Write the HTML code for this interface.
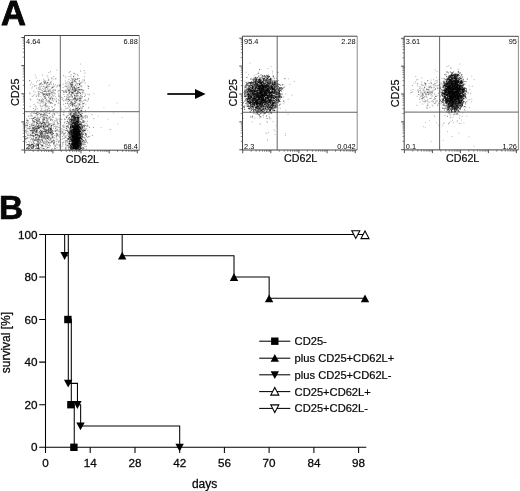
<!DOCTYPE html><html><head><meta charset="utf-8"><title>Figure</title><style>html,body{margin:0;padding:0;background:#fff}svg{display:block}text{font-family:"Liberation Sans",Arial,sans-serif;fill:#080808}</style></head><body>
<svg width="520" height="491" viewBox="0 0 520 491">
<defs><filter id="b" x="-5%" y="-5%" width="110%" height="110%"><feGaussianBlur stdDeviation="0.5"/></filter><filter id="c" x="-5%" y="-5%" width="110%" height="110%"><feGaussianBlur stdDeviation="0.22"/></filter></defs>
<rect width="520" height="491" fill="#fff"/>
<text x="0.9" y="25.0" font-size="34.5" font-weight="bold" fill="#000" stroke="#000" stroke-width="0.8">A</text>
<text x="-0.9" y="219.0" font-size="33.5" font-weight="bold" fill="#000" stroke="#000" stroke-width="0.7">B</text>
<g filter="url(#b)">
<path d="M75.1 142.9h.01M75.2 134.2h.01M73.3 135.3h.01M78.8 142.0h.01M78.6 140.1h.01M76.9 139.4h.01M71.3 146.5h.01M77.2 142.7h.01M71.2 119.2h.01M73.4 132.6h.01M76.6 137.0h.01M77.2 130.8h.01M76.6 141.6h.01M74.1 129.7h.01M74.9 136.4h.01M77.5 140.1h.01M74.6 127.5h.01M73.6 140.1h.01M77.0 121.9h.01M70.4 134.1h.01M75.5 128.9h.01M77.1 136.8h.01M71.8 146.2h.01M77.6 147.4h.01M79.7 141.3h.01M76.1 123.9h.01M77.5 131.1h.01M74.6 124.2h.01M73.2 131.9h.01M79.3 116.2h.01M71.9 140.0h.01M79.7 143.6h.01M70.7 111.1h.01M76.8 129.8h.01M72.8 147.8h.01M78.8 139.2h.01M76.5 142.1h.01M80.1 144.0h.01M77.2 143.3h.01M78.4 143.1h.01M70.5 130.8h.01M78.1 118.5h.01M75.3 148.2h.01M77.3 135.9h.01M76.7 144.3h.01M76.1 149.5h.01M74.0 133.1h.01M78.6 137.8h.01M73.4 147.4h.01M79.8 132.8h.01M72.1 136.1h.01M75.4 134.4h.01M79.6 126.7h.01M79.2 124.2h.01M73.7 144.1h.01M78.8 146.5h.01M76.7 139.0h.01M76.2 143.5h.01M75.3 140.4h.01M77.3 137.5h.01M77.9 143.4h.01M81.2 140.9h.01M74.6 133.6h.01M75.8 147.2h.01M74.9 141.6h.01M80.8 110.6h.01M72.8 140.1h.01M76.9 140.0h.01M74.6 144.4h.01M76.6 132.0h.01M82.4 141.2h.01M74.3 136.5h.01M75.2 136.8h.01M68.4 132.4h.01M78.5 125.2h.01M75.6 147.5h.01M71.2 133.8h.01M74.9 144.0h.01M78.7 109.3h.01M78.7 122.3h.01M77.6 121.8h.01M75.4 139.5h.01M78.0 139.0h.01M78.6 134.4h.01M83.2 125.5h.01M78.3 134.7h.01M76.2 144.9h.01M76.4 144.2h.01M71.7 121.7h.01M77.5 127.4h.01M73.0 122.1h.01M79.2 145.3h.01M79.8 127.7h.01M75.8 125.5h.01M78.5 135.6h.01M75.5 131.2h.01M76.9 141.8h.01M79.8 126.8h.01M79.7 135.6h.01M73.8 148.2h.01M76.1 138.8h.01M79.6 134.7h.01M69.6 133.4h.01M70.8 146.1h.01M76.7 131.1h.01M75.8 146.2h.01M75.6 148.4h.01M74.0 146.7h.01M70.7 126.1h.01M70.5 148.7h.01M72.5 137.4h.01M75.3 137.2h.01M74.2 140.0h.01M80.6 138.0h.01M77.2 148.0h.01M75.3 124.3h.01M74.3 148.8h.01M71.4 131.2h.01M78.5 145.8h.01M75.8 146.0h.01M76.2 125.1h.01M71.6 130.8h.01M78.3 131.6h.01M73.4 129.4h.01M71.7 136.3h.01M72.6 141.3h.01M69.4 140.9h.01M74.1 117.1h.01M77.8 134.6h.01M69.8 128.3h.01M76.6 132.7h.01M77.9 145.3h.01M77.6 140.9h.01M79.4 144.4h.01M77.0 115.6h.01M75.0 132.6h.01M81.0 119.0h.01M73.3 144.7h.01M80.9 136.2h.01M77.3 147.0h.01M73.4 136.6h.01M76.6 146.2h.01M75.7 135.4h.01M73.1 133.7h.01M78.2 138.6h.01M73.5 128.7h.01M83.0 149.5h.01M77.5 110.3h.01M77.5 142.5h.01M80.3 142.0h.01M75.6 143.0h.01M70.6 148.3h.01M76.7 130.1h.01M72.0 130.5h.01M76.6 139.4h.01M74.7 127.3h.01M81.5 148.4h.01M72.6 123.4h.01M80.4 147.9h.01M80.7 146.0h.01M73.4 140.2h.01M70.0 129.6h.01M75.6 143.0h.01M73.8 136.2h.01M77.0 141.5h.01M77.5 139.7h.01M74.9 145.8h.01M75.9 128.8h.01M74.1 137.5h.01M75.5 139.1h.01M75.8 139.3h.01M75.4 124.3h.01M76.9 148.6h.01M77.0 135.5h.01M77.0 127.4h.01M70.7 138.1h.01M73.3 145.3h.01M72.9 109.9h.01M74.8 123.1h.01M73.7 143.0h.01M77.1 139.4h.01M79.8 144.9h.01M75.7 143.8h.01M80.3 147.7h.01M78.6 126.1h.01M75.4 145.2h.01M75.0 148.7h.01M77.4 147.0h.01M79.1 135.2h.01M74.9 146.7h.01M78.4 137.6h.01M72.6 139.5h.01M76.8 149.4h.01M77.9 137.8h.01M78.1 143.2h.01M76.4 138.1h.01M75.1 144.7h.01M73.0 130.9h.01M75.8 122.1h.01M74.6 116.4h.01M74.0 143.5h.01M77.3 136.9h.01M75.2 122.6h.01M80.7 142.9h.01M78.8 128.2h.01M75.3 118.4h.01M77.9 147.3h.01M70.7 137.0h.01M77.5 119.0h.01M70.9 126.3h.01M74.1 122.8h.01M75.9 140.1h.01M77.5 144.9h.01M72.3 132.2h.01M72.9 126.2h.01M75.6 137.6h.01M77.1 120.8h.01M72.5 137.3h.01M75.3 134.2h.01M75.6 129.5h.01M77.7 141.2h.01M75.6 130.4h.01M75.3 108.9h.01M73.2 137.9h.01M71.7 139.6h.01M76.2 123.0h.01M75.1 134.2h.01M77.0 143.9h.01M75.7 128.6h.01M75.4 136.8h.01M77.8 140.6h.01M73.8 123.3h.01M74.8 129.7h.01M72.8 136.3h.01M74.5 138.6h.01M77.2 133.2h.01M82.1 134.1h.01M78.8 138.8h.01M78.8 112.6h.01M73.8 140.1h.01M77.9 147.4h.01M77.2 135.9h.01M77.2 126.2h.01M79.0 126.8h.01M75.2 137.7h.01M78.9 137.8h.01M73.6 140.2h.01M77.4 145.0h.01M80.3 137.7h.01M76.5 133.0h.01M79.6 130.1h.01M77.6 132.5h.01M73.9 145.0h.01M79.4 137.4h.01M74.0 146.0h.01M75.7 140.8h.01M79.9 149.4h.01M75.8 145.8h.01M74.1 137.0h.01M79.5 124.7h.01M71.7 120.5h.01M79.0 132.7h.01M75.6 134.2h.01M75.5 126.1h.01M75.9 122.4h.01M75.6 140.7h.01M77.1 135.1h.01M73.4 139.2h.01M77.9 136.3h.01M74.5 130.1h.01M73.3 133.8h.01M76.6 142.9h.01M73.9 137.6h.01M83.3 117.9h.01M74.4 139.3h.01M76.2 141.8h.01M75.2 141.3h.01M75.9 145.6h.01M70.7 128.2h.01M75.8 126.7h.01M73.0 144.1h.01M74.0 144.2h.01M77.8 140.7h.01M77.2 136.4h.01M72.0 137.2h.01M77.0 131.9h.01M75.5 145.4h.01M73.4 144.2h.01M80.8 131.7h.01M76.2 135.9h.01M80.0 140.8h.01M78.2 130.3h.01M75.8 137.4h.01M78.2 119.1h.01M77.8 136.1h.01M77.0 141.3h.01M71.8 135.3h.01M79.8 131.5h.01M73.0 123.2h.01M72.5 141.0h.01M80.4 142.0h.01M74.4 130.4h.01M77.2 143.3h.01M73.1 125.2h.01M76.6 140.1h.01M72.3 135.4h.01M74.3 142.3h.01M75.5 136.6h.01M74.8 148.6h.01M79.6 133.6h.01M78.1 129.5h.01M76.0 145.4h.01M79.9 133.5h.01M75.6 139.6h.01M71.8 137.7h.01M74.0 141.4h.01M72.7 116.7h.01M75.9 140.2h.01M74.3 146.8h.01M75.1 131.1h.01M77.1 121.0h.01M74.0 137.3h.01M78.1 135.8h.01M76.6 130.6h.01M74.1 137.7h.01M76.3 148.3h.01M72.5 115.4h.01M77.4 145.9h.01M76.4 140.2h.01M78.3 141.4h.01M80.3 124.5h.01M74.8 101.3h.01M78.0 133.6h.01M75.8 134.8h.01M74.5 128.7h.01M74.1 144.2h.01M75.9 138.2h.01M75.3 147.1h.01M77.1 136.0h.01M77.6 135.9h.01M77.1 127.4h.01M78.7 141.1h.01M76.7 146.9h.01M76.3 135.9h.01M71.6 147.7h.01M75.9 134.5h.01M76.7 138.3h.01M77.6 133.6h.01M75.7 115.0h.01M74.7 144.6h.01M79.4 133.7h.01M74.9 145.2h.01M80.3 137.9h.01M79.1 130.0h.01M76.4 136.7h.01M76.1 149.4h.01M82.3 130.5h.01M74.2 142.7h.01M73.0 142.7h.01M77.3 134.6h.01M77.2 121.2h.01M77.9 121.3h.01M73.9 131.7h.01M74.7 146.5h.01M76.0 133.3h.01M75.8 141.3h.01M79.1 140.3h.01M81.8 116.7h.01M75.7 141.9h.01M78.4 144.5h.01M75.1 126.4h.01M76.1 148.4h.01M72.9 126.7h.01M75.7 117.2h.01M75.1 132.9h.01M77.0 130.1h.01M73.4 133.4h.01M75.7 130.5h.01M75.8 145.4h.01M73.7 133.1h.01M73.8 137.1h.01M77.2 123.2h.01M77.1 137.2h.01M70.9 140.6h.01M79.0 117.9h.01M78.0 139.7h.01M77.1 142.1h.01M79.3 135.2h.01M78.2 133.2h.01M77.8 129.0h.01M77.0 135.8h.01M72.7 129.2h.01M76.3 147.4h.01M77.0 143.0h.01M74.7 131.7h.01M78.2 138.2h.01M75.0 131.5h.01M75.1 144.0h.01M76.8 124.8h.01M77.0 139.4h.01M73.1 145.6h.01M75.0 134.0h.01M73.9 142.1h.01M74.1 146.0h.01M81.8 110.8h.01M74.6 142.8h.01M75.5 130.5h.01M81.6 138.3h.01M71.4 146.5h.01M71.2 149.6h.01M74.2 139.0h.01M79.2 138.7h.01M72.0 119.7h.01M79.0 145.3h.01M73.6 146.5h.01M77.1 144.3h.01M69.7 134.3h.01M78.2 145.2h.01M78.2 111.7h.01M76.3 142.7h.01M82.7 127.5h.01M74.9 137.9h.01M78.2 132.8h.01M78.9 129.2h.01M76.5 132.0h.01M76.2 130.2h.01M71.5 149.0h.01M76.6 131.6h.01M76.3 147.9h.01M73.2 136.3h.01M77.3 143.0h.01M74.9 115.4h.01M79.2 140.9h.01M75.8 134.6h.01M76.5 133.0h.01M73.0 129.7h.01M74.2 131.1h.01M72.7 144.2h.01M72.3 144.4h.01M73.1 141.2h.01M79.5 139.6h.01M73.8 138.0h.01M76.2 119.3h.01M74.2 139.2h.01M74.5 138.3h.01M77.8 145.5h.01M78.2 143.7h.01M75.0 137.3h.01M75.1 134.2h.01M75.3 119.4h.01M74.9 137.2h.01M73.2 137.2h.01M77.2 135.8h.01M81.4 110.1h.01M75.2 118.3h.01M69.0 138.8h.01M77.2 134.3h.01M77.3 113.9h.01M78.1 141.4h.01M75.9 131.3h.01M77.5 132.4h.01M76.4 132.1h.01M69.7 137.2h.01M76.3 145.4h.01M73.4 137.2h.01M77.5 139.0h.01M73.3 117.3h.01M78.3 146.0h.01M74.1 130.0h.01M78.2 127.9h.01M70.9 127.0h.01M73.9 129.8h.01M76.4 129.6h.01M79.3 136.7h.01M74.2 139.8h.01M75.8 134.2h.01M76.7 130.2h.01M70.8 114.3h.01M72.4 129.5h.01M75.7 138.1h.01M77.3 138.8h.01M73.7 130.1h.01M70.1 135.7h.01M77.1 143.1h.01M75.5 135.7h.01M78.3 137.7h.01M77.8 143.6h.01M74.3 133.7h.01M73.6 129.1h.01M75.9 143.5h.01M79.0 146.0h.01M79.1 124.2h.01M74.1 142.3h.01M79.7 138.6h.01M73.5 133.8h.01M74.0 128.5h.01M79.9 130.9h.01M79.0 141.0h.01M74.1 141.8h.01M80.2 144.0h.01M79.2 138.5h.01M77.2 135.4h.01M71.9 136.8h.01M76.4 131.5h.01M75.0 145.8h.01M81.2 144.1h.01M76.7 121.2h.01M81.0 138.3h.01M75.7 125.8h.01M75.6 126.0h.01M76.0 142.4h.01M75.9 140.4h.01M74.0 118.4h.01M75.3 129.5h.01M73.1 133.8h.01M76.6 125.1h.01M77.6 135.9h.01M76.1 136.2h.01M75.7 145.2h.01M75.6 112.3h.01M75.7 128.2h.01M77.6 131.1h.01M73.0 125.7h.01M72.0 112.4h.01M70.7 141.3h.01M74.1 117.9h.01M71.8 144.0h.01M73.7 133.6h.01M81.0 148.3h.01M76.2 139.4h.01M75.0 142.3h.01M76.6 138.0h.01M74.4 123.6h.01M74.4 121.3h.01M79.1 143.1h.01M78.2 117.5h.01M80.8 146.0h.01M81.4 124.6h.01M77.2 141.9h.01M76.3 139.3h.01M78.6 121.8h.01M72.4 122.9h.01M74.3 131.1h.01M76.8 140.3h.01M75.9 130.4h.01M74.6 147.5h.01M77.9 138.6h.01M74.2 144.3h.01M78.9 134.7h.01M78.0 125.8h.01M78.5 139.6h.01M71.5 144.5h.01M74.0 135.8h.01M76.6 134.0h.01M76.5 131.7h.01M77.6 137.6h.01M76.4 108.6h.01M78.9 137.8h.01M71.0 138.5h.01M77.1 148.7h.01M75.4 144.6h.01M74.8 125.8h.01M78.8 147.0h.01M80.0 146.5h.01M74.3 120.0h.01M74.0 130.4h.01M73.6 143.6h.01M76.7 134.7h.01M76.3 136.0h.01M76.4 145.4h.01M78.4 130.3h.01M76.1 149.1h.01M71.4 134.0h.01M75.9 122.4h.01M74.4 145.1h.01M73.5 122.8h.01M77.2 147.4h.01M76.3 123.8h.01M77.9 145.8h.01M77.3 132.4h.01M76.6 145.8h.01M74.3 118.1h.01M76.7 142.5h.01M75.8 146.8h.01M74.2 136.6h.01M75.0 143.5h.01M80.1 134.9h.01M77.9 143.7h.01M80.6 135.6h.01M75.5 126.3h.01M77.2 141.9h.01M75.3 139.3h.01M72.0 148.5h.01M74.7 125.9h.01M73.8 128.8h.01M78.1 148.6h.01M72.1 147.2h.01M78.2 131.4h.01M71.8 129.7h.01M74.1 141.1h.01M74.8 116.2h.01M76.4 121.4h.01M78.2 124.8h.01M73.9 128.5h.01M78.1 143.8h.01M76.7 121.2h.01M74.4 131.7h.01M73.2 142.8h.01M73.8 130.0h.01M73.0 115.9h.01M76.3 127.2h.01M68.5 139.3h.01M79.1 140.6h.01M78.8 132.9h.01M78.6 145.6h.01M71.7 133.2h.01M72.0 136.4h.01M77.4 126.3h.01M72.2 148.6h.01M75.2 140.3h.01M75.4 148.0h.01M78.6 138.4h.01M72.1 145.3h.01M74.5 144.1h.01M78.9 132.8h.01M74.3 142.1h.01M77.2 123.6h.01M72.4 140.1h.01M73.5 149.4h.01M77.9 119.9h.01M73.6 139.2h.01M74.5 135.9h.01M77.1 129.0h.01M77.1 130.8h.01M74.3 143.1h.01M74.3 140.5h.01M80.1 137.8h.01M75.4 145.2h.01M74.8 148.9h.01M72.3 144.0h.01M74.4 129.1h.01M80.6 128.6h.01M80.5 144.4h.01M79.7 127.2h.01M75.5 136.1h.01M82.4 139.4h.01M74.7 130.9h.01M77.0 141.0h.01M74.9 142.5h.01M79.7 127.0h.01M72.1 126.0h.01M73.0 118.1h.01M77.0 118.0h.01M71.4 134.2h.01M70.6 145.7h.01M73.8 134.7h.01M75.9 143.2h.01M74.9 137.7h.01M74.3 138.7h.01M72.6 138.2h.01M70.6 132.4h.01M81.0 138.3h.01M72.4 140.2h.01M73.2 120.2h.01M73.8 145.2h.01M76.8 136.5h.01M73.3 126.2h.01M79.4 140.1h.01M73.2 115.3h.01M72.7 136.7h.01M76.4 135.8h.01M75.0 123.1h.01M73.8 146.4h.01M71.2 134.6h.01M76.5 148.4h.01M72.8 143.8h.01M76.8 129.8h.01M77.1 128.1h.01M73.7 137.3h.01M68.5 136.3h.01M73.1 122.1h.01M74.7 145.5h.01M72.7 123.7h.01M80.0 141.7h.01M78.4 128.8h.01M78.0 140.2h.01M77.6 137.8h.01M79.1 130.7h.01M73.2 122.0h.01M78.9 129.7h.01M73.0 127.6h.01M74.6 124.2h.01M75.0 130.9h.01M74.3 127.4h.01M75.9 132.7h.01M76.1 140.1h.01M76.7 114.5h.01M74.4 129.1h.01M77.9 120.9h.01M73.9 134.4h.01M74.9 147.9h.01M74.6 147.6h.01M71.8 118.5h.01M79.1 142.1h.01M77.1 138.8h.01M77.1 124.7h.01M78.4 131.9h.01M78.5 138.4h.01M70.5 124.0h.01M78.8 136.1h.01M74.7 140.0h.01M74.7 131.8h.01M76.1 139.0h.01M79.9 138.0h.01M80.4 148.6h.01M76.2 138.9h.01M75.4 129.8h.01M75.6 130.8h.01M80.2 143.1h.01M74.6 117.4h.01M75.7 133.1h.01M72.9 125.6h.01M69.7 143.5h.01M75.7 135.9h.01M79.7 138.9h.01M76.3 133.6h.01M74.9 137.8h.01M73.4 147.7h.01M72.0 143.4h.01M73.3 148.9h.01M73.9 129.6h.01M80.3 131.3h.01M73.7 133.9h.01M82.6 148.0h.01M74.3 118.7h.01M80.8 134.7h.01M73.9 132.1h.01M70.7 147.0h.01M72.9 148.7h.01M71.2 124.2h.01M76.6 129.5h.01M77.9 137.6h.01M72.6 144.0h.01M78.1 117.4h.01M80.7 142.7h.01M77.9 118.0h.01M73.9 133.8h.01M78.7 122.2h.01M73.4 116.2h.01M75.1 141.1h.01M71.2 131.3h.01M77.6 134.3h.01M72.6 127.7h.01M74.0 139.0h.01M76.6 126.2h.01M80.0 147.5h.01M76.1 129.9h.01M70.7 126.8h.01M78.3 129.1h.01M72.2 139.6h.01M76.5 143.9h.01M73.5 147.8h.01M73.1 144.8h.01M76.3 140.1h.01M78.4 137.3h.01M78.8 146.7h.01M76.2 131.5h.01M73.8 132.0h.01M75.3 137.2h.01M83.8 144.2h.01M77.9 128.5h.01M73.9 134.1h.01M76.3 126.6h.01M80.2 131.6h.01M78.7 113.0h.01M75.8 140.4h.01M76.3 143.8h.01M76.6 139.2h.01M70.7 130.0h.01M69.5 144.1h.01M76.6 135.4h.01M73.6 131.4h.01M71.5 117.2h.01M74.5 128.3h.01M74.3 139.5h.01M84.0 130.6h.01M75.9 140.4h.01M75.7 147.3h.01M80.6 124.4h.01M76.2 134.7h.01M76.8 121.4h.01M71.1 113.2h.01M77.2 139.5h.01M76.0 112.7h.01M74.8 129.6h.01M72.0 127.9h.01M77.7 143.2h.01M75.7 142.9h.01M74.2 138.2h.01M75.9 143.3h.01M75.6 136.0h.01M75.4 130.7h.01M81.8 142.9h.01M79.6 121.2h.01M77.7 146.3h.01M77.9 125.1h.01M73.4 140.3h.01M77.2 126.8h.01M74.8 133.3h.01M76.0 141.0h.01M75.0 124.5h.01M75.5 148.3h.01M77.0 144.4h.01M77.1 129.5h.01M77.3 148.1h.01M81.2 145.3h.01M74.9 131.2h.01M73.6 138.7h.01M75.7 144.5h.01M81.9 137.2h.01M77.6 142.5h.01M76.5 135.3h.01M75.5 128.8h.01M76.3 137.2h.01M76.7 128.5h.01M75.9 138.0h.01M77.4 126.3h.01M76.9 147.8h.01M77.4 133.6h.01M74.5 135.0h.01M75.4 130.8h.01M76.8 139.6h.01M73.3 129.8h.01M75.5 144.6h.01M72.6 126.8h.01M77.1 124.6h.01M76.1 141.2h.01M75.5 126.8h.01M75.6 134.0h.01M76.7 128.7h.01M78.7 119.9h.01M75.3 137.6h.01M78.4 131.1h.01M77.3 131.5h.01M74.7 142.2h.01M73.3 147.7h.01M79.1 137.9h.01M72.7 141.7h.01M78.9 148.9h.01M78.0 118.3h.01M72.5 149.4h.01M80.9 145.5h.01M78.8 134.0h.01M72.5 136.4h.01M75.3 137.0h.01M77.7 136.0h.01M76.3 142.0h.01M77.0 138.4h.01M75.2 130.9h.01M79.4 139.1h.01M72.9 131.6h.01M75.4 132.8h.01M78.7 125.3h.01M77.1 139.0h.01M72.6 138.0h.01M75.5 142.8h.01M74.6 140.7h.01M71.3 126.1h.01M77.9 148.4h.01M75.8 131.2h.01M78.7 115.5h.01M73.6 144.6h.01M77.6 126.7h.01M76.2 128.1h.01M75.9 147.0h.01M68.8 149.2h.01M77.8 115.6h.01M77.9 118.8h.01M78.9 141.7h.01M81.9 131.1h.01M75.8 148.5h.01M74.1 130.1h.01M74.8 136.7h.01M72.9 142.6h.01M77.3 138.3h.01M80.4 134.1h.01M79.3 131.8h.01M77.8 117.2h.01M76.3 135.7h.01M74.5 131.1h.01M74.9 129.9h.01M69.9 131.2h.01M74.3 132.0h.01M72.9 136.1h.01M77.9 134.9h.01M78.4 147.2h.01M78.9 134.1h.01M75.5 149.2h.01M74.3 136.2h.01M76.8 141.4h.01M75.1 147.8h.01M75.3 145.1h.01M78.7 144.4h.01M77.8 125.3h.01M72.3 131.0h.01M72.5 140.7h.01M73.5 129.8h.01M75.1 144.8h.01M73.1 146.8h.01M78.3 138.2h.01M77.1 131.6h.01M72.9 133.2h.01M76.3 140.8h.01M77.8 129.3h.01M78.3 141.5h.01M71.7 143.8h.01M77.3 142.3h.01M80.1 133.1h.01M77.2 145.4h.01M71.9 123.8h.01M77.2 126.1h.01M75.5 120.2h.01M76.0 125.6h.01M76.7 121.4h.01M77.0 134.7h.01M76.0 136.8h.01M76.2 123.6h.01M68.9 137.9h.01M73.3 132.7h.01M77.0 116.7h.01M73.7 131.1h.01M72.9 140.9h.01M75.4 128.9h.01M73.1 146.0h.01M74.0 143.6h.01M77.0 117.6h.01M72.9 137.5h.01M76.7 145.7h.01M78.0 148.4h.01M74.8 135.3h.01M77.9 133.0h.01M78.7 120.8h.01M77.6 135.7h.01M70.5 147.8h.01M76.6 137.7h.01M72.9 132.6h.01M79.9 128.8h.01M66.4 128.5h.01M72.6 136.1h.01M74.7 127.9h.01M73.5 148.5h.01M74.3 126.0h.01M77.9 143.4h.01M73.0 145.4h.01M70.8 127.8h.01M78.8 134.8h.01M72.3 142.9h.01M78.3 137.3h.01M70.9 133.9h.01M76.9 145.6h.01M80.8 134.8h.01M74.5 137.1h.01M79.1 127.6h.01M79.3 108.6h.01M78.0 130.4h.01M77.0 144.7h.01M72.6 136.6h.01M76.4 143.7h.01M73.3 127.1h.01M75.3 135.2h.01M71.8 147.3h.01M78.1 137.7h.01M77.8 125.8h.01M74.9 131.5h.01M72.4 137.7h.01M66.7 130.4h.01M73.3 132.6h.01M76.9 141.7h.01M75.9 132.5h.01M77.1 141.3h.01M70.8 134.7h.01M72.1 125.1h.01M76.2 138.1h.01M76.1 128.3h.01M75.3 127.9h.01M76.8 144.7h.01M73.6 132.7h.01M73.3 140.7h.01M81.1 144.9h.01M69.9 124.3h.01M72.3 142.9h.01M75.8 140.6h.01M80.6 128.8h.01M76.7 129.3h.01M70.3 121.5h.01M69.2 138.2h.01M75.9 147.9h.01M75.4 130.2h.01M71.0 139.3h.01M75.9 144.0h.01M74.7 142.7h.01M78.0 136.0h.01M74.6 135.5h.01M73.2 135.3h.01M75.0 139.7h.01M74.6 143.8h.01M76.6 145.5h.01M75.9 140.3h.01M74.5 129.3h.01M77.6 142.1h.01M76.5 132.8h.01M71.0 144.5h.01M76.3 131.7h.01M73.9 137.3h.01M74.4 139.1h.01M75.2 129.6h.01M78.7 129.3h.01M74.4 143.3h.01M74.3 132.9h.01M76.8 133.6h.01M72.4 136.4h.01M72.8 147.7h.01M73.7 133.8h.01M74.9 140.3h.01M78.5 146.0h.01M73.7 147.0h.01M75.5 141.2h.01M75.1 144.5h.01M78.8 149.4h.01M75.2 148.0h.01M79.7 127.7h.01M79.8 123.5h.01M77.3 143.7h.01M79.8 140.4h.01M74.5 129.1h.01M72.4 145.5h.01M75.2 130.0h.01M77.2 129.5h.01M74.6 132.7h.01M75.4 121.0h.01M76.5 138.3h.01M76.7 143.4h.01M74.9 147.2h.01M78.1 139.7h.01M74.7 132.5h.01M77.7 126.0h.01M75.4 129.6h.01M72.0 143.8h.01M75.7 137.9h.01M78.2 121.8h.01M75.6 140.5h.01M78.0 126.1h.01M77.7 139.8h.01M79.5 149.5h.01M75.8 133.0h.01M74.9 127.6h.01M75.7 117.8h.01M75.6 142.0h.01M78.5 133.9h.01M79.5 130.7h.01M75.4 117.8h.01M73.7 129.2h.01M79.7 142.9h.01M72.9 143.0h.01M77.1 135.1h.01M75.9 134.4h.01M74.4 119.3h.01M79.6 134.6h.01M73.8 135.3h.01M78.2 141.1h.01M74.3 141.2h.01M75.3 142.8h.01M74.7 122.4h.01M76.0 145.3h.01M72.9 136.4h.01M78.1 133.7h.01M78.0 148.0h.01M71.4 132.2h.01M73.4 130.7h.01M76.3 117.8h.01M77.5 143.2h.01M74.6 143.0h.01M77.8 140.7h.01M74.5 139.1h.01M74.4 148.0h.01M74.7 142.3h.01M76.2 138.2h.01M80.3 136.6h.01M79.5 145.9h.01M79.3 135.8h.01M78.2 145.2h.01M74.2 140.2h.01M75.5 137.1h.01M79.2 130.2h.01M71.4 119.8h.01M74.6 131.0h.01M75.8 143.2h.01M80.4 140.6h.01M77.0 130.1h.01M79.3 117.7h.01M78.0 122.4h.01M75.0 143.4h.01M76.9 129.3h.01M73.5 147.3h.01M75.9 140.5h.01M72.3 131.5h.01M77.6 122.6h.01M81.2 123.3h.01M72.6 137.9h.01M77.1 144.9h.01M74.8 135.4h.01M75.2 131.7h.01M69.1 147.2h.01M76.5 139.1h.01M74.2 140.0h.01M75.8 136.7h.01M78.7 120.1h.01M76.5 126.7h.01M73.0 136.5h.01M74.3 147.1h.01M73.3 120.5h.01M77.1 133.9h.01M75.0 148.4h.01M73.5 133.7h.01M76.2 141.7h.01M74.5 147.9h.01M81.6 133.4h.01M80.6 116.2h.01M79.4 134.0h.01M76.2 134.1h.01M74.1 124.6h.01M78.8 134.0h.01M74.4 130.4h.01M77.5 138.7h.01M74.5 127.2h.01M79.2 145.4h.01M73.3 147.5h.01M72.9 144.0h.01M73.3 133.3h.01M77.1 141.9h.01M78.4 129.1h.01M75.8 142.2h.01M73.8 136.0h.01M72.4 138.4h.01M78.3 145.7h.01M74.9 135.2h.01M74.9 139.7h.01M70.8 145.3h.01M71.7 132.3h.01M75.9 132.3h.01M80.1 136.5h.01M79.9 149.3h.01M74.5 141.5h.01M79.2 134.1h.01M76.0 131.9h.01M76.0 133.9h.01M76.0 147.6h.01M79.4 138.8h.01M76.3 146.1h.01M75.0 126.8h.01M78.7 128.1h.01M78.2 127.8h.01M80.5 127.0h.01M73.7 119.7h.01M77.7 144.6h.01M75.3 112.0h.01M75.7 134.4h.01M74.8 134.6h.01M71.2 131.8h.01M74.9 130.3h.01M76.8 148.2h.01M77.7 125.7h.01M76.2 138.9h.01M79.5 149.6h.01M74.7 141.5h.01M78.2 128.3h.01M74.0 119.8h.01M76.2 136.9h.01M75.0 142.5h.01M70.3 137.3h.01M76.0 134.8h.01M74.6 128.0h.01M74.2 138.4h.01M77.3 128.8h.01M78.4 127.2h.01M77.9 141.8h.01M75.1 135.8h.01M77.0 146.2h.01M72.3 140.3h.01M73.9 143.9h.01M79.3 138.0h.01M75.5 139.3h.01M68.1 145.3h.01M77.3 139.2h.01M74.8 130.1h.01M69.1 132.9h.01M76.5 137.4h.01M71.5 130.8h.01M79.0 124.5h.01M73.2 126.4h.01M74.4 144.0h.01M77.3 117.0h.01M79.6 131.5h.01M75.6 125.0h.01M74.1 130.2h.01M73.2 134.1h.01M78.1 141.0h.01M73.2 138.7h.01M75.9 145.2h.01M74.9 142.1h.01M81.3 138.5h.01M73.0 140.8h.01M73.7 133.8h.01M76.3 140.9h.01M75.1 146.1h.01M75.3 124.4h.01M78.1 133.8h.01M78.9 130.9h.01M77.3 140.7h.01M68.8 122.4h.01M70.9 146.7h.01M78.6 142.5h.01M77.5 132.5h.01M75.8 139.8h.01M76.9 144.6h.01M75.3 130.4h.01M74.3 141.6h.01M71.5 124.9h.01M74.7 131.9h.01M75.1 110.7h.01M74.9 135.0h.01M77.8 117.5h.01M75.0 142.3h.01M77.1 149.6h.01M78.5 126.9h.01M77.5 134.1h.01M74.2 128.9h.01M74.7 128.9h.01M78.4 141.3h.01M79.4 141.7h.01M74.2 148.1h.01M74.1 132.8h.01M75.4 137.9h.01M78.9 131.4h.01M76.7 137.2h.01M72.5 126.4h.01M75.2 141.6h.01M76.6 142.3h.01M75.9 133.0h.01M76.9 127.4h.01M72.3 134.1h.01M72.1 132.3h.01M73.9 131.9h.01M75.7 129.4h.01M74.7 120.2h.01M76.2 128.6h.01M76.9 108.9h.01M73.7 140.0h.01M69.4 133.9h.01M76.0 138.5h.01M71.9 139.8h.01M76.2 127.7h.01M77.7 137.0h.01M75.8 132.9h.01M77.2 138.5h.01M78.8 142.1h.01M74.2 135.2h.01M78.2 133.8h.01M76.8 142.8h.01M75.3 113.9h.01M76.1 139.7h.01M76.2 129.8h.01M79.0 136.1h.01M74.2 130.2h.01M76.7 126.4h.01M79.2 148.2h.01M79.4 143.5h.01M79.0 142.5h.01M79.4 132.5h.01M76.1 145.4h.01M75.6 148.7h.01M76.0 144.5h.01M76.0 122.5h.01M77.3 131.4h.01M75.8 118.0h.01M75.3 146.7h.01M70.1 139.5h.01M73.4 130.9h.01M70.9 127.1h.01M76.9 132.5h.01M81.6 111.8h.01M75.6 139.7h.01M81.7 138.9h.01M77.1 141.2h.01M75.3 133.3h.01M74.6 116.3h.01M76.5 137.2h.01M75.5 134.8h.01M73.8 137.3h.01M74.6 139.6h.01M84.0 141.5h.01M78.1 145.8h.01M77.7 145.9h.01M74.5 137.5h.01M73.9 147.3h.01M78.0 132.7h.01M79.1 126.1h.01M75.6 144.0h.01M75.7 141.5h.01M78.9 140.9h.01M72.9 144.8h.01M75.5 138.7h.01M74.3 123.4h.01M72.5 133.9h.01M73.0 109.7h.01M78.8 125.6h.01M73.9 142.9h.01M73.8 144.2h.01M74.5 140.6h.01M76.1 137.5h.01M71.0 122.5h.01M74.4 142.9h.01M76.2 142.4h.01M78.4 122.2h.01M76.5 135.7h.01M75.0 128.8h.01M73.7 127.0h.01M80.3 137.6h.01M77.8 127.5h.01M68.5 118.9h.01M75.7 127.3h.01M75.2 127.3h.01M72.1 135.1h.01M74.7 129.2h.01M73.5 128.0h.01M71.5 140.3h.01M72.8 135.9h.01M76.1 143.2h.01M78.8 131.8h.01M72.5 135.6h.01M76.6 130.4h.01M72.1 141.2h.01M78.5 117.8h.01M76.3 135.2h.01M76.4 132.6h.01M77.0 144.1h.01M77.8 143.4h.01M76.9 125.5h.01M74.7 138.8h.01M74.8 126.7h.01" stroke="#000" stroke-opacity="0.85" stroke-width="0.75" stroke-linecap="square" fill="none"/>
<path d="M66.0 137.0h.01M76.0 126.9h.01M73.6 123.2h.01M71.8 132.8h.01M72.3 142.3h.01M75.0 135.6h.01M78.0 149.5h.01M79.0 136.8h.01M74.9 124.2h.01M74.0 142.3h.01M77.0 129.3h.01M68.7 115.3h.01M77.5 146.5h.01M77.8 117.3h.01M74.7 136.7h.01M70.9 138.2h.01M74.7 123.8h.01M69.1 143.9h.01M77.7 123.2h.01M70.4 144.8h.01M79.0 130.3h.01M84.3 130.5h.01M70.1 147.3h.01M74.8 138.2h.01M76.0 121.8h.01M69.4 131.6h.01M83.3 121.8h.01M83.1 136.7h.01M69.8 137.2h.01M78.8 123.1h.01M64.4 138.3h.01M69.9 139.4h.01M65.6 132.3h.01M71.5 116.0h.01M74.5 136.1h.01M72.8 119.6h.01M76.9 112.7h.01M78.7 140.0h.01M84.8 144.7h.01M77.7 137.2h.01M75.9 117.9h.01M83.6 140.4h.01M74.3 120.1h.01M83.7 140.5h.01M69.5 142.2h.01M85.9 133.7h.01M77.9 128.9h.01M72.4 147.0h.01M92.3 135.4h.01M75.1 143.6h.01M74.2 142.8h.01M80.2 121.7h.01M70.1 133.1h.01M80.2 137.4h.01M82.4 117.3h.01M78.4 126.4h.01M76.3 137.9h.01M70.6 131.2h.01M69.6 137.2h.01M71.3 128.0h.01M77.0 126.1h.01M81.9 126.3h.01M80.3 137.4h.01M70.3 131.4h.01M71.3 129.6h.01M78.2 118.2h.01M63.5 142.2h.01M65.2 142.7h.01M81.3 138.7h.01M74.7 131.0h.01M77.2 130.3h.01M72.9 129.5h.01M82.0 126.5h.01M77.8 120.1h.01M72.0 117.4h.01M74.7 142.3h.01M77.4 128.0h.01M79.1 129.8h.01M77.8 137.3h.01M78.7 104.0h.01M68.9 143.4h.01M74.5 127.3h.01M83.8 140.7h.01M85.9 140.2h.01M74.7 142.8h.01M71.6 128.6h.01M72.8 131.3h.01M79.9 128.2h.01M77.5 128.0h.01M80.5 100.7h.01M74.7 136.0h.01M70.1 146.2h.01M77.0 149.5h.01M80.9 141.7h.01M75.0 120.9h.01M74.6 128.4h.01M77.1 128.4h.01M92.0 114.7h.01M82.0 128.3h.01M74.5 145.2h.01M75.8 119.4h.01M78.0 131.6h.01M64.9 136.4h.01M70.2 125.0h.01M78.4 137.6h.01M78.0 126.6h.01M77.1 132.5h.01M64.1 115.0h.01M74.8 130.7h.01M72.8 145.8h.01M75.2 138.5h.01M73.5 132.0h.01M66.6 127.0h.01M70.8 126.1h.01M82.3 137.2h.01M82.3 144.3h.01M80.7 146.1h.01M72.6 143.7h.01M74.1 127.6h.01M80.2 123.8h.01M77.2 138.5h.01M77.8 129.7h.01M69.0 134.4h.01M80.4 143.5h.01M79.3 147.3h.01M70.5 133.5h.01M77.6 146.0h.01M76.6 140.2h.01M64.2 133.7h.01M88.9 136.8h.01M66.1 135.6h.01M68.2 125.8h.01M78.3 142.1h.01M81.2 136.4h.01M71.3 132.8h.01M77.6 130.7h.01M72.3 129.7h.01M67.8 121.7h.01M75.3 129.7h.01M77.4 133.6h.01M69.6 121.0h.01M77.8 123.5h.01M78.1 121.1h.01M76.5 133.1h.01M81.1 129.3h.01M73.8 137.0h.01M74.4 127.5h.01M74.1 139.7h.01M77.0 142.3h.01M85.5 133.6h.01M69.4 135.9h.01M78.0 107.1h.01M75.9 116.2h.01M81.3 115.9h.01M83.1 144.9h.01M73.9 140.0h.01M83.8 130.0h.01M75.7 127.3h.01M81.9 108.1h.01M83.3 122.4h.01M80.7 114.5h.01M70.8 126.8h.01M80.2 114.5h.01M79.0 126.4h.01M82.4 130.3h.01M78.4 131.9h.01M85.3 129.7h.01M76.2 142.3h.01M71.9 136.4h.01M63.8 135.3h.01M72.4 115.9h.01M68.3 147.7h.01M78.1 115.8h.01M85.4 125.6h.01M73.8 137.0h.01M69.8 114.5h.01M71.9 148.2h.01M80.8 115.0h.01M82.2 134.4h.01M78.4 134.6h.01M78.0 122.0h.01M71.0 125.5h.01M73.9 141.4h.01M72.5 126.9h.01M79.5 139.2h.01M74.0 121.1h.01M70.5 114.8h.01M81.9 147.0h.01M85.7 140.0h.01M77.6 143.1h.01M80.8 130.9h.01M66.8 117.1h.01M70.7 143.1h.01M82.1 129.9h.01M79.4 133.4h.01M77.4 127.5h.01M75.7 133.9h.01M66.2 140.4h.01M75.8 145.7h.01M81.4 143.4h.01M80.1 122.6h.01M82.2 122.5h.01M82.6 142.0h.01M62.8 144.8h.01M70.6 148.0h.01M72.2 125.1h.01M67.6 131.4h.01M81.2 125.9h.01M85.6 142.3h.01M73.0 119.4h.01M67.1 140.7h.01M82.7 121.2h.01M75.8 130.7h.01M74.4 140.0h.01M86.9 126.3h.01M80.3 147.1h.01M74.3 132.2h.01M68.7 147.0h.01M73.0 126.1h.01M76.2 123.7h.01M70.3 130.4h.01M83.7 131.5h.01M78.6 116.3h.01M73.7 115.5h.01M75.2 141.3h.01M66.6 123.4h.01M77.2 122.9h.01M80.0 145.6h.01M78.1 128.8h.01M75.6 126.4h.01M75.1 137.8h.01M74.2 145.7h.01M89.6 127.4h.01M77.6 143.9h.01M79.2 131.1h.01M73.3 146.1h.01M79.1 140.1h.01M71.5 141.6h.01M80.0 131.8h.01M65.8 141.3h.01M69.6 117.5h.01M74.5 140.6h.01M76.1 119.9h.01M68.2 127.3h.01M75.9 124.0h.01M71.3 132.1h.01M72.9 126.9h.01M76.0 130.4h.01M79.1 119.7h.01M75.4 143.3h.01M82.1 140.7h.01M76.0 115.2h.01M67.3 145.8h.01M79.4 140.9h.01M67.0 108.2h.01M70.2 119.7h.01M76.6 121.6h.01M84.2 126.5h.01M72.8 144.5h.01M77.6 123.1h.01M69.3 131.0h.01M70.1 110.5h.01M79.1 142.5h.01M81.0 139.2h.01M65.1 133.7h.01M72.2 119.7h.01M69.9 143.3h.01M78.3 110.8h.01M80.6 149.2h.01M76.0 119.3h.01M85.3 118.0h.01M75.4 110.8h.01M69.1 113.3h.01M81.6 148.3h.01M73.6 117.5h.01M75.5 138.6h.01M67.6 119.9h.01M75.3 142.6h.01M76.2 139.5h.01M69.1 103.7h.01M77.5 122.8h.01M75.1 129.4h.01M78.4 124.6h.01M83.5 134.4h.01M78.6 141.7h.01M81.4 138.9h.01M66.4 126.3h.01M85.8 139.8h.01M78.8 139.7h.01M72.4 125.7h.01M72.3 148.1h.01M78.3 119.5h.01M85.2 138.1h.01M82.2 136.6h.01M74.0 136.1h.01M69.8 119.4h.01M71.0 127.6h.01M68.5 132.7h.01M85.7 133.4h.01M80.6 131.3h.01M77.9 133.6h.01M72.9 134.9h.01M67.8 139.4h.01M74.2 120.7h.01M73.9 140.8h.01M72.1 139.8h.01M69.9 132.6h.01M77.2 143.3h.01M67.9 126.8h.01M84.8 130.5h.01M87.5 125.0h.01M74.3 114.4h.01M79.2 137.3h.01M86.7 136.0h.01M74.4 116.6h.01M75.4 145.7h.01M79.8 149.1h.01M80.5 133.4h.01M79.1 136.1h.01M77.8 121.0h.01M77.9 137.6h.01M59.3 140.9h.01M84.1 122.3h.01M65.7 137.5h.01M77.6 138.3h.01M69.8 128.2h.01M76.9 143.2h.01M87.7 137.6h.01M72.5 104.8h.01M81.6 132.4h.01M75.2 121.8h.01M79.8 111.8h.01M76.4 135.5h.01M75.3 135.2h.01M80.5 114.8h.01M74.2 134.8h.01M81.0 124.1h.01M80.2 138.8h.01M67.7 115.7h.01M68.0 135.7h.01M76.9 143.0h.01M80.3 127.2h.01M81.6 144.2h.01M78.4 139.9h.01M68.8 138.5h.01M70.2 119.2h.01M73.9 135.7h.01M75.5 129.9h.01M70.3 136.3h.01M71.7 116.5h.01M73.6 120.8h.01M74.2 131.4h.01M76.5 146.4h.01M78.2 111.4h.01M69.8 118.7h.01M78.2 135.3h.01M85.6 130.6h.01M77.5 134.9h.01M82.9 126.4h.01M79.6 129.3h.01M76.4 136.0h.01M75.9 128.2h.01M84.3 130.7h.01M79.2 146.8h.01M83.4 147.6h.01M85.2 116.2h.01M86.5 134.3h.01M66.2 126.0h.01M68.2 133.7h.01M67.6 121.5h.01M77.4 136.0h.01M71.4 131.1h.01M75.3 134.9h.01M75.8 131.2h.01M80.6 114.0h.01M73.1 135.7h.01M73.6 127.1h.01M73.4 136.6h.01M82.6 131.7h.01M74.3 138.4h.01M74.5 109.9h.01M77.3 129.3h.01M72.7 141.8h.01M76.0 127.0h.01M63.8 112.5h.01M75.9 132.5h.01M78.2 136.8h.01M73.2 118.2h.01M69.8 132.3h.01M69.5 143.4h.01M68.5 111.6h.01M74.7 111.8h.01M84.7 121.6h.01M75.5 131.0h.01M71.3 111.9h.01M65.6 144.8h.01M67.8 141.0h.01M75.7 144.6h.01M73.0 143.0h.01M80.7 141.6h.01M83.8 131.8h.01M84.3 125.2h.01M85.0 99.7h.01M75.9 124.0h.01M75.8 146.9h.01M79.7 135.2h.01M85.2 115.6h.01M77.6 108.1h.01M77.7 119.2h.01M83.9 148.3h.01M71.2 145.5h.01M79.0 132.4h.01M68.0 130.5h.01M63.2 127.0h.01M65.6 149.2h.01M70.5 103.6h.01M79.0 138.6h.01M80.1 134.8h.01M72.3 97.1h.01M78.4 146.0h.01M72.5 116.3h.01M75.6 113.1h.01M75.8 143.6h.01M84.1 137.3h.01M76.9 143.4h.01M83.5 130.0h.01M69.0 124.1h.01M68.9 122.9h.01M75.1 138.3h.01M76.7 134.9h.01M73.8 139.3h.01M80.7 143.5h.01M84.0 130.4h.01M76.9 139.2h.01M74.0 146.1h.01M73.6 121.4h.01M75.5 128.5h.01M80.4 129.3h.01M76.5 131.3h.01M77.7 126.1h.01M81.9 116.2h.01M73.7 125.1h.01M79.4 134.5h.01M78.5 129.9h.01M71.9 120.0h.01M74.0 127.3h.01M77.3 138.4h.01M81.2 132.7h.01M71.7 120.7h.01M76.1 138.5h.01M86.5 136.3h.01M70.0 149.1h.01M75.7 145.9h.01M73.2 133.1h.01M74.6 145.9h.01M76.2 125.1h.01M77.1 142.2h.01M71.9 141.9h.01M71.9 123.0h.01M77.0 131.1h.01M70.4 113.6h.01M75.9 137.0h.01M73.3 136.3h.01M67.4 138.9h.01M78.1 137.5h.01M72.4 135.0h.01M76.5 147.4h.01M77.3 137.2h.01M71.8 144.8h.01M82.2 127.8h.01M79.3 137.9h.01M75.5 117.9h.01M85.5 110.7h.01M77.5 129.3h.01M82.1 128.7h.01M76.0 141.6h.01M78.3 127.5h.01M79.5 138.9h.01M81.2 127.6h.01M75.5 129.1h.01M71.2 137.2h.01M74.0 138.8h.01M82.1 132.6h.01M76.1 135.7h.01M72.0 121.7h.01M81.9 136.2h.01M75.4 118.5h.01M76.4 148.6h.01M69.5 122.9h.01M84.3 127.1h.01M79.1 124.7h.01M78.7 129.5h.01M77.7 131.0h.01M76.1 137.3h.01M73.0 136.6h.01M64.5 119.2h.01M69.0 144.9h.01M89.1 136.4h.01M76.5 148.2h.01M62.4 131.8h.01M58.8 135.9h.01M73.0 128.0h.01M77.7 126.7h.01M81.9 134.0h.01M73.3 145.5h.01M71.3 149.5h.01M81.1 135.7h.01M83.3 134.0h.01M75.5 147.7h.01M67.8 126.5h.01M78.4 141.1h.01M77.6 139.5h.01M68.6 131.7h.01M77.2 131.2h.01M76.1 141.5h.01M70.6 127.0h.01M66.1 148.2h.01M70.1 112.9h.01M80.0 131.4h.01M81.1 129.4h.01M87.4 142.8h.01M76.6 135.4h.01M74.7 144.0h.01M86.7 128.8h.01M69.9 141.4h.01M81.6 115.6h.01M72.0 121.7h.01M78.9 140.2h.01M71.8 120.1h.01M79.5 108.6h.01M79.3 132.1h.01M86.2 146.3h.01M72.7 130.6h.01M74.3 125.0h.01M76.2 145.9h.01M67.6 131.2h.01M83.9 143.2h.01M71.4 124.1h.01M71.2 114.2h.01M82.0 134.9h.01M72.0 116.3h.01M73.7 127.7h.01M85.1 128.3h.01M76.4 147.2h.01M79.4 131.8h.01M79.0 128.7h.01M75.3 122.2h.01M70.9 115.8h.01M78.5 140.4h.01M76.7 143.6h.01M78.7 135.5h.01M71.0 141.3h.01M82.2 141.8h.01M82.5 128.2h.01M70.5 149.4h.01M72.6 137.0h.01M74.8 134.3h.01M74.3 127.4h.01M76.9 110.4h.01M70.9 120.2h.01M71.8 102.7h.01M74.5 143.1h.01M79.0 118.7h.01M82.4 113.3h.01M72.7 129.6h.01M82.6 135.5h.01M75.1 124.1h.01M76.3 134.5h.01M79.8 134.2h.01M76.9 133.8h.01M78.9 132.7h.01M72.4 147.1h.01M73.4 145.8h.01M71.6 135.3h.01M78.0 135.8h.01M77.1 138.7h.01M69.8 120.4h.01M75.1 122.7h.01M72.3 134.4h.01M82.2 127.1h.01M78.8 136.3h.01M73.9 122.5h.01M75.0 125.2h.01M78.7 112.5h.01M81.9 143.3h.01M79.0 113.1h.01M76.1 139.5h.01M72.1 120.2h.01M78.1 140.2h.01M73.5 131.0h.01M73.1 127.1h.01M75.5 147.1h.01M67.2 129.8h.01M84.5 137.9h.01M76.6 144.2h.01M70.4 119.3h.01M66.9 116.2h.01M77.1 144.4h.01M73.6 125.7h.01M78.0 141.5h.01M77.2 110.8h.01M72.9 103.1h.01M77.1 123.7h.01M82.9 139.9h.01M77.3 136.1h.01M72.7 133.4h.01M86.0 123.3h.01M72.3 136.0h.01M80.6 144.1h.01M70.6 132.4h.01M74.4 119.0h.01M76.2 128.2h.01M80.7 139.3h.01M71.6 135.0h.01M73.9 126.3h.01M73.2 146.9h.01M73.6 113.2h.01M71.7 143.8h.01M87.3 121.2h.01M73.9 130.0h.01M68.3 138.9h.01M75.5 137.4h.01M87.8 130.8h.01M80.0 144.1h.01M72.4 126.8h.01M84.1 142.7h.01M76.6 120.7h.01M80.5 140.4h.01M80.1 137.3h.01M76.1 127.3h.01M77.5 137.0h.01M79.3 147.2h.01M77.5 127.4h.01M71.3 139.1h.01M78.7 140.5h.01M78.5 132.9h.01M85.1 117.0h.01M62.2 139.3h.01M72.2 127.7h.01M67.3 138.3h.01M75.5 127.4h.01M83.7 148.3h.01M73.6 142.0h.01M75.6 148.1h.01M78.9 133.6h.01M78.8 125.3h.01M73.9 140.8h.01M66.9 145.4h.01M80.5 121.6h.01M85.1 135.4h.01M66.6 117.4h.01M80.5 130.7h.01M81.7 115.2h.01M75.3 145.9h.01M72.2 142.3h.01M73.9 138.2h.01M69.2 143.5h.01M82.8 120.4h.01M81.4 98.0h.01M74.5 113.2h.01M77.4 125.2h.01M72.8 123.8h.01M77.4 128.3h.01M71.0 131.2h.01M78.0 123.6h.01M81.7 113.8h.01M78.0 129.3h.01M84.2 126.2h.01M72.3 117.7h.01M86.4 141.5h.01M70.0 129.9h.01M78.0 109.3h.01M76.9 145.1h.01M75.8 139.8h.01M75.2 136.5h.01M76.9 125.4h.01M77.7 136.0h.01M75.6 125.7h.01M70.4 137.0h.01M80.2 104.6h.01M80.7 125.3h.01M83.0 122.0h.01M73.5 131.4h.01M67.0 121.7h.01M69.5 132.3h.01M66.0 146.9h.01M73.9 126.6h.01M72.4 143.0h.01M84.0 129.0h.01M83.0 137.6h.01M67.8 142.2h.01M73.6 136.4h.01M65.7 130.6h.01M77.0 122.6h.01M77.0 125.7h.01M88.6 107.8h.01M70.9 139.0h.01M72.6 106.1h.01M77.2 144.1h.01M78.5 148.5h.01M67.6 134.0h.01M82.9 134.0h.01M76.8 126.4h.01M81.7 125.5h.01M76.5 108.9h.01M76.1 136.6h.01M64.0 133.6h.01M86.9 115.8h.01M63.1 132.0h.01M73.0 131.4h.01M69.1 117.5h.01M69.2 141.8h.01M75.5 144.0h.01M70.0 141.2h.01M73.4 135.1h.01M80.8 134.4h.01M73.9 113.7h.01M76.1 143.6h.01M72.4 133.2h.01M66.3 117.7h.01M74.1 113.6h.01M73.8 114.9h.01M77.4 132.1h.01M81.4 129.4h.01M77.6 136.5h.01M78.2 116.0h.01M79.6 144.8h.01M63.5 100.8h.01M75.9 142.3h.01M78.8 144.9h.01M72.4 126.8h.01M77.8 141.5h.01M78.9 138.2h.01M73.2 147.6h.01M78.3 147.1h.01M62.1 146.4h.01M62.6 136.6h.01M72.2 135.5h.01M73.2 130.2h.01M76.8 138.3h.01M71.5 102.9h.01M71.6 140.7h.01M71.2 139.3h.01M73.8 122.4h.01M75.2 133.4h.01M81.0 117.6h.01M71.1 148.0h.01M80.7 127.9h.01M71.6 138.3h.01M68.2 127.8h.01M74.5 103.6h.01M79.0 143.4h.01M81.6 116.2h.01M68.8 123.9h.01M70.5 130.1h.01M76.9 139.6h.01M83.7 120.5h.01M80.6 135.8h.01M69.4 135.9h.01M71.8 146.5h.01M82.9 126.3h.01M70.9 135.6h.01M70.1 145.2h.01M76.8 124.5h.01M72.1 143.0h.01M71.5 131.6h.01M79.4 135.1h.01M85.1 142.3h.01M78.2 141.2h.01M79.8 137.5h.01M74.9 114.2h.01M87.1 117.8h.01M64.0 125.1h.01M86.4 149.2h.01M72.5 137.3h.01M75.7 109.3h.01M74.0 137.6h.01M82.2 119.0h.01M63.4 114.4h.01M77.6 135.0h.01M76.6 135.8h.01M73.8 117.0h.01M78.3 138.8h.01M79.0 149.5h.01M69.0 104.8h.01M70.8 139.0h.01M75.7 143.1h.01M93.4 127.5h.01M74.9 126.5h.01M77.1 140.5h.01M82.1 139.6h.01M75.2 131.0h.01M66.8 142.2h.01M70.4 127.7h.01M81.3 122.5h.01M72.9 144.7h.01M86.0 125.4h.01M81.9 125.8h.01M77.9 140.1h.01M69.5 146.8h.01M85.7 134.7h.01M77.3 119.3h.01M85.6 134.8h.01M68.8 143.6h.01M67.8 125.4h.01M88.0 126.1h.01M72.2 126.8h.01M72.7 140.9h.01M83.8 121.4h.01M78.2 111.5h.01M84.2 132.9h.01M71.4 134.7h.01M77.8 131.6h.01M84.2 125.1h.01M65.1 121.9h.01M70.8 127.2h.01M77.9 131.8h.01M76.2 128.3h.01M75.3 140.1h.01M79.9 124.2h.01M75.2 124.5h.01M74.8 116.1h.01M81.0 142.4h.01M75.1 125.4h.01M73.3 125.7h.01M93.9 118.6h.01M69.4 141.2h.01M79.1 114.3h.01M65.2 140.8h.01M73.1 135.1h.01M75.8 127.0h.01M75.0 130.3h.01M82.6 132.9h.01M75.6 127.4h.01M72.3 124.8h.01M81.9 137.0h.01M85.0 146.7h.01M76.9 131.9h.01M69.8 137.1h.01M74.1 114.2h.01M77.0 140.2h.01M76.9 128.2h.01M78.3 147.5h.01M74.1 140.4h.01M81.4 128.0h.01M76.7 124.8h.01M79.1 129.4h.01M82.1 124.4h.01M85.1 130.1h.01M71.2 122.7h.01" stroke="#000" stroke-opacity="0.55" stroke-width="0.75" stroke-linecap="square" fill="none"/>
<path d="M48.3 122.1h.01M59.1 145.6h.01M46.9 115.9h.01M41.8 123.5h.01M62.9 125.6h.01M49.7 145.6h.01M32.9 127.8h.01M44.5 136.7h.01M31.1 133.9h.01M41.0 142.0h.01M26.8 125.3h.01M37.2 128.0h.01M48.9 124.6h.01M68.0 123.7h.01M50.0 142.7h.01M51.2 129.3h.01M34.1 128.7h.01M48.3 132.8h.01M47.5 137.8h.01M33.6 121.2h.01M55.7 126.2h.01M34.1 121.2h.01M51.2 119.1h.01M33.7 143.0h.01M43.2 132.1h.01M35.9 129.1h.01M37.2 131.2h.01M49.3 117.5h.01M33.3 108.5h.01M56.3 130.7h.01M41.9 130.9h.01M51.5 135.0h.01M50.1 129.7h.01M40.8 130.9h.01M27.0 120.6h.01M48.4 132.1h.01M59.7 146.7h.01M33.6 130.6h.01M51.5 129.2h.01M40.8 127.6h.01M55.0 104.4h.01M54.1 143.2h.01M41.3 137.7h.01M32.8 143.7h.01M71.1 121.4h.01M55.3 130.9h.01M38.8 126.1h.01M40.2 117.7h.01M41.8 137.6h.01M44.9 136.7h.01M27.5 121.1h.01M48.0 142.5h.01M31.1 125.1h.01M31.8 138.7h.01M45.3 131.9h.01M35.8 135.3h.01M42.3 123.3h.01M45.2 124.2h.01M51.0 138.4h.01M35.5 138.0h.01M42.6 123.7h.01M33.3 113.2h.01M31.3 135.3h.01M53.5 124.6h.01M43.5 135.3h.01M49.4 136.4h.01M53.7 139.9h.01M34.8 135.9h.01M42.2 137.9h.01M39.1 140.7h.01M54.5 122.3h.01M36.8 134.4h.01M46.7 133.1h.01M49.9 118.5h.01M49.4 144.3h.01M52.5 136.2h.01M39.7 135.9h.01M41.3 114.0h.01M36.2 131.1h.01M37.1 121.2h.01M39.8 127.4h.01M42.7 131.0h.01M43.6 142.4h.01M43.3 136.0h.01M30.4 99.1h.01M38.2 139.0h.01M38.8 124.6h.01M30.2 141.3h.01M37.0 134.2h.01M52.7 137.4h.01M63.3 130.0h.01M51.1 139.1h.01M35.8 132.0h.01M36.6 120.2h.01M44.8 123.0h.01M58.0 123.4h.01M36.8 132.5h.01M37.1 132.1h.01M36.2 115.9h.01M56.5 136.4h.01M43.5 126.4h.01M40.6 134.8h.01M28.8 122.7h.01M33.5 145.3h.01M32.0 144.4h.01M41.3 131.9h.01M54.8 141.1h.01M50.9 119.7h.01M41.0 126.2h.01M31.6 142.7h.01M44.8 131.6h.01M30.3 149.3h.01M50.3 131.3h.01M56.0 121.0h.01M50.4 120.5h.01M55.4 128.5h.01M53.6 126.9h.01M45.8 144.1h.01M33.4 132.6h.01M34.0 140.9h.01M36.3 127.4h.01M40.1 144.3h.01M32.1 131.2h.01M38.9 125.5h.01M34.5 129.7h.01M43.9 114.5h.01M44.2 118.5h.01M32.8 130.8h.01M39.6 142.3h.01M37.5 111.9h.01M26.7 133.4h.01M44.4 143.2h.01M36.9 138.8h.01M31.9 145.7h.01M41.3 124.0h.01M34.0 117.9h.01M32.4 118.8h.01M41.5 135.4h.01M40.4 133.7h.01M53.3 128.3h.01M30.1 106.4h.01M44.3 124.0h.01M39.6 136.0h.01M46.4 114.3h.01M32.9 132.3h.01M40.6 144.1h.01M37.2 108.8h.01M53.1 113.5h.01M32.8 135.8h.01M44.3 137.4h.01M47.1 123.6h.01M53.9 112.9h.01M36.4 134.7h.01M43.3 121.0h.01M57.0 147.7h.01M33.1 135.6h.01M36.0 126.7h.01M51.4 132.9h.01M41.0 132.6h.01M30.9 144.9h.01M34.9 145.9h.01M37.6 126.5h.01M56.1 133.6h.01M35.9 125.6h.01M47.8 127.2h.01M31.3 124.1h.01M40.9 134.2h.01M35.8 145.6h.01M32.9 123.6h.01M46.7 136.8h.01M38.3 142.1h.01M28.6 149.5h.01M42.5 146.1h.01M40.1 133.6h.01M47.0 112.3h.01M50.8 135.1h.01M43.8 146.8h.01M45.2 110.7h.01M33.0 128.2h.01M43.4 126.6h.01M50.9 138.1h.01M42.1 132.2h.01M45.5 134.2h.01M35.1 140.1h.01M34.2 131.1h.01M38.6 118.8h.01M47.7 130.7h.01M30.9 130.6h.01M28.9 147.3h.01M36.6 139.3h.01M32.8 122.1h.01M41.2 136.0h.01M50.8 128.6h.01M52.5 142.1h.01M33.7 129.5h.01M36.8 141.2h.01M50.7 128.7h.01M37.4 135.3h.01M34.7 117.6h.01M32.9 135.2h.01M31.1 144.2h.01M48.6 132.9h.01M55.9 127.4h.01M37.0 120.0h.01M35.8 132.8h.01M48.4 145.5h.01M39.5 123.5h.01M38.8 126.8h.01M37.6 127.1h.01M33.8 130.9h.01M37.2 129.7h.01M28.9 133.1h.01M47.4 138.6h.01M36.8 119.0h.01M29.7 118.7h.01M35.9 128.1h.01M25.3 138.8h.01M27.5 124.0h.01M35.2 140.6h.01M59.3 127.6h.01M39.4 127.2h.01M40.1 129.7h.01M65.3 119.6h.01M41.0 122.9h.01M45.4 125.8h.01M47.4 119.7h.01M61.9 133.8h.01M25.4 139.1h.01M37.6 118.9h.01M46.2 125.9h.01M48.9 125.5h.01M50.5 133.1h.01M45.4 133.2h.01M38.6 127.6h.01M46.2 139.2h.01M57.9 119.1h.01M52.2 130.7h.01M44.2 122.9h.01M57.5 122.6h.01M41.2 123.6h.01M60.2 145.1h.01M29.6 126.6h.01M45.4 126.8h.01M38.7 119.8h.01M44.4 119.7h.01M38.9 149.3h.01M45.5 124.3h.01M38.8 121.1h.01M43.1 139.1h.01M50.7 128.5h.01M30.8 130.7h.01M57.7 134.6h.01M41.4 109.0h.01M37.9 137.4h.01M33.1 146.1h.01M36.7 122.1h.01M36.6 130.5h.01M51.4 125.4h.01M25.3 130.7h.01M46.9 148.2h.01M31.5 147.5h.01M48.3 136.4h.01M34.8 122.0h.01M33.1 141.6h.01M44.1 143.1h.01M59.0 131.7h.01M29.8 126.7h.01M38.5 127.4h.01M43.3 122.5h.01M52.9 116.8h.01M34.4 113.3h.01M28.9 137.9h.01M47.9 129.4h.01M49.9 138.2h.01M36.6 131.1h.01M37.9 135.5h.01M47.1 144.7h.01M46.0 143.1h.01M32.1 128.7h.01M63.8 134.2h.01M42.8 134.4h.01M43.4 117.3h.01M35.5 129.7h.01M43.6 122.3h.01M41.0 123.7h.01M29.7 124.5h.01M34.5 140.6h.01M54.5 137.8h.01M40.0 125.6h.01M27.3 125.9h.01M56.6 144.0h.01M44.1 128.9h.01M42.0 136.1h.01M41.9 136.2h.01M34.8 132.1h.01M38.7 143.1h.01M30.4 145.5h.01M41.2 126.2h.01M42.2 132.9h.01M39.8 136.1h.01M36.6 113.4h.01M48.5 131.3h.01M57.6 135.7h.01M35.6 137.5h.01M62.7 143.3h.01M31.8 130.6h.01M27.0 138.7h.01M47.3 120.6h.01M46.2 141.6h.01M49.5 124.4h.01M35.5 119.6h.01M29.9 135.0h.01M42.4 145.5h.01M44.6 128.1h.01M28.7 148.1h.01M43.5 131.3h.01M32.6 120.4h.01M47.9 121.2h.01M47.5 138.3h.01M38.4 114.2h.01M45.8 146.6h.01M34.3 118.1h.01M52.2 133.1h.01M36.2 144.7h.01M39.4 136.4h.01M38.3 123.6h.01M44.1 122.4h.01M25.4 125.8h.01M53.5 143.3h.01M62.3 142.2h.01M57.1 134.3h.01M37.9 136.6h.01M33.1 139.5h.01M37.8 134.4h.01M34.1 130.2h.01M51.1 129.3h.01M35.7 134.6h.01M50.2 129.6h.01M31.1 115.0h.01M29.5 143.0h.01M41.2 136.7h.01M52.0 134.6h.01M46.5 126.2h.01M27.0 138.3h.01M41.1 137.7h.01M32.1 130.1h.01M60.8 122.7h.01M42.9 145.6h.01M39.8 133.0h.01M37.9 145.3h.01M41.2 127.7h.01M46.1 129.1h.01M37.2 148.0h.01M51.1 132.8h.01M49.5 140.4h.01M47.4 132.1h.01M42.7 136.0h.01M47.3 135.4h.01M36.9 130.8h.01M46.3 121.2h.01M41.9 139.7h.01M43.6 128.6h.01M41.8 126.5h.01M51.1 127.7h.01M26.5 118.9h.01M44.8 133.9h.01M37.6 117.8h.01M40.6 122.8h.01M35.9 131.6h.01M34.9 134.9h.01M35.1 126.7h.01M39.9 147.1h.01M56.7 141.6h.01M35.2 131.7h.01M50.5 140.2h.01M26.9 131.1h.01M35.1 139.6h.01M47.9 126.0h.01M61.9 128.7h.01M64.7 129.9h.01M37.1 126.7h.01M55.7 131.3h.01M46.4 118.4h.01M58.6 142.0h.01M45.3 139.1h.01M37.4 126.7h.01M27.4 135.6h.01M53.5 140.7h.01M50.6 139.1h.01M33.4 118.0h.01M48.0 133.4h.01M51.2 128.8h.01M33.8 136.3h.01M36.8 114.5h.01M36.3 122.5h.01M31.6 125.9h.01M58.1 127.3h.01M52.6 130.9h.01M45.7 124.6h.01M41.3 114.1h.01M58.7 123.7h.01M47.4 125.5h.01M44.5 119.4h.01M38.5 141.2h.01M47.5 111.3h.01M49.9 117.9h.01M44.7 137.1h.01M36.0 128.4h.01M39.7 135.9h.01M50.5 145.9h.01M39.6 139.7h.01M40.8 132.6h.01M33.5 135.7h.01M60.8 133.2h.01M41.8 131.7h.01M48.6 129.5h.01M42.0 133.9h.01M54.1 141.6h.01M32.2 125.1h.01M42.2 140.5h.01M51.0 129.5h.01M61.8 130.0h.01M55.1 146.6h.01M56.8 133.8h.01M47.4 115.7h.01M25.5 125.3h.01M48.7 142.8h.01M41.0 142.5h.01M47.4 147.6h.01M27.2 123.0h.01M33.1 120.8h.01M57.3 122.0h.01M34.3 127.5h.01M50.2 126.9h.01M48.9 137.4h.01M36.0 107.0h.01M33.5 118.6h.01M57.2 124.2h.01M32.0 135.6h.01M42.5 121.9h.01M52.2 141.2h.01M44.6 123.8h.01M33.9 110.3h.01M45.6 135.8h.01M33.4 131.9h.01M72.5 119.9h.01M26.1 138.0h.01M38.0 126.5h.01M47.8 130.3h.01M51.3 137.0h.01M52.8 132.9h.01M26.2 142.6h.01M44.3 117.1h.01M42.6 140.9h.01M32.5 132.1h.01M35.1 121.2h.01M36.3 145.0h.01M48.4 131.3h.01M41.2 133.0h.01M44.7 133.6h.01M26.0 141.3h.01M34.0 104.4h.01M48.6 119.0h.01M40.7 130.7h.01M36.5 137.2h.01M39.5 128.7h.01M33.1 128.7h.01M32.3 132.1h.01M54.3 142.2h.01M46.0 117.4h.01M51.6 141.4h.01M61.2 108.1h.01M42.2 128.1h.01M52.2 120.3h.01M51.3 110.8h.01M42.2 145.9h.01M36.2 137.9h.01M42.9 116.3h.01M36.2 143.5h.01M53.1 125.3h.01M52.5 124.2h.01M44.3 131.4h.01M30.3 135.0h.01M38.4 102.8h.01M34.3 122.7h.01M34.2 121.4h.01M35.6 105.9h.01M50.3 132.3h.01M44.4 128.8h.01M42.6 128.8h.01M31.8 115.7h.01M42.7 142.2h.01M44.2 148.5h.01M29.3 128.8h.01M36.2 144.5h.01M57.8 126.1h.01M48.8 129.0h.01M32.7 130.4h.01M32.3 147.8h.01M47.5 144.0h.01M45.3 106.0h.01M49.5 132.5h.01M51.5 149.5h.01M32.4 139.8h.01M45.1 129.7h.01M39.4 137.1h.01M47.4 138.5h.01M38.2 117.7h.01M54.3 145.2h.01M36.7 131.2h.01M49.5 113.1h.01M44.5 124.1h.01M61.1 131.6h.01M44.0 127.1h.01M43.7 112.7h.01M30.0 116.0h.01M50.4 130.6h.01M52.8 110.1h.01M36.4 146.9h.01M34.6 111.9h.01M35.0 127.9h.01M41.9 145.3h.01M54.4 147.9h.01M47.4 126.2h.01M37.4 115.9h.01M53.9 144.7h.01M42.8 122.1h.01M48.3 136.7h.01M43.4 119.3h.01M44.2 125.6h.01M48.9 137.8h.01M46.1 127.0h.01M56.2 139.7h.01M53.8 140.4h.01M48.2 135.6h.01M32.0 112.3h.01M33.3 138.0h.01M50.5 133.4h.01M38.3 112.7h.01M27.6 128.1h.01M48.5 139.3h.01M39.9 140.1h.01M41.6 123.9h.01M38.5 139.5h.01M50.9 119.7h.01M32.8 132.8h.01M61.8 119.2h.01M30.3 135.9h.01M46.7 125.1h.01M41.8 136.6h.01M25.8 131.3h.01M47.6 141.2h.01M52.9 130.8h.01M28.6 145.7h.01M49.2 124.8h.01M51.6 142.5h.01M40.7 106.6h.01M37.6 123.5h.01M34.2 130.6h.01M31.9 135.6h.01M59.6 119.0h.01M51.7 125.9h.01M47.1 130.2h.01M53.9 124.0h.01M48.8 123.3h.01M44.1 131.4h.01M52.1 114.9h.01M29.4 146.2h.01M45.6 149.4h.01M32.4 133.7h.01M41.5 126.8h.01M48.7 130.4h.01M35.0 139.5h.01M54.7 126.2h.01M39.0 135.4h.01M52.4 137.1h.01M33.0 125.5h.01M51.8 130.2h.01M36.1 140.7h.01M32.0 124.1h.01M35.6 135.2h.01M37.6 143.3h.01M36.0 128.6h.01M47.3 133.6h.01M32.6 147.3h.01M47.4 126.3h.01M43.9 119.8h.01M30.6 128.3h.01M45.4 132.6h.01M34.8 116.9h.01M26.4 148.3h.01M45.4 123.1h.01M53.0 137.2h.01M38.2 125.0h.01M52.6 135.0h.01M57.2 135.3h.01M36.6 125.2h.01M35.5 134.2h.01M44.4 137.9h.01M46.2 120.4h.01M40.1 121.6h.01M46.5 117.6h.01M36.6 122.5h.01M36.3 128.8h.01M56.0 128.8h.01M28.7 128.3h.01M48.9 137.3h.01M52.3 132.5h.01M53.3 117.4h.01M40.4 122.4h.01M43.6 148.6h.01M37.4 148.3h.01M32.6 146.5h.01M26.3 122.5h.01M51.2 130.5h.01M43.3 131.4h.01M43.7 129.6h.01M33.0 128.4h.01M43.0 122.0h.01M26.8 125.8h.01M39.4 131.7h.01M42.9 123.9h.01M41.7 131.6h.01M41.2 147.8h.01M43.2 115.9h.01M27.5 137.7h.01M38.9 125.0h.01M29.5 128.2h.01M41.2 124.3h.01M38.8 140.9h.01M49.2 137.3h.01M40.4 117.2h.01M49.2 147.3h.01M53.8 143.8h.01M44.6 135.5h.01M41.9 144.7h.01M49.2 128.1h.01M42.0 114.5h.01M35.2 128.3h.01M64.6 122.9h.01M50.5 132.3h.01M39.3 138.1h.01M59.9 134.6h.01M41.4 133.2h.01M48.1 126.3h.01M43.1 136.8h.01M38.8 135.6h.01M45.1 139.0h.01M32.9 125.8h.01M38.1 144.1h.01M44.3 114.1h.01M45.1 117.8h.01M33.6 133.0h.01M55.2 148.6h.01M38.6 128.3h.01M59.7 121.1h.01M56.4 135.1h.01M42.9 145.1h.01M46.5 122.7h.01M27.9 131.7h.01M46.7 145.9h.01M47.7 147.5h.01M49.4 133.8h.01M46.0 135.7h.01M36.2 130.3h.01M43.2 126.7h.01M28.5 116.2h.01M46.7 137.0h.01M43.0 119.2h.01M49.9 127.4h.01M46.9 126.8h.01M55.7 145.9h.01M44.4 113.4h.01M38.5 128.5h.01M46.3 130.2h.01M45.2 114.3h.01M36.1 146.7h.01M28.6 141.3h.01M63.3 138.4h.01M29.2 144.7h.01M38.2 144.6h.01M52.9 133.5h.01M58.5 141.9h.01M37.6 121.1h.01M64.7 127.2h.01M45.8 130.3h.01M37.6 114.5h.01M40.7 130.3h.01M51.1 126.1h.01M27.6 120.1h.01M41.6 134.1h.01M48.7 127.5h.01M47.0 133.0h.01M57.6 130.9h.01M43.3 137.5h.01M53.2 121.8h.01M37.6 128.6h.01M51.9 131.7h.01M73.1 145.0h.01M60.7 148.1h.01M50.4 116.5h.01M56.1 136.0h.01M31.0 132.1h.01M49.0 141.9h.01M43.6 126.0h.01M49.1 123.4h.01M41.3 139.6h.01M28.7 135.5h.01M30.6 130.6h.01M48.6 131.0h.01M50.4 132.5h.01M40.1 136.7h.01M39.8 132.9h.01M51.6 125.5h.01M52.6 119.8h.01M40.0 113.1h.01M37.1 148.4h.01M45.3 145.0h.01M28.4 120.8h.01M46.3 140.3h.01M49.7 113.7h.01M46.7 130.7h.01M43.1 136.6h.01M39.4 113.6h.01M32.1 116.2h.01M29.8 130.1h.01M54.1 123.9h.01M34.9 119.3h.01M26.0 132.2h.01M37.5 129.0h.01M33.1 136.7h.01M30.9 137.3h.01M35.9 139.9h.01M33.8 136.2h.01M46.1 130.7h.01M57.1 133.4h.01M33.8 138.8h.01M34.4 125.8h.01M42.1 133.4h.01M57.8 113.0h.01M39.6 143.5h.01M40.5 134.9h.01M56.1 118.4h.01M42.4 139.9h.01M36.6 112.9h.01M32.8 133.6h.01M54.3 115.1h.01M51.6 141.2h.01M57.0 129.9h.01M36.9 133.1h.01M56.3 138.1h.01M57.7 139.9h.01M36.6 120.7h.01M59.1 115.4h.01M38.8 128.1h.01M33.6 125.4h.01M41.4 125.9h.01M43.1 141.5h.01M34.4 127.2h.01M25.8 139.0h.01M48.3 147.5h.01M50.1 128.6h.01M38.4 128.2h.01M30.8 139.7h.01M36.4 123.8h.01M46.8 132.7h.01M36.6 129.0h.01M37.4 145.8h.01M51.3 123.8h.01M41.6 146.1h.01M46.1 138.6h.01M45.1 137.7h.01M46.5 137.1h.01M37.3 141.1h.01M42.6 120.3h.01M32.6 133.2h.01M45.1 108.0h.01M27.8 128.9h.01M36.4 137.4h.01M55.1 148.7h.01M32.7 144.7h.01M30.7 134.8h.01M43.6 138.1h.01M34.6 145.8h.01M41.4 131.3h.01M39.5 120.1h.01M48.7 135.1h.01M34.0 128.5h.01M42.1 140.6h.01M40.4 141.5h.01M46.2 112.7h.01M35.7 109.8h.01M39.4 127.1h.01M47.5 133.3h.01M41.4 145.0h.01M47.5 118.4h.01M35.6 135.0h.01M57.8 129.4h.01M40.4 134.3h.01M49.3 130.5h.01M44.7 127.0h.01M36.9 123.0h.01M48.1 125.6h.01M47.1 135.8h.01M51.0 102.8h.01M33.0 118.5h.01M40.5 140.1h.01M65.5 148.0h.01M54.6 135.6h.01M38.4 137.2h.01M42.1 138.1h.01M32.5 119.8h.01M36.0 131.0h.01M45.2 127.7h.01M45.2 138.8h.01M31.2 130.4h.01M27.6 125.6h.01M50.4 123.9h.01M59.3 136.9h.01M50.3 132.6h.01M50.0 143.2h.01M43.0 125.8h.01M40.3 126.6h.01M35.4 113.5h.01M37.4 135.0h.01M37.5 123.4h.01M45.8 136.4h.01M38.0 134.8h.01M33.0 140.7h.01M32.9 127.9h.01M43.3 127.0h.01M56.1 112.8h.01M43.1 117.9h.01M44.9 117.6h.01M47.4 137.2h.01M57.9 144.4h.01M37.7 141.6h.01M37.7 130.3h.01M37.4 112.7h.01M47.6 109.7h.01M39.8 137.1h.01M43.1 114.6h.01M36.0 138.8h.01M52.2 148.6h.01M25.2 136.4h.01M37.5 139.7h.01M26.3 130.0h.01M48.6 124.6h.01M38.6 121.0h.01M52.3 117.3h.01M33.5 127.9h.01M44.5 122.6h.01M47.4 135.2h.01M44.6 130.8h.01M46.3 119.0h.01M30.8 126.9h.01M31.7 139.0h.01M60.0 144.7h.01M46.1 135.1h.01M35.6 117.6h.01M47.1 115.7h.01M44.8 130.0h.01M49.0 132.0h.01M43.0 125.3h.01M26.0 127.8h.01M48.5 142.7h.01M54.8 120.8h.01M33.3 139.0h.01M44.9 115.2h.01M36.9 148.3h.01M29.1 148.7h.01M37.8 120.5h.01M26.1 123.9h.01M62.2 132.6h.01M39.5 119.1h.01M45.2 126.4h.01M34.1 146.3h.01M46.1 122.0h.01M55.7 130.9h.01M46.7 133.1h.01M52.9 138.1h.01M38.8 139.2h.01M38.4 132.9h.01M57.2 120.1h.01M32.4 127.2h.01M37.4 145.5h.01M56.7 126.7h.01M43.7 127.6h.01M48.2 138.6h.01M49.0 139.7h.01M59.9 129.7h.01M48.5 129.5h.01M42.4 133.9h.01M41.5 135.2h.01M34.1 129.9h.01M36.4 119.0h.01M35.4 126.2h.01M40.6 114.8h.01M39.6 119.4h.01M34.4 133.5h.01M52.3 134.6h.01M37.5 126.8h.01M54.4 114.1h.01M52.6 115.4h.01M36.1 132.0h.01M39.9 149.3h.01M46.6 131.0h.01M50.9 131.9h.01M34.5 143.5h.01M55.9 145.2h.01M38.1 139.7h.01M27.0 120.5h.01M53.0 136.8h.01M39.1 100.1h.01M46.1 129.5h.01M42.0 134.0h.01M49.0 128.6h.01M33.7 127.6h.01M60.4 124.1h.01M51.8 132.8h.01M48.8 128.6h.01M33.6 142.3h.01M43.3 148.7h.01M39.6 127.5h.01M45.2 129.5h.01M39.1 121.9h.01M44.4 135.0h.01M59.0 131.2h.01M25.7 136.5h.01M63.3 126.8h.01M34.5 129.7h.01M40.2 115.3h.01M47.4 122.1h.01M53.6 133.6h.01M37.2 128.7h.01M51.0 125.9h.01M45.9 141.9h.01M33.6 125.2h.01M46.2 131.6h.01M40.8 125.8h.01M54.7 114.1h.01M42.4 132.5h.01M42.3 116.6h.01M40.8 133.1h.01M35.6 134.9h.01M42.9 135.7h.01M40.5 126.6h.01M43.7 143.2h.01M50.4 130.6h.01M37.7 142.9h.01M47.0 141.0h.01M39.4 122.2h.01M43.7 124.8h.01M52.7 140.7h.01M54.4 142.7h.01M37.6 122.2h.01M51.0 142.4h.01M42.6 119.1h.01M27.8 134.4h.01M34.3 124.2h.01M46.1 142.8h.01M54.1 131.0h.01M38.8 138.4h.01M31.4 118.3h.01M42.2 148.3h.01M51.5 131.4h.01M51.4 127.1h.01M31.0 113.5h.01M44.5 141.2h.01M45.5 131.1h.01M38.3 143.2h.01M41.6 116.0h.01M54.8 124.5h.01M45.7 131.5h.01M51.8 134.2h.01M53.4 133.8h.01M37.7 126.0h.01M48.1 122.6h.01M50.7 128.9h.01M33.3 122.1h.01M49.2 131.7h.01M39.4 131.5h.01M38.0 145.9h.01M43.6 126.6h.01M43.7 120.7h.01M32.2 129.8h.01M60.6 119.5h.01M40.7 114.5h.01M43.6 133.8h.01M48.9 117.1h.01M36.4 124.5h.01M40.1 131.1h.01M37.3 140.1h.01M65.9 144.0h.01M56.3 119.9h.01M51.9 131.8h.01M53.7 142.9h.01M48.1 113.4h.01M43.2 126.1h.01M46.2 131.9h.01" stroke="#000" stroke-opacity="0.5" stroke-width="0.75" stroke-linecap="square" fill="none"/>
<path d="M53.2 79.1h.01M41.8 93.3h.01M48.5 90.2h.01M46.3 94.5h.01M53.2 92.9h.01M48.0 77.1h.01M29.8 80.4h.01M48.8 72.5h.01M49.1 93.1h.01M46.5 87.2h.01M43.8 101.7h.01M48.8 93.8h.01M43.4 96.0h.01M54.1 93.8h.01M44.2 83.0h.01M47.1 85.4h.01M37.3 102.1h.01M42.5 75.0h.01M41.9 111.2h.01M45.8 81.6h.01M39.5 100.7h.01M49.1 96.0h.01M45.2 98.5h.01M56.3 98.5h.01M45.4 81.0h.01M49.3 108.6h.01M50.6 82.3h.01M47.7 106.1h.01M42.4 98.6h.01M54.2 109.3h.01M36.3 77.7h.01M48.9 100.6h.01M44.2 93.8h.01M43.9 105.2h.01M32.3 96.4h.01M38.3 87.7h.01M36.7 85.5h.01M46.3 94.2h.01M57.9 91.9h.01M48.7 97.3h.01M48.2 107.7h.01M47.4 95.4h.01M45.8 94.0h.01M46.1 103.3h.01M46.6 94.6h.01M46.2 101.1h.01M43.5 102.8h.01M42.8 100.5h.01M58.8 96.2h.01M45.9 83.0h.01M51.2 94.1h.01M52.3 87.9h.01M49.8 110.9h.01M49.1 90.9h.01M38.2 93.9h.01M50.7 99.6h.01M39.3 84.4h.01M40.2 84.5h.01M44.7 96.5h.01M58.8 95.8h.01M55.8 78.5h.01M56.4 101.5h.01M49.3 101.7h.01M50.5 111.9h.01M51.7 77.7h.01M35.3 109.1h.01M46.0 106.4h.01M44.3 87.9h.01M44.3 97.0h.01M47.7 88.2h.01M49.9 99.8h.01M40.6 83.6h.01M33.9 91.1h.01M46.6 87.5h.01M42.6 92.7h.01M46.7 99.3h.01M51.8 98.1h.01M53.7 84.9h.01M50.4 97.5h.01M39.8 87.6h.01M49.3 94.7h.01M38.4 88.8h.01M56.3 101.9h.01M47.0 106.6h.01M40.7 92.4h.01M52.7 90.8h.01M39.3 99.5h.01M56.8 70.2h.01M47.5 82.3h.01M44.6 80.7h.01M63.2 87.6h.01M46.8 87.4h.01M40.1 89.7h.01M47.8 110.5h.01M48.3 108.7h.01M39.7 94.7h.01M43.7 79.3h.01M70.4 91.7h.01M48.1 86.9h.01M42.8 84.3h.01M53.1 90.2h.01M45.6 95.7h.01M38.6 96.2h.01M45.4 98.2h.01M44.0 94.4h.01M49.8 103.1h.01M42.1 103.1h.01M40.2 92.2h.01M47.3 95.4h.01M30.5 84.8h.01M45.3 102.7h.01M42.0 108.2h.01M34.9 94.7h.01M50.0 94.2h.01M48.2 102.8h.01M41.3 99.5h.01M53.3 91.8h.01M31.6 82.8h.01M41.0 84.1h.01M49.3 86.4h.01M62.4 99.4h.01M38.1 91.3h.01M56.3 100.4h.01M40.0 103.7h.01M43.4 114.8h.01M43.0 99.6h.01M50.1 89.8h.01M45.5 104.9h.01M49.7 93.4h.01M49.4 110.4h.01M52.5 98.5h.01M48.6 79.3h.01M47.4 89.4h.01M51.2 88.3h.01M49.4 84.1h.01M52.3 87.2h.01M46.3 99.4h.01M44.4 94.1h.01M53.3 110.6h.01M34.9 85.5h.01M50.8 102.8h.01M43.5 94.9h.01M45.3 115.4h.01M45.2 82.8h.01M36.5 82.0h.01M54.9 90.3h.01M59.0 100.0h.01M49.0 100.1h.01M51.6 102.6h.01M40.2 88.8h.01M43.0 95.0h.01M44.9 82.4h.01M42.0 110.8h.01M60.1 86.0h.01M48.9 93.7h.01M41.1 100.7h.01M46.1 109.7h.01M49.4 91.1h.01M29.5 93.0h.01M51.9 87.3h.01M52.2 100.4h.01M35.2 92.2h.01M48.6 101.1h.01M47.5 93.9h.01M44.3 91.3h.01M46.5 84.0h.01M50.6 90.9h.01M49.9 89.2h.01M49.1 95.2h.01M52.2 98.3h.01M52.5 92.4h.01M46.1 91.5h.01M38.4 92.8h.01M53.5 101.2h.01M41.0 96.8h.01M51.3 81.3h.01M48.7 97.1h.01M51.3 96.4h.01M35.3 75.1h.01M59.2 90.3h.01M54.7 105.9h.01M47.1 83.3h.01M55.3 93.7h.01M49.8 98.5h.01M52.6 103.5h.01M37.4 80.8h.01M47.4 94.1h.01M51.5 92.7h.01M45.3 113.0h.01M55.3 104.9h.01M53.2 86.6h.01M46.0 93.3h.01M39.5 85.9h.01M47.5 82.6h.01M50.0 98.4h.01M45.0 90.8h.01M50.4 98.5h.01M48.8 82.6h.01M36.1 113.2h.01M42.3 90.6h.01M34.8 86.5h.01M41.8 101.5h.01M29.5 80.9h.01M43.9 89.4h.01M41.5 89.9h.01M36.4 96.5h.01M54.2 95.4h.01M43.1 105.8h.01M49.6 84.4h.01M42.8 88.3h.01M46.2 105.3h.01M42.0 92.6h.01M47.2 82.9h.01M43.4 99.7h.01M53.8 76.5h.01M51.0 91.3h.01M54.8 99.8h.01M59.1 96.9h.01M44.0 86.2h.01M37.3 99.2h.01M49.8 101.7h.01M48.8 80.0h.01M43.9 91.7h.01M47.5 101.2h.01M55.6 96.7h.01M33.2 84.5h.01M32.8 86.9h.01M38.8 96.2h.01M45.1 104.4h.01M53.4 89.8h.01M52.6 94.1h.01M49.4 106.6h.01M39.1 93.4h.01M56.4 86.9h.01M47.9 95.2h.01M43.8 81.8h.01M42.1 84.8h.01M53.4 96.3h.01M51.0 82.9h.01M49.7 95.3h.01M53.2 87.3h.01M51.7 106.8h.01M58.1 85.3h.01M39.3 80.4h.01M52.7 99.5h.01M48.7 85.9h.01M54.6 109.0h.01M46.3 92.9h.01M54.1 98.7h.01M55.1 90.2h.01M48.7 90.9h.01M42.8 91.2h.01M44.7 98.7h.01M44.6 94.7h.01M41.3 82.6h.01M55.7 84.8h.01M58.2 102.8h.01M31.8 88.1h.01M43.8 94.2h.01M45.4 88.4h.01M54.6 92.8h.01M52.7 87.6h.01M42.1 106.4h.01M44.7 83.8h.01M45.4 103.8h.01M45.5 87.3h.01M50.6 103.1h.01M45.2 91.0h.01M44.2 119.1h.01M45.3 110.2h.01M45.6 97.8h.01M33.4 95.7h.01M46.8 91.1h.01M43.9 81.3h.01M36.9 95.6h.01M42.4 93.2h.01M45.4 89.3h.01M41.8 111.3h.01M39.4 89.3h.01M44.6 83.3h.01M40.4 102.0h.01M52.5 95.2h.01M67.3 101.7h.01M54.4 86.4h.01M53.5 109.7h.01M44.1 110.8h.01M41.3 83.5h.01M46.2 86.5h.01M50.6 83.7h.01M47.1 75.8h.01M46.3 103.8h.01M44.8 96.9h.01M53.5 83.8h.01M38.4 94.8h.01M48.3 91.5h.01M40.3 105.3h.01M39.1 91.6h.01M46.2 100.7h.01M43.6 86.4h.01M59.4 86.2h.01M51.6 92.6h.01M43.5 93.6h.01M44.9 96.9h.01M30.2 93.8h.01M47.0 85.0h.01M44.0 115.7h.01M58.4 100.0h.01M48.0 91.2h.01M55.4 89.9h.01M41.3 100.4h.01M40.3 86.7h.01M55.8 79.1h.01M46.1 95.1h.01M48.2 80.5h.01M45.1 90.9h.01M58.9 103.3h.01M41.7 102.1h.01M50.7 93.0h.01M45.0 91.5h.01M36.6 88.2h.01M52.5 107.4h.01M58.4 90.5h.01M50.5 71.7h.01M44.8 82.3h.01M51.8 78.6h.01M39.8 83.8h.01M49.1 101.8h.01M40.6 110.7h.01M47.6 86.3h.01M48.8 93.9h.01M51.9 97.2h.01M60.6 104.8h.01M42.4 101.3h.01M51.4 84.7h.01M41.7 86.5h.01M30.7 99.9h.01M45.1 105.4h.01M42.9 94.7h.01M51.2 103.0h.01M48.6 84.4h.01" stroke="#000" stroke-opacity="0.45" stroke-width="0.75" stroke-linecap="square" fill="none"/>
<path d="M87.1 101.1h.01M82.1 108.0h.01M82.3 96.9h.01M76.8 98.9h.01M65.1 100.5h.01M68.3 96.9h.01M68.0 99.6h.01M71.2 116.1h.01M75.2 97.7h.01M68.7 90.3h.01M73.7 90.3h.01M71.5 84.9h.01M78.5 89.5h.01M69.2 96.4h.01M69.2 91.4h.01M71.0 84.4h.01M72.7 85.4h.01M66.6 96.3h.01M72.3 79.5h.01M71.7 94.7h.01M76.6 96.5h.01M75.5 98.5h.01M71.1 85.6h.01M77.7 89.2h.01M74.1 99.0h.01M79.6 104.3h.01M70.0 89.6h.01M77.3 79.8h.01M66.6 98.6h.01M70.4 84.5h.01M78.8 97.9h.01M79.5 89.9h.01M72.3 89.9h.01M75.8 74.2h.01M70.0 99.6h.01M69.4 92.4h.01M74.8 97.8h.01M71.2 82.5h.01M88.8 86.4h.01M84.2 76.8h.01M74.7 91.2h.01M85.2 111.9h.01M79.8 83.6h.01M69.3 86.1h.01M71.0 95.4h.01M69.4 90.7h.01M82.7 106.3h.01M63.1 84.2h.01M71.9 105.0h.01M72.1 110.7h.01M76.2 106.3h.01M69.0 90.1h.01M80.1 98.3h.01M63.0 90.5h.01M75.1 98.8h.01M70.3 109.1h.01M75.0 106.4h.01M76.4 93.8h.01M72.2 82.2h.01M79.2 100.0h.01M79.6 89.5h.01M68.1 89.5h.01M72.2 92.9h.01M79.9 84.6h.01M71.2 99.4h.01M79.4 113.4h.01M77.2 85.2h.01M67.9 85.7h.01M74.5 95.3h.01M73.7 87.4h.01M73.0 92.3h.01M77.6 93.8h.01M69.3 82.2h.01M82.8 92.2h.01M73.0 92.8h.01M80.7 90.1h.01M75.1 90.8h.01M77.5 83.7h.01M75.3 102.5h.01M81.0 98.7h.01M75.8 107.5h.01M78.2 105.9h.01M67.0 82.9h.01M78.8 90.6h.01M71.5 84.3h.01M82.8 82.0h.01M74.7 80.2h.01M73.1 113.7h.01M88.4 88.5h.01M68.1 108.0h.01M69.0 76.6h.01M76.1 83.1h.01M65.5 103.4h.01M69.8 83.2h.01M75.1 91.3h.01M80.7 93.9h.01M83.4 103.5h.01M84.6 103.3h.01M74.5 98.0h.01M74.2 78.7h.01M67.2 99.8h.01M60.2 85.4h.01M66.5 92.4h.01M68.0 95.3h.01M72.9 88.7h.01M69.1 72.6h.01M74.5 81.1h.01M72.4 96.4h.01M80.2 99.5h.01M82.8 80.0h.01M78.1 107.4h.01M76.4 82.8h.01M76.4 88.3h.01M70.3 102.8h.01M73.0 82.7h.01M70.1 111.1h.01M69.1 99.2h.01M75.1 103.8h.01M72.5 84.3h.01M70.3 83.6h.01M89.3 94.8h.01M72.2 104.6h.01M77.9 91.3h.01M77.7 95.5h.01M80.7 108.2h.01M72.3 92.7h.01M73.0 104.3h.01M76.3 100.2h.01M79.4 87.2h.01M74.9 105.7h.01M79.5 100.5h.01M72.5 89.7h.01M69.1 90.5h.01M73.7 79.9h.01M80.9 86.0h.01M75.6 98.6h.01M70.9 76.4h.01M79.8 96.8h.01M72.6 103.4h.01M79.3 84.3h.01M73.6 76.8h.01M72.6 106.0h.01M69.2 100.6h.01M65.3 90.3h.01M79.6 108.8h.01M76.8 100.0h.01M84.2 70.6h.01M64.1 110.4h.01M88.5 98.5h.01M74.5 95.4h.01M74.3 87.4h.01M74.0 91.9h.01M78.0 99.3h.01M79.8 98.4h.01M68.4 105.8h.01M58.5 94.1h.01M76.0 88.2h.01M85.1 83.0h.01M67.3 88.4h.01M76.5 100.3h.01M74.7 99.2h.01M70.0 87.5h.01M74.9 80.7h.01M75.2 89.4h.01M78.1 83.7h.01M71.0 87.8h.01M72.0 83.9h.01M72.6 80.6h.01M77.2 99.2h.01M74.0 91.3h.01M68.9 84.2h.01M72.8 84.7h.01M67.2 94.6h.01M74.0 89.3h.01M69.4 92.5h.01M70.1 89.1h.01M75.2 99.6h.01M78.5 87.5h.01M81.1 82.4h.01M73.1 105.0h.01M87.9 94.2h.01M72.0 89.6h.01M67.0 91.7h.01M71.6 86.1h.01M81.1 85.9h.01M84.0 100.7h.01M77.8 87.6h.01M71.1 74.7h.01M75.7 90.5h.01M76.4 86.9h.01M76.9 79.3h.01M61.4 97.4h.01M80.3 64.1h.01M81.6 89.8h.01M73.2 78.9h.01M68.3 99.6h.01M69.8 92.7h.01M73.2 111.3h.01M79.3 80.9h.01M71.3 82.5h.01M66.0 86.8h.01M80.5 93.5h.01M78.0 91.8h.01M71.6 93.8h.01M73.6 110.7h.01M84.5 96.5h.01M77.6 74.7h.01M73.4 115.0h.01M69.5 100.5h.01M81.2 89.4h.01M72.8 88.8h.01M78.7 93.2h.01M82.8 103.9h.01M74.0 116.9h.01M72.3 87.4h.01M72.7 84.9h.01M71.6 92.4h.01M79.2 78.5h.01M66.0 85.9h.01M72.3 97.2h.01M69.5 106.9h.01M71.0 91.0h.01M74.4 103.8h.01M75.8 93.3h.01M70.9 94.6h.01M76.4 89.8h.01M74.0 76.1h.01M71.0 103.9h.01M82.3 92.3h.01M61.6 109.9h.01M73.1 116.6h.01M71.7 102.2h.01M70.5 105.6h.01M80.8 83.2h.01M81.6 119.3h.01M72.8 81.9h.01M75.7 89.3h.01M65.4 83.4h.01M75.5 79.0h.01M80.3 97.2h.01M73.0 105.9h.01M68.7 99.3h.01M66.2 90.0h.01M77.8 88.1h.01M73.4 99.0h.01M82.9 105.0h.01M76.7 90.6h.01M65.7 108.8h.01M84.9 73.2h.01M79.1 92.6h.01M78.2 95.9h.01M72.9 93.0h.01M73.8 103.7h.01M72.6 88.0h.01M77.8 98.9h.01M76.6 95.6h.01M82.6 103.3h.01M75.3 91.1h.01M77.9 75.8h.01M71.0 86.5h.01M75.1 89.5h.01M88.3 99.8h.01M76.4 113.8h.01M74.0 90.1h.01M81.2 100.7h.01M79.4 104.2h.01M72.0 86.9h.01M69.9 94.0h.01M79.8 83.3h.01M71.0 80.7h.01M85.6 100.4h.01M75.3 81.8h.01M68.1 87.0h.01M74.3 81.3h.01M72.7 104.3h.01M74.1 93.9h.01M62.0 90.5h.01M73.2 86.6h.01M66.1 92.3h.01M68.2 88.0h.01M64.9 92.1h.01M79.3 85.2h.01M75.9 79.0h.01M77.4 98.0h.01M71.8 101.2h.01M69.0 93.4h.01M83.8 92.8h.01M67.6 103.7h.01M77.1 90.4h.01M63.6 75.6h.01M65.3 106.7h.01M75.7 85.1h.01M80.7 106.6h.01M69.2 97.5h.01M64.6 96.5h.01M84.5 79.9h.01M74.4 87.1h.01M73.5 93.8h.01M75.7 101.3h.01M77.0 102.7h.01M79.9 103.2h.01M70.2 96.8h.01M71.9 85.2h.01M85.3 95.7h.01M74.3 73.5h.01M72.7 100.2h.01M72.9 88.0h.01M82.5 90.1h.01M72.1 92.1h.01M72.7 102.8h.01M77.3 92.4h.01M72.0 90.9h.01M83.8 90.2h.01M77.8 78.4h.01M75.9 99.4h.01M81.4 95.9h.01M77.4 96.0h.01M80.2 112.0h.01M75.2 85.4h.01M77.5 92.0h.01M77.7 100.2h.01M74.9 88.9h.01M75.8 81.4h.01M75.6 84.8h.01M76.6 94.1h.01M72.8 81.9h.01M74.3 86.7h.01M73.2 99.4h.01M79.5 81.1h.01M79.4 105.6h.01M80.5 95.6h.01M73.5 109.1h.01M72.2 78.9h.01M74.6 95.7h.01M68.1 81.7h.01M85.4 94.1h.01M78.5 87.6h.01M65.4 91.4h.01M81.8 86.8h.01M63.8 91.4h.01M72.5 93.2h.01M68.1 90.1h.01M70.9 101.2h.01M74.9 101.1h.01M73.8 73.2h.01M62.8 98.0h.01M79.1 101.1h.01M73.6 76.5h.01M71.2 96.7h.01M82.0 89.8h.01M70.8 85.8h.01M79.9 101.1h.01M63.6 104.3h.01M68.8 79.4h.01M64.9 86.3h.01M87.4 116.7h.01M66.9 86.8h.01M75.0 96.9h.01M71.3 78.3h.01M71.7 86.7h.01M63.8 94.3h.01M65.7 76.9h.01M82.8 101.7h.01M82.4 94.1h.01M71.7 92.2h.01M66.2 99.9h.01M75.6 90.2h.01M63.3 92.0h.01M83.4 106.4h.01M79.1 89.7h.01M74.9 98.1h.01M75.2 102.7h.01M70.2 71.5h.01M60.1 84.6h.01M66.1 99.2h.01M80.2 93.0h.01M77.2 93.7h.01M75.1 88.6h.01M71.7 104.0h.01M72.5 92.6h.01M80.9 102.1h.01M71.8 95.4h.01M68.3 94.2h.01M75.9 93.0h.01M75.0 96.4h.01M59.5 85.4h.01M74.5 88.4h.01M68.5 90.8h.01M83.3 90.9h.01M70.3 88.5h.01M67.2 97.5h.01M68.4 101.5h.01M79.3 98.3h.01M80.0 92.2h.01M64.0 92.4h.01M77.7 78.7h.01M67.1 103.2h.01M76.6 105.5h.01M77.9 93.6h.01M76.5 100.9h.01M73.9 91.1h.01M75.9 90.1h.01M87.9 85.9h.01M65.4 81.0h.01M80.1 89.2h.01M75.0 91.0h.01M75.7 79.5h.01M74.6 87.7h.01M80.3 98.8h.01M66.8 84.0h.01M77.3 104.1h.01M78.5 91.6h.01M80.5 71.1h.01M71.0 83.9h.01M68.1 98.2h.01M75.7 95.6h.01M73.3 98.8h.01M78.6 87.7h.01M79.5 84.4h.01M84.2 80.9h.01M72.4 82.9h.01M74.3 105.2h.01M69.7 109.5h.01M82.2 96.6h.01M70.7 101.4h.01M57.5 85.9h.01M79.6 92.6h.01M88.4 86.7h.01M66.4 91.0h.01M77.4 108.9h.01" stroke="#000" stroke-opacity="0.5" stroke-width="0.75" stroke-linecap="square" fill="none"/>
<path d="M76.4 117.8h.01M117.3 103.1h.01M94.0 93.6h.01M110.6 129.6h.01M108.2 119.3h.01M113.6 112.9h.01M109.9 129.4h.01M117.8 124.1h.01M101.3 127.5h.01M79.2 83.9h.01M122.1 117.4h.01M85.9 104.7h.01M98.2 116.3h.01M89.8 132.6h.01M85.5 144.4h.01M109.3 85.3h.01M83.6 116.1h.01M103.9 107.5h.01" stroke="#000" stroke-opacity="0.3" stroke-width="0.75" stroke-linecap="square" fill="none"/>
</g>
<g filter="url(#c)" fill="none">
<path d="M24.5 57.2h-1.7M33.2 150.2v1.7M24.5 52.2h-1.7M38.1 150.2v1.7M24.5 48.7h-1.7M41.6 150.2v1.7M24.5 46.0h-1.7M44.4 150.2v1.7M24.5 43.7h-1.7M46.6 150.2v1.7M24.5 41.9h-1.7M48.5 150.2v1.7M24.5 40.2h-1.7M50.1 150.2v1.7M24.5 38.8h-1.7M51.6 150.2v1.7M24.5 85.3h-1.7M61.3 150.2v1.7M24.5 80.3h-1.7M66.3 150.2v1.7M24.5 76.8h-1.7M69.8 150.2v1.7M24.5 74.1h-1.7M72.5 150.2v1.7M24.5 71.9h-1.7M74.8 150.2v1.7M24.5 70.0h-1.7M76.6 150.2v1.7M24.5 68.4h-1.7M78.3 150.2v1.7M24.5 66.9h-1.7M79.7 150.2v1.7M24.5 113.4h-1.7M89.5 150.2v1.7M24.5 108.5h-1.7M94.4 150.2v1.7M24.5 104.9h-1.7M97.9 150.2v1.7M24.5 102.2h-1.7M100.7 150.2v1.7M24.5 100.0h-1.7M102.9 150.2v1.7M24.5 98.1h-1.7M104.8 150.2v1.7M24.5 96.5h-1.7M106.4 150.2v1.7M24.5 95.0h-1.7M107.9 150.2v1.7M24.5 141.5h-1.7M117.6 150.2v1.7M24.5 136.6h-1.7M122.6 150.2v1.7M24.5 133.1h-1.7M126.1 150.2v1.7M24.5 130.3h-1.7M128.8 150.2v1.7M24.5 128.1h-1.7M131.1 150.2v1.7M24.5 126.2h-1.7M132.9 150.2v1.7M24.5 124.6h-1.7M134.6 150.2v1.7M24.5 123.2h-1.7M136.0 150.2v1.7" stroke="#505050" stroke-width="0.7"/>
<path d="M24.5 37.5h-3.2M24.5 65.6h-3.2M24.5 93.8h-3.2M24.5 121.9h-3.2M24.5 150.0h-3.2M24.7 150.2v3.2M52.9 150.2v3.2M81.0 150.2v3.2M109.2 150.2v3.2M137.3 150.2v3.2" stroke="#3a3a3a" stroke-width="0.9"/>
<path d="M139.3 35.5V150.2" stroke="#808080" stroke-width="0.9"/>
<path d="M139.3 150.2H24.5V35.5H139.3" stroke="#444" stroke-width="1"/>
<path d="M60.3 35.5V150.2M24.5 111.7H139.3" stroke="#484848" stroke-width="0.85"/>
</g>
<g font-size="7.4" fill="#222">
<text x="26.1" y="43.5">4.64</text>
<text x="137.8" y="43.5" text-anchor="end">6.88</text>
<text x="26.1" y="149.1">20.1</text>
<text x="137.8" y="149.1" text-anchor="end">68.4</text>
</g>
<text x="65.8" y="163.2" font-size="10.7" stroke="#111" stroke-width="0.2">CD62L</text>
<text transform="translate(19.0 92.2) rotate(-90)" text-anchor="middle" font-size="10.8" stroke="#111" stroke-width="0.2">CD25</text>
<g filter="url(#b)">
<path d="M262.7 96.1h.01M254.3 96.2h.01M279.2 88.8h.01M255.2 100.4h.01M272.4 101.5h.01M258.0 94.9h.01M264.1 93.3h.01M265.5 102.4h.01M266.6 94.5h.01M261.1 107.9h.01M253.6 110.2h.01M268.0 95.1h.01M257.2 108.6h.01M271.5 100.6h.01M277.9 80.7h.01M263.3 92.7h.01M257.3 96.0h.01M266.5 98.4h.01M261.6 85.6h.01M266.7 98.9h.01M278.2 100.2h.01M262.7 86.8h.01M282.6 88.2h.01M264.0 100.2h.01M266.3 104.2h.01M255.0 90.8h.01M263.9 86.0h.01M258.1 105.3h.01M264.8 94.0h.01M258.4 95.7h.01M262.4 87.3h.01M268.4 85.3h.01M272.1 91.6h.01M245.8 85.5h.01M264.7 88.6h.01M276.0 103.6h.01M278.2 99.9h.01M272.6 89.7h.01M272.2 90.9h.01M262.2 85.3h.01M263.0 97.8h.01M262.1 87.1h.01M269.3 100.9h.01M262.0 100.7h.01M269.9 87.2h.01M262.3 81.6h.01M254.9 98.8h.01M256.1 98.5h.01M265.3 79.9h.01M259.0 106.3h.01M262.7 95.9h.01M257.4 84.0h.01M250.8 116.9h.01M261.2 88.9h.01M263.4 80.9h.01M273.0 106.3h.01M257.0 97.9h.01M255.9 101.8h.01M256.3 94.6h.01M272.3 97.8h.01M260.2 84.3h.01M250.7 104.8h.01M266.4 95.0h.01M272.0 95.1h.01M257.2 94.8h.01M261.9 95.0h.01M281.2 97.4h.01M264.6 93.0h.01M257.5 88.3h.01M248.5 93.0h.01M251.2 82.7h.01M255.6 81.0h.01M272.9 103.0h.01M255.3 110.5h.01M267.5 76.2h.01M262.7 87.7h.01M249.5 94.4h.01M271.2 97.4h.01M251.6 91.3h.01M256.9 103.8h.01M261.9 88.0h.01M255.7 81.4h.01M256.3 102.1h.01M248.2 97.8h.01M261.7 101.0h.01M254.0 102.4h.01M274.2 110.5h.01M250.4 96.0h.01M261.0 96.0h.01M255.2 101.9h.01M280.2 104.2h.01M255.4 91.5h.01M268.1 95.4h.01M256.8 104.5h.01M266.5 102.0h.01M261.2 104.4h.01M259.1 87.2h.01M262.5 84.9h.01M272.0 99.4h.01M249.9 97.5h.01M268.9 91.8h.01M265.7 90.4h.01M262.0 94.4h.01M266.2 87.6h.01M254.1 98.2h.01M258.7 99.1h.01M258.8 85.8h.01M268.1 96.4h.01M268.1 92.0h.01M259.8 104.4h.01M249.8 108.9h.01M266.4 94.2h.01M263.2 99.3h.01M256.7 97.6h.01M255.4 82.2h.01M264.1 95.6h.01M267.4 98.6h.01M267.8 100.2h.01M254.6 104.6h.01M282.7 88.9h.01M253.0 100.9h.01M269.4 101.7h.01M274.1 83.8h.01M265.4 98.1h.01M272.0 87.6h.01M262.7 92.3h.01M261.3 94.1h.01M261.4 82.2h.01M262.3 95.5h.01M259.6 69.4h.01M257.3 90.7h.01M256.0 107.3h.01M269.5 93.0h.01M267.1 118.6h.01M255.2 99.2h.01M258.0 106.3h.01M270.9 93.3h.01M267.2 88.7h.01M250.6 102.3h.01M274.9 91.6h.01M258.6 82.3h.01M278.7 84.7h.01M255.2 94.3h.01M271.7 94.5h.01M262.4 95.2h.01M268.9 94.1h.01M263.7 94.3h.01M254.1 105.6h.01M257.3 85.9h.01M259.2 95.6h.01M268.7 83.7h.01M253.0 97.2h.01M265.4 86.7h.01M254.0 97.1h.01M261.4 83.3h.01M255.9 106.5h.01M254.5 103.4h.01M251.0 107.0h.01M274.6 89.2h.01M257.4 100.1h.01M253.2 99.9h.01M271.7 96.0h.01M265.0 93.6h.01M270.1 88.3h.01M274.5 93.7h.01M260.1 83.3h.01M259.2 97.1h.01M271.9 82.3h.01M261.6 90.1h.01M253.5 95.9h.01M256.8 101.9h.01M248.2 82.2h.01M266.4 92.1h.01M263.5 87.9h.01M254.6 90.4h.01M262.1 88.9h.01M259.3 89.0h.01M264.3 86.5h.01M246.8 77.4h.01M262.4 95.7h.01M269.8 88.9h.01M253.9 85.0h.01M268.2 89.9h.01M269.9 93.7h.01M260.4 81.6h.01M257.4 101.3h.01M257.9 100.4h.01M250.1 103.6h.01M283.5 101.1h.01M264.9 85.8h.01M258.5 90.6h.01M263.9 80.1h.01M256.0 101.4h.01M263.6 100.3h.01M268.9 86.0h.01M252.4 99.4h.01M262.8 95.6h.01M256.4 103.0h.01M266.2 103.0h.01M259.8 100.3h.01M262.1 88.2h.01M261.9 83.0h.01M261.1 96.4h.01M267.7 86.8h.01M252.5 90.6h.01M246.9 91.8h.01M282.2 94.1h.01M256.8 90.6h.01M275.8 85.2h.01M261.6 94.5h.01M257.0 90.3h.01M249.9 90.1h.01M272.3 104.4h.01M260.4 100.3h.01M266.0 95.5h.01M261.5 104.0h.01M266.8 92.9h.01M260.7 102.0h.01M258.0 90.2h.01M260.4 91.6h.01M272.0 96.7h.01M261.8 91.2h.01M273.1 97.2h.01M278.2 100.1h.01M260.9 91.2h.01M260.4 96.5h.01M268.5 98.0h.01M274.3 82.8h.01M262.7 84.6h.01M254.8 91.4h.01M257.6 88.4h.01M251.1 104.4h.01M260.1 102.3h.01M254.2 78.9h.01M258.0 101.8h.01M258.3 98.3h.01M254.4 105.9h.01M265.8 102.3h.01M260.4 104.5h.01M263.0 91.4h.01M257.7 95.9h.01M255.7 87.0h.01M263.5 100.1h.01M260.3 101.3h.01M274.4 84.6h.01M264.4 87.8h.01M257.7 96.8h.01M244.7 101.1h.01M268.8 98.3h.01M267.4 107.7h.01M259.7 103.2h.01M273.4 97.5h.01M249.1 95.2h.01M260.3 83.4h.01M262.0 100.5h.01M260.6 93.9h.01M273.5 89.4h.01M255.4 96.0h.01M270.9 98.5h.01M263.0 91.4h.01M271.8 100.5h.01M249.5 98.7h.01M244.4 107.7h.01M267.1 90.0h.01M252.8 93.7h.01M249.3 100.4h.01M258.7 82.5h.01M262.3 103.6h.01M252.9 93.3h.01M276.1 95.0h.01M258.3 96.8h.01M268.4 87.1h.01M261.8 83.2h.01M250.6 84.9h.01M268.8 96.6h.01M268.0 103.3h.01M262.8 96.7h.01M265.5 98.1h.01M254.5 93.8h.01M261.4 95.4h.01M256.9 94.6h.01M264.7 96.1h.01M266.9 100.5h.01M266.7 101.6h.01M268.8 104.5h.01M267.2 90.0h.01M280.0 101.5h.01M271.9 99.4h.01M262.9 86.6h.01M265.8 92.1h.01M259.5 79.7h.01M274.1 85.4h.01M254.2 99.2h.01M266.8 88.8h.01M262.4 96.8h.01M263.7 98.7h.01M268.3 91.8h.01M250.3 111.9h.01M259.6 88.1h.01M268.1 98.7h.01M257.9 112.6h.01M244.8 106.0h.01M262.2 97.3h.01M264.9 93.1h.01M264.9 85.3h.01M259.5 108.8h.01M245.7 90.4h.01M269.1 91.4h.01M258.1 84.5h.01M261.6 93.8h.01M257.7 84.1h.01M263.7 97.9h.01M271.1 97.9h.01M273.9 102.6h.01M261.7 87.4h.01M265.8 101.7h.01M250.8 87.1h.01M267.7 90.5h.01M273.5 95.5h.01M258.4 85.7h.01M267.0 82.0h.01M252.7 86.4h.01M275.3 106.2h.01M260.8 92.4h.01M267.8 103.6h.01M256.4 111.6h.01M260.9 103.4h.01M244.7 96.3h.01M257.2 110.0h.01M260.9 85.9h.01M277.2 88.6h.01M262.5 85.9h.01M267.6 95.9h.01M260.3 92.3h.01M258.2 90.2h.01M251.9 104.8h.01M269.2 84.2h.01M253.7 98.8h.01M279.5 91.8h.01M260.1 93.4h.01M264.4 93.5h.01M270.7 101.4h.01M266.6 106.1h.01M260.7 91.1h.01M284.9 78.7h.01M250.7 79.0h.01M265.2 86.9h.01M270.5 78.9h.01M261.5 92.2h.01M254.4 103.9h.01M259.5 98.6h.01M258.5 96.5h.01M259.1 95.9h.01M261.7 90.1h.01M265.8 93.3h.01M255.2 88.1h.01M265.8 104.4h.01M252.6 92.9h.01M265.9 102.3h.01M267.9 85.8h.01M262.8 101.5h.01M264.3 93.2h.01M253.6 97.1h.01M262.0 95.3h.01M273.8 102.5h.01M256.5 97.3h.01M260.2 95.9h.01M274.8 100.5h.01M262.8 90.2h.01M261.3 97.8h.01M258.7 103.4h.01M262.7 86.4h.01M277.9 72.3h.01M260.5 94.3h.01M269.9 102.4h.01M273.5 105.3h.01M264.9 95.6h.01M270.2 94.1h.01M253.0 92.6h.01M267.5 99.0h.01M254.2 104.5h.01M264.8 83.8h.01M266.0 102.0h.01M266.5 92.3h.01M256.5 103.8h.01M264.2 94.8h.01M259.5 87.8h.01M248.4 93.9h.01M270.8 99.7h.01M257.4 106.6h.01M260.8 87.8h.01M269.9 104.4h.01M259.6 86.4h.01M262.0 77.3h.01M262.9 106.1h.01M264.6 89.4h.01M267.8 90.9h.01M272.0 91.5h.01M277.9 90.9h.01M263.9 88.0h.01M252.9 98.4h.01M265.1 87.7h.01M266.7 91.6h.01M258.3 94.9h.01M265.5 100.0h.01M271.8 96.9h.01M257.0 90.5h.01M265.3 86.0h.01M261.2 92.3h.01M261.8 96.4h.01M270.3 106.2h.01M269.2 101.7h.01M254.4 103.3h.01M272.3 84.2h.01M281.5 89.0h.01M244.6 109.6h.01M263.0 89.1h.01M258.2 103.2h.01M264.4 92.1h.01M271.2 87.3h.01M256.1 91.5h.01M256.9 100.6h.01M260.8 87.5h.01M259.0 80.9h.01M263.7 95.6h.01M267.1 92.8h.01M265.5 87.9h.01M262.7 96.1h.01M253.4 100.2h.01M263.6 95.3h.01M258.9 109.9h.01M262.5 89.4h.01M256.1 99.9h.01M260.9 89.4h.01M257.1 102.3h.01M263.1 102.6h.01M262.4 86.4h.01M269.0 96.7h.01M257.6 93.2h.01M255.2 101.7h.01M259.4 98.8h.01M264.5 92.9h.01M265.3 92.9h.01M253.6 92.8h.01M253.6 101.3h.01M267.4 90.3h.01M267.2 96.3h.01M269.8 87.5h.01M262.7 87.8h.01M257.4 105.4h.01M247.4 89.8h.01M266.2 100.3h.01M256.6 80.8h.01M249.6 98.9h.01M270.8 100.8h.01M257.0 105.3h.01M261.1 99.6h.01M261.1 106.7h.01M258.6 79.8h.01M260.1 96.6h.01M264.6 89.6h.01M260.8 86.9h.01M260.7 95.8h.01M264.3 106.8h.01M247.5 100.2h.01M265.7 86.3h.01M263.0 94.9h.01M255.0 101.0h.01M276.8 98.5h.01M268.3 102.2h.01M261.5 102.2h.01M256.4 96.9h.01M267.8 104.0h.01M260.3 93.1h.01M266.0 94.1h.01M263.5 100.7h.01M256.8 101.9h.01M265.3 92.8h.01M253.1 91.3h.01M262.2 101.8h.01M247.8 101.6h.01M263.9 86.7h.01M268.9 97.2h.01M265.8 87.6h.01M254.2 102.4h.01M273.0 96.6h.01M261.1 91.9h.01M249.7 103.4h.01M261.8 104.0h.01M257.1 103.1h.01M257.2 99.7h.01M272.8 88.9h.01M269.3 94.3h.01M255.5 97.1h.01M267.3 89.4h.01M260.5 91.1h.01M256.8 94.0h.01M268.6 90.8h.01M271.8 91.4h.01M257.4 103.2h.01M273.0 89.3h.01M266.9 86.2h.01M259.5 92.6h.01M267.8 85.4h.01M258.7 90.4h.01M263.2 86.1h.01M252.5 116.3h.01M264.1 84.0h.01M268.7 84.9h.01M248.5 108.4h.01M271.8 88.1h.01M254.4 99.2h.01M277.6 97.8h.01M267.4 86.0h.01M249.3 99.1h.01M270.0 95.2h.01M262.5 104.9h.01M256.3 103.5h.01M268.7 89.9h.01M263.4 95.7h.01M266.8 87.6h.01M260.8 95.8h.01M262.7 95.1h.01M264.4 93.4h.01M258.8 102.8h.01M257.7 93.2h.01M256.0 87.4h.01M265.8 94.4h.01M261.5 98.3h.01M261.2 100.0h.01M275.9 96.2h.01M260.5 107.0h.01M267.7 82.6h.01M272.3 95.5h.01M268.8 86.1h.01M256.2 91.0h.01M266.6 86.5h.01M257.3 102.3h.01M257.7 96.3h.01M255.9 83.5h.01M261.9 94.2h.01M251.9 103.0h.01M268.5 100.7h.01M258.7 87.2h.01M261.8 96.2h.01M261.2 90.9h.01M255.1 90.5h.01M261.9 91.6h.01M274.8 91.8h.01M265.8 91.3h.01M261.1 88.2h.01M258.9 84.7h.01M247.2 106.0h.01M254.7 98.8h.01M261.6 91.0h.01M267.8 90.5h.01M265.7 92.0h.01M269.6 101.1h.01M263.0 102.8h.01M266.2 105.7h.01M261.6 84.1h.01M264.0 96.5h.01M259.8 93.8h.01M260.5 86.3h.01M275.1 88.2h.01M254.6 84.5h.01M256.3 95.3h.01M273.3 98.2h.01M257.1 86.7h.01M254.3 95.2h.01M268.9 90.9h.01M274.3 107.6h.01M263.6 79.5h.01M270.5 93.5h.01M267.4 101.5h.01M255.1 96.2h.01M263.8 89.5h.01M267.6 93.6h.01M259.5 108.7h.01M263.7 106.5h.01M261.4 102.5h.01M257.0 96.6h.01M270.4 78.8h.01M266.4 92.7h.01M270.5 95.5h.01M261.9 85.9h.01M284.0 87.6h.01M260.1 90.1h.01M260.3 96.8h.01M252.7 103.5h.01M260.6 99.4h.01M247.0 92.8h.01M260.3 92.4h.01M257.6 97.7h.01M265.5 87.7h.01M248.1 101.6h.01M260.1 102.8h.01M268.9 93.6h.01M252.0 93.4h.01M257.1 104.3h.01M250.0 102.7h.01M251.2 92.0h.01M252.1 91.0h.01M259.2 97.9h.01M258.1 100.3h.01M275.3 94.9h.01M254.0 94.5h.01M261.7 92.5h.01M270.9 102.4h.01M277.1 97.3h.01M267.4 88.8h.01M258.1 101.9h.01M263.5 86.9h.01M258.2 73.5h.01M262.4 86.3h.01M262.1 86.6h.01M255.7 92.0h.01M282.8 84.6h.01M253.8 92.0h.01M270.2 99.9h.01M267.5 92.2h.01M263.4 89.4h.01M261.1 89.4h.01M251.8 89.0h.01M276.6 96.4h.01M256.9 94.7h.01M259.1 104.0h.01M262.2 90.5h.01M267.4 96.8h.01M257.4 90.0h.01M263.5 83.2h.01M255.8 102.8h.01M268.8 102.3h.01M259.2 91.1h.01M260.4 91.8h.01M271.8 92.5h.01M272.3 89.0h.01M265.2 106.2h.01M257.0 90.9h.01M258.0 83.9h.01M260.3 90.6h.01M278.6 90.0h.01M246.8 103.2h.01M269.4 94.1h.01M264.5 99.9h.01M258.3 95.7h.01M263.5 106.7h.01M272.7 95.2h.01M252.6 102.2h.01M262.0 103.3h.01M262.8 96.2h.01M267.2 89.3h.01M257.6 111.8h.01M256.1 102.2h.01M267.4 100.3h.01M272.4 84.5h.01M269.4 79.7h.01M262.8 97.3h.01M269.9 102.0h.01M255.6 93.7h.01M261.3 90.1h.01M256.4 90.9h.01M270.8 103.8h.01M267.9 106.4h.01M263.1 87.2h.01M257.6 96.9h.01M269.9 102.9h.01M255.9 102.4h.01M258.5 99.6h.01M269.1 104.9h.01M258.6 97.1h.01M265.5 91.7h.01M263.1 99.2h.01M250.4 91.6h.01M279.2 96.6h.01M258.3 82.3h.01M255.4 99.4h.01M267.4 97.7h.01M266.7 90.3h.01M274.0 85.9h.01M266.1 92.7h.01M249.9 102.6h.01M260.4 100.2h.01M271.7 95.3h.01M257.6 93.9h.01M261.9 105.3h.01M268.6 105.7h.01M267.9 89.0h.01M269.2 101.2h.01M261.5 98.4h.01M260.1 86.2h.01M261.7 100.5h.01M259.8 79.3h.01M256.6 103.3h.01M264.0 102.8h.01M256.9 92.5h.01M255.1 90.2h.01M266.1 95.6h.01M258.9 97.5h.01M252.9 93.1h.01M251.5 85.4h.01M252.5 88.1h.01M273.9 103.7h.01M271.6 90.0h.01M266.9 86.5h.01M258.4 97.1h.01M250.7 97.5h.01M266.9 79.8h.01M244.6 94.8h.01M261.5 96.1h.01M254.1 99.9h.01M263.3 89.7h.01M274.4 95.7h.01M267.8 107.7h.01M258.8 93.8h.01M249.7 94.6h.01M265.6 112.6h.01M266.5 96.0h.01M253.2 89.8h.01M248.9 86.5h.01M263.2 97.1h.01M255.7 94.1h.01M256.5 100.0h.01M267.0 90.5h.01M259.0 86.5h.01M259.0 111.0h.01M262.3 101.2h.01M266.6 105.2h.01M260.0 88.8h.01M270.0 100.9h.01M257.5 103.3h.01M262.3 94.7h.01M275.8 97.5h.01M264.7 92.5h.01M263.8 102.4h.01M265.7 89.3h.01M265.7 93.8h.01M264.6 93.4h.01M246.4 85.0h.01M259.6 79.5h.01M251.4 110.6h.01M267.4 91.2h.01M264.8 78.7h.01M264.2 101.9h.01M263.8 85.5h.01M269.5 90.5h.01M258.2 96.8h.01M260.2 109.9h.01M261.4 110.5h.01M265.7 85.8h.01M262.4 95.4h.01M272.9 103.2h.01M281.1 88.4h.01M259.2 112.1h.01M255.8 98.2h.01M274.2 86.6h.01M259.8 89.9h.01M266.2 97.5h.01M262.1 99.8h.01M256.6 92.9h.01M265.8 109.2h.01M262.1 95.5h.01M272.0 94.6h.01M271.9 95.8h.01M270.8 95.5h.01M255.6 89.5h.01M265.5 108.3h.01M276.0 91.4h.01M280.7 85.2h.01M256.2 102.3h.01M251.2 102.7h.01M265.1 99.3h.01M253.5 98.6h.01M269.3 94.0h.01M269.9 94.5h.01M264.9 92.5h.01M252.4 94.8h.01M266.0 89.2h.01M248.0 85.2h.01M272.0 92.5h.01M256.8 104.5h.01M261.1 84.3h.01M259.1 88.9h.01M261.0 88.5h.01M262.9 98.3h.01M258.2 94.0h.01M261.2 101.1h.01M257.1 101.0h.01M271.6 92.7h.01M255.3 93.5h.01M249.4 92.4h.01M253.6 94.6h.01M259.7 99.0h.01M263.2 98.0h.01M262.0 97.1h.01M254.1 100.6h.01M272.0 102.1h.01M252.5 99.0h.01M250.4 101.7h.01M260.9 91.8h.01M256.9 93.8h.01M262.3 88.0h.01M262.8 96.8h.01M266.3 94.3h.01M262.3 111.8h.01M269.8 96.6h.01M252.2 100.5h.01M266.6 75.3h.01M261.2 97.9h.01M262.7 95.7h.01M261.3 105.2h.01M265.2 92.7h.01M260.7 110.3h.01M256.0 91.8h.01M264.8 95.9h.01M264.6 104.6h.01M270.8 97.3h.01M262.7 94.5h.01M260.7 102.5h.01M253.1 88.4h.01M259.0 88.4h.01M257.0 104.2h.01M245.8 100.8h.01M252.7 94.2h.01M258.2 88.2h.01M251.4 96.6h.01M259.5 103.3h.01M276.1 91.6h.01M256.5 93.5h.01M265.9 101.5h.01M255.4 99.1h.01M262.2 103.3h.01M259.4 93.8h.01M256.1 86.0h.01M264.4 100.0h.01M270.7 96.2h.01M259.0 88.7h.01M253.8 90.6h.01M264.9 95.4h.01M245.5 95.9h.01M260.3 87.6h.01M262.3 98.9h.01M254.8 85.9h.01M260.0 97.2h.01M260.5 106.4h.01M263.5 87.6h.01M268.2 89.8h.01M267.5 95.2h.01M271.5 86.9h.01M267.8 97.6h.01M255.7 100.8h.01M279.2 96.0h.01M256.7 94.5h.01M272.1 95.9h.01M273.4 89.2h.01M272.1 82.6h.01M261.2 93.0h.01M258.8 104.3h.01M258.0 98.0h.01M276.2 99.7h.01M259.4 90.0h.01M247.5 99.2h.01M269.0 102.4h.01M264.2 110.5h.01M268.2 77.7h.01M255.9 101.4h.01M259.5 101.4h.01M281.5 87.6h.01M278.9 92.8h.01M251.5 96.8h.01M269.2 90.1h.01M274.2 87.5h.01M261.0 101.8h.01M260.9 91.1h.01M262.3 99.8h.01M275.3 103.6h.01M276.4 93.4h.01M250.1 95.9h.01M259.4 88.1h.01M258.6 94.9h.01M262.8 101.6h.01M255.6 104.0h.01M262.8 100.3h.01M271.7 85.1h.01M274.4 88.6h.01M265.4 102.6h.01M269.3 83.0h.01M263.7 103.1h.01M261.6 94.5h.01M263.0 106.9h.01M258.4 88.6h.01M254.2 92.0h.01M260.7 97.7h.01M261.9 82.6h.01M250.7 101.1h.01M267.9 84.6h.01M269.5 76.6h.01M279.8 97.6h.01M250.1 99.9h.01M262.2 91.7h.01M259.7 93.6h.01M261.7 88.5h.01M258.2 99.5h.01M266.4 84.9h.01M258.8 106.8h.01M267.8 106.5h.01M252.4 88.4h.01M246.2 82.5h.01M259.7 87.6h.01M254.3 90.7h.01M261.1 101.2h.01M266.7 81.8h.01M273.6 91.5h.01M255.0 95.5h.01M259.5 85.2h.01M274.2 89.7h.01M258.0 99.4h.01M275.0 97.3h.01M255.7 98.8h.01M270.8 97.0h.01M267.4 91.0h.01M262.0 82.8h.01M257.1 87.3h.01M262.5 105.9h.01M245.6 87.0h.01M255.5 95.0h.01M271.2 88.5h.01M256.6 104.4h.01M265.3 98.6h.01M268.7 89.0h.01M264.2 90.1h.01M257.1 96.5h.01M265.8 85.4h.01M256.7 100.0h.01M263.7 99.7h.01M260.1 89.4h.01M268.4 98.8h.01M256.8 100.4h.01M274.3 91.8h.01M255.2 97.6h.01M263.2 99.1h.01M251.9 97.8h.01M269.2 99.4h.01M267.2 103.3h.01M256.3 104.5h.01M264.1 87.6h.01M260.3 97.2h.01M265.0 104.6h.01M263.9 91.1h.01M278.9 91.0h.01M256.3 102.4h.01M259.4 89.6h.01M254.5 104.4h.01M254.5 96.5h.01M259.1 93.9h.01M256.3 96.7h.01M267.0 102.2h.01M259.8 86.8h.01M251.3 96.2h.01M243.8 106.5h.01M262.7 95.9h.01M252.0 91.3h.01M256.9 100.5h.01M259.4 99.8h.01M266.4 80.6h.01M260.7 104.4h.01M258.6 96.3h.01M261.5 86.2h.01M278.9 92.5h.01M267.3 91.3h.01M273.0 102.4h.01M271.4 101.1h.01M267.8 104.6h.01M265.5 95.7h.01M268.6 88.0h.01M243.4 102.8h.01M263.6 89.8h.01M260.5 88.3h.01M256.2 97.0h.01M263.4 101.0h.01M261.8 99.7h.01M267.6 89.4h.01M249.8 91.3h.01M260.6 91.4h.01M279.1 88.5h.01M266.1 89.2h.01M267.7 85.4h.01M269.7 95.7h.01M259.5 86.7h.01M275.1 89.6h.01M273.3 76.5h.01M253.5 109.1h.01M275.9 93.9h.01M270.0 98.8h.01M259.8 96.3h.01M253.9 86.2h.01M263.4 100.3h.01M263.7 86.1h.01M268.9 95.1h.01M268.2 92.4h.01M260.5 102.9h.01M272.8 85.3h.01M254.2 102.9h.01M265.2 95.2h.01M255.1 103.1h.01M263.9 96.5h.01M265.4 91.0h.01M265.5 95.7h.01M267.9 97.3h.01M252.9 90.9h.01M260.5 103.7h.01M257.6 103.8h.01M270.6 100.6h.01M279.5 93.4h.01M264.9 103.7h.01M265.6 102.0h.01M261.5 105.4h.01M265.1 81.0h.01M270.7 92.9h.01M255.9 93.6h.01M260.4 103.6h.01M265.0 94.3h.01M262.4 88.6h.01M257.7 92.2h.01M260.8 86.8h.01M259.5 102.7h.01M265.9 94.8h.01M265.1 93.1h.01M253.6 102.4h.01M279.4 97.2h.01M267.7 112.4h.01M253.4 99.8h.01M259.9 93.3h.01M250.0 95.7h.01M265.5 83.2h.01M260.8 91.7h.01M255.0 100.4h.01M274.9 96.9h.01M270.2 99.9h.01M262.0 99.4h.01M272.5 91.1h.01M261.4 85.2h.01M248.5 90.6h.01M269.2 97.1h.01M264.5 104.4h.01M249.2 106.4h.01M263.1 100.7h.01M272.9 88.2h.01M256.0 98.7h.01M262.1 90.9h.01M261.6 90.0h.01M263.5 92.2h.01M275.3 86.3h.01M266.9 95.2h.01M274.4 87.0h.01M259.0 107.9h.01M257.5 92.8h.01M259.5 88.3h.01M271.7 105.1h.01M261.4 89.8h.01M252.3 100.9h.01M258.5 99.4h.01M244.4 93.8h.01M267.2 97.7h.01M263.5 94.9h.01M259.9 92.2h.01M263.6 98.7h.01M269.5 92.8h.01M271.7 87.5h.01M276.9 100.6h.01M259.4 115.2h.01M273.4 105.5h.01M253.5 95.2h.01M266.1 102.3h.01M263.1 85.7h.01M271.7 93.0h.01M265.8 92.5h.01M261.7 85.3h.01M267.5 90.1h.01M249.1 99.4h.01M262.2 102.0h.01M268.7 85.8h.01M261.2 95.2h.01M263.2 87.4h.01M263.1 102.1h.01M271.8 104.7h.01M268.2 76.4h.01M260.5 91.4h.01M269.4 94.4h.01M265.2 98.3h.01M260.9 105.1h.01M276.2 99.7h.01M258.3 97.3h.01M269.9 99.5h.01M257.3 102.5h.01M268.0 98.7h.01M259.4 95.2h.01M248.1 96.3h.01M259.2 93.3h.01M260.4 93.0h.01M263.2 95.7h.01M257.9 94.6h.01M261.8 98.7h.01M265.8 92.2h.01M256.3 83.9h.01M253.1 98.9h.01M255.6 107.3h.01M261.3 92.4h.01M261.3 91.3h.01M257.8 96.0h.01M251.6 97.1h.01M261.8 88.7h.01M270.2 96.9h.01M270.7 89.5h.01M253.2 87.5h.01M250.7 82.6h.01M274.3 90.5h.01M264.0 91.1h.01M261.4 106.5h.01M249.4 89.3h.01M263.5 88.5h.01M267.7 103.9h.01M269.2 99.8h.01M261.3 102.4h.01M256.5 87.1h.01M260.5 93.5h.01M271.7 87.1h.01M271.1 88.6h.01M253.0 83.8h.01M262.2 84.7h.01M264.1 95.2h.01M259.5 81.5h.01M258.6 98.6h.01M249.1 101.3h.01M262.6 91.1h.01M264.0 99.6h.01M262.3 89.5h.01M268.4 89.6h.01M265.2 101.8h.01M272.3 105.5h.01M270.2 95.3h.01M261.0 96.6h.01M266.5 116.1h.01M267.5 88.6h.01M274.0 82.5h.01M270.1 85.1h.01M254.3 92.2h.01M260.4 85.6h.01M267.2 93.8h.01M272.6 86.8h.01M248.9 101.3h.01M260.8 102.2h.01M244.9 87.8h.01M263.2 109.0h.01M253.2 82.3h.01M259.1 105.5h.01M274.4 84.1h.01M257.9 82.3h.01M256.2 88.7h.01M265.7 102.9h.01M280.4 90.7h.01M268.7 96.0h.01M263.5 108.8h.01M267.8 105.7h.01M264.8 101.0h.01M266.3 94.0h.01M257.3 92.7h.01M262.6 92.3h.01M259.9 90.2h.01M269.0 92.7h.01M261.6 93.6h.01M272.4 90.2h.01M273.1 87.8h.01M274.0 98.3h.01M258.8 98.7h.01M271.1 87.4h.01M260.8 97.4h.01M260.9 93.1h.01M262.7 97.3h.01M268.3 105.1h.01M260.1 116.4h.01M260.0 108.0h.01M261.6 84.7h.01M259.2 92.9h.01M270.5 79.8h.01M257.8 94.6h.01M267.4 97.4h.01M269.0 93.3h.01M260.8 103.9h.01M275.4 96.5h.01M263.7 88.8h.01M278.3 96.4h.01M267.2 83.1h.01M267.1 112.0h.01M261.3 93.7h.01M274.0 92.6h.01M268.8 108.4h.01M253.8 89.9h.01M267.6 95.4h.01M262.8 93.8h.01" stroke="#000" stroke-opacity="0.85" stroke-width="0.75" stroke-linecap="square" fill="none"/>
<path d="M266.0 80.1h.01M273.9 93.0h.01M257.5 107.1h.01M267.7 85.0h.01M271.5 86.1h.01M259.8 104.1h.01M251.6 106.0h.01M271.3 107.6h.01M252.4 94.9h.01M266.7 85.2h.01M274.3 83.2h.01M270.0 83.6h.01M269.2 90.9h.01M268.7 108.2h.01M269.8 109.9h.01M273.7 108.9h.01M264.0 81.1h.01M258.6 86.5h.01M265.3 108.5h.01M253.8 111.2h.01M250.8 98.7h.01M276.7 89.9h.01M256.8 103.2h.01M264.0 88.0h.01M252.0 96.0h.01M253.7 94.6h.01M262.9 85.3h.01M247.9 91.7h.01M248.7 96.6h.01M274.9 97.9h.01M256.8 112.6h.01M262.2 93.0h.01M276.1 99.9h.01M264.8 95.6h.01M281.4 97.3h.01M261.0 95.9h.01M259.1 104.9h.01M262.1 91.9h.01M275.5 91.9h.01M251.2 94.1h.01M255.2 85.1h.01M273.4 88.8h.01M267.7 86.9h.01M247.8 106.5h.01M270.8 99.5h.01M250.1 95.1h.01M275.8 106.7h.01M267.9 81.5h.01M258.9 103.2h.01M270.5 110.0h.01M253.9 84.7h.01M252.9 106.1h.01M251.3 85.6h.01M248.6 96.4h.01M254.4 97.9h.01M271.2 83.8h.01M248.4 95.6h.01M258.9 92.8h.01M257.7 81.3h.01M248.1 104.3h.01M270.1 100.7h.01M263.3 82.6h.01M278.9 96.3h.01M253.5 90.0h.01M281.6 91.2h.01M248.1 99.1h.01M252.4 86.9h.01M258.8 100.9h.01M259.2 109.8h.01M274.2 90.7h.01M253.3 111.2h.01M271.5 95.9h.01M256.9 86.7h.01M278.0 92.4h.01M259.6 90.2h.01M263.1 76.7h.01M278.6 101.3h.01M276.8 94.8h.01M265.8 109.0h.01M256.2 79.9h.01M264.3 93.7h.01M248.3 97.2h.01M265.7 103.6h.01M275.7 87.7h.01M259.5 88.6h.01M274.8 92.6h.01M258.1 93.0h.01M278.5 96.8h.01M264.5 113.6h.01M274.2 101.6h.01M254.9 81.2h.01M279.6 84.7h.01M264.1 83.0h.01M250.4 103.7h.01M252.1 91.6h.01M252.6 101.7h.01M252.7 85.4h.01M259.6 81.4h.01M245.2 94.2h.01M267.3 87.1h.01M259.0 92.0h.01M247.3 99.7h.01M263.2 102.9h.01M262.7 104.9h.01M273.7 92.9h.01M270.3 89.6h.01M278.1 93.9h.01M277.9 84.2h.01M279.8 93.6h.01M279.3 96.8h.01M250.3 85.7h.01M275.4 107.5h.01M257.4 84.0h.01M263.3 112.8h.01M279.1 97.9h.01M274.8 92.7h.01M270.2 102.9h.01M260.4 95.8h.01M274.9 110.6h.01M257.6 102.2h.01M264.8 109.4h.01M252.7 93.6h.01M253.3 107.4h.01M248.8 98.7h.01M273.5 88.6h.01M246.4 98.5h.01M260.1 85.6h.01M256.8 84.0h.01M275.0 90.1h.01M271.1 97.0h.01M252.2 86.0h.01M269.4 109.9h.01M250.7 90.3h.01M249.0 89.9h.01M248.9 86.0h.01M262.9 81.6h.01M254.1 111.2h.01M266.8 87.7h.01M255.0 105.7h.01M250.5 91.8h.01M268.7 102.2h.01M254.5 102.5h.01M278.9 93.7h.01M270.0 110.3h.01M269.5 83.1h.01M247.9 88.5h.01M254.8 87.2h.01M272.8 89.0h.01M256.4 84.4h.01M276.8 92.8h.01M276.5 94.5h.01M257.8 88.4h.01M245.2 93.1h.01M247.1 92.6h.01M272.2 103.7h.01M270.7 107.0h.01M269.0 81.5h.01M260.3 80.6h.01M246.9 94.4h.01M257.1 77.5h.01M249.7 88.1h.01M266.9 82.8h.01M256.7 82.8h.01M268.9 109.4h.01M249.8 82.6h.01M251.3 95.3h.01M260.0 82.8h.01M249.8 98.6h.01M280.3 93.8h.01M270.6 109.7h.01M256.3 81.8h.01M279.0 99.3h.01M257.4 91.5h.01M265.9 91.3h.01M258.2 85.4h.01M271.5 107.3h.01M270.1 92.6h.01M259.3 82.3h.01M266.2 91.1h.01M264.2 94.7h.01M254.8 91.6h.01M260.1 111.3h.01M254.5 93.2h.01M248.6 94.2h.01M262.8 93.9h.01M256.9 78.8h.01M251.9 96.3h.01M262.7 100.6h.01M278.2 102.8h.01M269.1 83.7h.01M275.0 105.5h.01M278.7 89.2h.01M274.4 81.4h.01M259.9 79.4h.01M279.7 95.3h.01M253.9 93.5h.01M252.9 98.7h.01M270.9 98.0h.01M266.1 87.2h.01M249.8 101.9h.01M261.1 97.9h.01M268.5 99.8h.01M270.0 81.0h.01M269.2 90.4h.01M272.4 101.1h.01M268.1 96.8h.01M265.7 99.8h.01M253.6 80.8h.01M262.6 90.5h.01M263.7 102.7h.01M255.6 83.0h.01M248.2 89.4h.01M274.4 84.3h.01M272.4 83.0h.01M261.2 83.1h.01M274.0 110.8h.01M258.9 108.9h.01M269.4 81.6h.01M259.3 104.9h.01M246.2 93.2h.01M265.8 85.4h.01M251.6 97.4h.01M263.2 111.5h.01M261.5 92.9h.01M258.0 82.1h.01M258.3 96.8h.01M250.9 87.6h.01M263.8 113.0h.01M256.7 79.2h.01M267.3 88.9h.01M272.0 100.4h.01M263.8 99.3h.01M265.0 83.9h.01M256.7 103.9h.01M258.8 96.2h.01M252.2 100.3h.01M253.7 103.3h.01M259.6 87.7h.01M247.9 99.3h.01M268.2 79.8h.01M265.2 105.9h.01M256.8 101.1h.01M266.8 111.8h.01M269.4 96.8h.01M278.0 99.2h.01M255.4 78.9h.01M250.8 98.2h.01M267.4 78.6h.01M247.7 94.7h.01M255.6 102.1h.01M260.6 108.1h.01M269.8 85.1h.01M280.4 96.5h.01M270.6 107.0h.01M258.3 111.0h.01M262.7 86.0h.01M264.4 96.0h.01M250.6 96.2h.01M246.4 86.9h.01M249.2 95.9h.01M254.3 102.4h.01M256.9 112.9h.01M256.0 107.7h.01M268.3 100.0h.01M248.3 94.0h.01M278.3 97.4h.01M261.2 89.2h.01M275.7 83.1h.01M258.1 109.5h.01M252.6 86.8h.01M263.8 83.7h.01M253.4 104.3h.01M268.8 88.9h.01M261.6 98.5h.01M266.4 112.1h.01M247.8 85.5h.01M266.2 94.4h.01M259.9 97.9h.01M245.9 99.6h.01M250.7 97.7h.01M267.4 95.8h.01M272.5 93.1h.01M270.9 89.8h.01M265.0 104.6h.01M266.1 99.2h.01M258.3 88.9h.01M268.9 92.8h.01M260.5 90.0h.01M254.6 100.2h.01M264.0 100.6h.01M269.2 90.9h.01M263.6 100.3h.01M279.4 101.5h.01M257.0 107.1h.01M262.4 93.1h.01M270.3 96.8h.01M263.9 86.5h.01M257.5 83.7h.01M253.1 80.0h.01M272.0 89.2h.01M277.2 97.1h.01M277.7 83.7h.01M256.3 107.6h.01M257.4 85.3h.01M255.7 108.2h.01M249.5 102.9h.01M272.3 81.4h.01M277.2 87.9h.01M250.5 105.0h.01M258.9 103.7h.01M261.3 82.9h.01M255.6 88.4h.01M253.1 107.0h.01M246.8 90.3h.01M267.3 101.2h.01M250.8 82.8h.01M266.6 78.4h.01M276.2 86.2h.01M263.3 105.2h.01M248.1 90.0h.01M246.5 96.4h.01M271.6 95.5h.01M268.5 88.1h.01M261.6 97.0h.01M259.7 92.7h.01M272.0 109.7h.01M262.8 105.9h.01M271.9 112.0h.01M256.2 110.2h.01M264.3 106.2h.01M271.6 95.8h.01M260.5 113.6h.01M273.3 97.1h.01M255.8 79.7h.01M277.2 81.7h.01M264.8 94.4h.01M256.4 79.4h.01M280.4 94.9h.01M245.7 92.0h.01M268.9 76.4h.01M251.2 102.9h.01M268.0 82.9h.01M261.3 91.8h.01M250.3 90.7h.01M245.8 103.5h.01M264.4 90.9h.01M263.4 80.4h.01M272.1 102.8h.01M275.9 82.4h.01M271.0 113.0h.01M249.2 103.8h.01M249.8 93.4h.01M270.6 96.7h.01M277.7 94.0h.01M270.2 86.5h.01M276.5 80.9h.01M271.4 93.8h.01M272.5 104.1h.01M249.8 108.5h.01M247.3 83.5h.01M273.2 103.0h.01M252.2 92.6h.01M253.5 104.7h.01M275.8 105.0h.01M265.9 87.4h.01M264.7 96.3h.01M249.3 109.1h.01M272.5 107.6h.01M261.8 86.9h.01M258.2 106.6h.01M255.9 103.7h.01M277.1 101.1h.01M272.8 86.6h.01M269.2 101.4h.01M253.2 101.0h.01M267.9 83.3h.01M272.2 97.8h.01M264.0 96.4h.01M260.3 82.8h.01M264.3 91.9h.01M267.5 77.9h.01M248.3 96.5h.01M275.2 102.1h.01M261.5 81.0h.01M262.3 76.6h.01M258.9 90.8h.01M258.1 85.8h.01M248.8 101.2h.01M260.1 105.3h.01M262.9 81.1h.01M253.7 97.4h.01M269.3 100.5h.01M272.4 89.2h.01M273.2 98.4h.01M253.2 79.6h.01M275.1 108.2h.01M252.9 86.7h.01M276.9 85.7h.01M251.1 107.1h.01M274.5 98.5h.01M273.3 103.8h.01M254.7 93.5h.01M263.8 97.3h.01M265.5 77.2h.01M263.7 78.5h.01M250.7 92.2h.01M271.3 105.4h.01M249.6 86.3h.01M267.8 82.1h.01M267.1 84.7h.01M248.8 102.3h.01M259.2 87.7h.01M268.0 80.4h.01M268.8 79.8h.01M260.9 101.6h.01M247.8 101.9h.01M266.1 90.3h.01M264.6 96.8h.01M252.6 90.2h.01M266.5 90.1h.01M261.0 80.2h.01M265.3 113.2h.01M266.4 86.2h.01M269.6 107.6h.01M251.4 83.9h.01M266.6 111.0h.01M253.7 104.2h.01M261.4 97.2h.01M250.6 83.1h.01M259.0 95.0h.01M279.0 93.7h.01M251.0 82.2h.01M255.0 87.0h.01M246.1 89.6h.01M264.6 111.1h.01M268.4 92.0h.01M275.9 92.9h.01M248.7 83.7h.01M267.8 102.5h.01M261.5 101.2h.01M259.7 98.7h.01M244.8 91.4h.01M265.7 88.5h.01M259.5 108.2h.01M276.5 83.8h.01M255.0 89.0h.01M274.6 89.4h.01M279.0 94.4h.01M248.3 91.1h.01M278.0 94.4h.01M274.6 96.1h.01M271.7 108.8h.01M247.5 101.1h.01M261.8 92.0h.01M268.4 82.3h.01M252.1 102.4h.01M269.2 95.1h.01M255.2 102.9h.01M248.5 89.8h.01M276.0 82.3h.01M266.9 97.2h.01M266.6 90.2h.01M252.6 101.9h.01M277.4 102.5h.01M265.7 108.4h.01M263.2 108.0h.01M251.2 90.6h.01M266.6 109.3h.01M261.1 111.3h.01M259.0 99.7h.01M245.1 86.8h.01M249.8 89.0h.01M260.9 80.3h.01M274.8 80.9h.01M253.9 101.0h.01M247.8 94.8h.01M275.9 102.0h.01M262.4 104.4h.01M268.1 82.6h.01M273.8 106.4h.01M275.7 90.1h.01M270.4 92.7h.01M261.0 103.5h.01M266.1 99.8h.01M253.3 103.3h.01M279.0 100.3h.01M268.1 80.5h.01M253.3 98.3h.01M272.7 91.7h.01M270.4 88.2h.01M255.6 81.4h.01M259.4 98.3h.01M258.1 108.0h.01M269.3 92.6h.01M269.1 102.4h.01M256.1 82.5h.01M268.8 97.8h.01M260.1 78.2h.01M258.7 86.6h.01M272.6 104.8h.01M245.9 99.0h.01M251.9 87.9h.01M262.8 107.8h.01M273.2 100.7h.01M253.2 87.0h.01M276.3 93.9h.01M254.8 109.6h.01M263.1 109.4h.01M264.5 75.7h.01M274.3 78.7h.01M265.8 100.5h.01M270.8 103.7h.01M265.7 87.1h.01M256.7 110.1h.01M247.9 103.2h.01M255.0 92.1h.01M263.2 79.2h.01M274.9 104.5h.01M257.9 81.3h.01M259.6 97.0h.01M270.3 82.8h.01M275.4 99.5h.01M270.0 102.0h.01M254.9 85.7h.01M257.9 107.7h.01M266.5 85.9h.01M278.5 95.7h.01M268.8 104.6h.01M262.0 102.1h.01M259.0 95.9h.01M250.2 89.6h.01M259.4 105.0h.01M249.5 82.6h.01M261.8 110.7h.01M244.1 92.6h.01M272.7 89.0h.01M263.4 90.8h.01M254.4 97.4h.01M270.5 101.1h.01M255.4 88.5h.01M258.0 86.5h.01M251.4 94.7h.01M249.1 87.9h.01M250.7 96.1h.01M256.1 78.9h.01M270.2 85.1h.01M258.1 111.4h.01M260.7 83.2h.01M252.7 109.4h.01M252.7 82.8h.01M280.4 87.6h.01M255.1 98.3h.01M263.4 98.7h.01M274.3 96.0h.01M262.4 103.7h.01M261.8 98.1h.01M255.0 80.8h.01M250.6 98.4h.01M263.2 115.1h.01M280.5 90.1h.01M270.0 107.2h.01M271.2 108.1h.01M256.5 107.1h.01M267.5 109.8h.01M272.9 103.1h.01M264.7 103.9h.01M266.3 112.2h.01M248.4 89.3h.01M260.9 86.2h.01M280.8 90.3h.01M257.5 100.3h.01M273.2 88.4h.01M274.3 87.2h.01M270.7 92.1h.01M271.0 86.2h.01M251.3 93.5h.01M262.6 111.0h.01M260.3 92.6h.01M266.7 79.8h.01M254.9 99.3h.01M252.0 89.6h.01M251.8 108.4h.01M273.6 97.6h.01M264.4 80.7h.01M251.2 99.5h.01M247.6 98.0h.01M248.4 93.9h.01M255.5 87.6h.01M245.0 89.8h.01M252.1 88.9h.01M255.7 102.0h.01M249.0 108.2h.01M274.0 81.8h.01M271.6 113.2h.01M268.5 99.8h.01M257.2 102.5h.01M248.8 93.3h.01M269.3 92.0h.01M254.6 96.6h.01M262.4 82.1h.01M278.1 86.8h.01M261.4 89.1h.01M254.9 91.0h.01M272.2 87.0h.01M252.0 93.8h.01M249.0 97.4h.01M258.6 114.4h.01M275.5 90.2h.01M269.2 79.1h.01M250.1 94.8h.01M259.1 99.9h.01M266.5 85.2h.01M277.6 93.0h.01M273.5 104.1h.01M273.4 83.9h.01M270.4 105.2h.01M274.5 82.7h.01M249.8 97.2h.01M269.3 90.3h.01M252.4 103.4h.01M266.4 84.2h.01M256.1 84.4h.01M264.1 85.9h.01M264.5 86.1h.01M271.9 88.1h.01M264.5 100.1h.01M254.5 91.5h.01M259.2 89.4h.01M250.7 96.8h.01M277.7 85.1h.01M251.8 102.1h.01M259.1 98.3h.01M259.2 95.3h.01M259.9 88.1h.01M276.3 86.6h.01M259.8 79.3h.01M254.2 82.8h.01M261.7 107.6h.01M269.4 86.9h.01M248.3 98.3h.01M250.7 105.5h.01M251.9 106.3h.01M279.1 95.9h.01M249.6 90.2h.01M252.0 92.3h.01M270.6 103.1h.01M275.4 96.9h.01M270.6 79.6h.01M257.1 88.3h.01M255.5 77.8h.01M255.7 96.0h.01M255.1 83.8h.01M272.4 89.7h.01M276.9 87.9h.01M263.7 98.0h.01M251.6 81.9h.01M260.7 94.2h.01M270.7 80.8h.01M252.1 100.8h.01M260.7 110.3h.01M275.4 101.7h.01M258.9 80.5h.01M267.2 95.2h.01M261.4 100.1h.01M259.1 93.8h.01M268.0 103.1h.01M270.9 91.5h.01M251.3 82.3h.01M267.5 78.6h.01M265.7 102.7h.01M258.3 79.6h.01M267.4 107.8h.01M263.4 79.0h.01M258.5 76.2h.01M279.2 90.3h.01M274.3 89.0h.01M260.5 91.3h.01M258.1 99.4h.01M249.0 106.1h.01M250.9 90.2h.01M260.9 82.6h.01M252.1 86.1h.01M258.7 101.3h.01M271.3 108.5h.01M258.0 106.3h.01M262.3 110.1h.01M268.3 97.6h.01M254.2 94.5h.01M275.3 82.1h.01M246.7 88.9h.01M271.2 95.9h.01M276.4 102.9h.01M263.6 90.5h.01M252.8 84.8h.01M274.9 102.7h.01M252.9 91.7h.01M270.1 112.4h.01M265.6 80.9h.01M267.2 86.9h.01M268.0 91.1h.01M261.6 110.2h.01M272.4 106.3h.01M252.1 104.5h.01M277.2 96.6h.01M253.4 108.1h.01M252.0 97.8h.01M260.4 104.8h.01M258.8 87.6h.01M273.0 103.0h.01M257.4 103.8h.01M253.5 95.0h.01M250.6 88.6h.01M259.6 78.1h.01M257.0 87.9h.01M263.1 111.4h.01M277.8 105.7h.01M246.9 90.9h.01M251.7 97.2h.01M264.2 93.2h.01M249.0 103.2h.01M272.5 84.1h.01M256.8 92.4h.01M260.2 86.1h.01M256.3 107.2h.01M263.9 84.1h.01M262.1 96.7h.01M250.9 92.9h.01M279.5 92.9h.01M271.5 79.8h.01M270.3 92.7h.01M250.7 101.5h.01M250.7 93.4h.01M249.2 91.5h.01M267.4 101.3h.01M266.8 86.2h.01M251.6 99.4h.01M262.3 86.6h.01M262.0 99.5h.01M248.3 94.4h.01M258.1 103.6h.01M259.7 81.8h.01M263.2 96.6h.01M270.0 105.8h.01M259.0 89.5h.01M273.6 93.4h.01M264.1 84.8h.01M262.7 109.3h.01M271.4 95.1h.01M255.7 85.4h.01M266.8 93.6h.01M248.2 94.7h.01M267.6 109.9h.01M262.3 94.9h.01M270.4 82.8h.01M266.4 95.1h.01M254.9 94.9h.01M250.2 100.8h.01M247.8 92.8h.01M264.4 78.5h.01M248.9 101.9h.01M275.0 94.1h.01M253.7 98.7h.01M252.0 85.4h.01M249.5 91.6h.01M260.8 98.9h.01M264.8 102.5h.01M267.2 93.8h.01M259.2 109.1h.01M265.2 112.7h.01M256.2 85.9h.01M279.4 91.7h.01M271.9 94.9h.01M255.0 113.1h.01M268.6 102.8h.01M248.6 87.9h.01M261.1 75.0h.01M259.6 85.9h.01M253.1 87.5h.01M266.7 103.8h.01M260.1 103.8h.01M265.6 107.8h.01M271.7 105.9h.01M275.7 81.2h.01M256.7 80.7h.01M270.5 82.1h.01M257.5 92.5h.01M268.0 95.7h.01M269.2 107.0h.01M262.7 88.7h.01M275.8 96.9h.01M270.5 108.1h.01M270.5 110.9h.01M270.5 110.8h.01M275.3 85.9h.01M276.5 97.1h.01M253.2 81.3h.01M271.3 98.0h.01M269.6 87.8h.01M279.3 94.8h.01M246.8 87.1h.01M270.0 103.3h.01M252.8 86.9h.01M262.8 78.4h.01M248.8 88.2h.01M263.9 91.1h.01M263.1 88.8h.01M263.1 91.1h.01M271.3 80.9h.01M251.1 109.9h.01M258.8 106.7h.01M264.5 101.3h.01M252.6 106.2h.01M253.5 91.0h.01M273.7 85.1h.01M271.7 86.4h.01M253.9 88.9h.01M273.7 100.7h.01M258.3 102.5h.01M275.0 82.5h.01M263.6 100.6h.01M258.6 96.7h.01M260.8 95.2h.01M271.4 86.1h.01M261.2 81.4h.01M260.6 80.1h.01M260.6 99.3h.01M269.6 79.8h.01M257.8 77.9h.01M267.6 89.3h.01M271.7 87.3h.01M259.7 96.3h.01M258.2 82.1h.01M266.2 79.4h.01M268.5 112.0h.01M272.1 93.9h.01M268.3 77.5h.01M260.2 80.1h.01M276.2 84.6h.01M258.3 97.4h.01M260.7 105.7h.01M257.1 95.5h.01M252.3 88.3h.01M270.2 80.5h.01M277.0 105.6h.01M261.4 97.2h.01M257.5 112.9h.01M252.1 87.7h.01M252.9 86.6h.01M252.0 88.6h.01M266.3 97.6h.01M271.7 86.0h.01M251.5 91.3h.01M280.2 99.1h.01M245.0 96.8h.01M273.3 93.8h.01M247.9 91.9h.01M246.9 84.5h.01M254.7 98.3h.01M277.0 100.6h.01M279.1 87.7h.01M246.7 83.8h.01M252.0 106.1h.01M248.3 95.0h.01M265.7 97.4h.01M270.9 109.5h.01M252.5 107.2h.01M253.5 106.2h.01M273.1 108.3h.01M264.8 76.0h.01M270.2 83.6h.01M276.4 86.1h.01M254.2 89.6h.01M266.6 77.2h.01M273.6 105.1h.01M270.1 109.6h.01M259.4 82.7h.01M279.4 93.8h.01M253.1 99.2h.01M272.4 88.5h.01M259.3 82.7h.01M255.8 87.6h.01M248.2 98.8h.01M251.6 109.1h.01M256.2 107.2h.01M267.9 97.2h.01M278.6 102.0h.01M261.6 110.4h.01M251.1 98.0h.01M250.9 102.7h.01M272.9 108.6h.01M272.7 107.1h.01M255.7 98.1h.01M275.5 84.6h.01M260.7 82.2h.01M266.2 94.4h.01M268.6 107.7h.01M250.7 96.7h.01M253.8 82.2h.01M260.2 81.7h.01M250.2 87.1h.01M257.8 110.7h.01M262.4 100.2h.01M250.2 89.7h.01M265.6 99.2h.01M279.8 87.6h.01M276.5 100.3h.01M257.9 92.5h.01M265.6 82.1h.01M259.0 79.3h.01M252.2 95.3h.01M274.6 84.3h.01M271.6 97.5h.01M257.2 95.5h.01M269.3 92.4h.01M272.0 105.2h.01M272.6 92.3h.01M249.1 96.4h.01M257.2 105.1h.01M275.8 90.6h.01M265.2 88.0h.01M250.8 102.7h.01M250.6 99.7h.01M274.1 90.4h.01M273.7 99.8h.01M266.7 84.5h.01M255.9 101.5h.01M250.2 94.0h.01M270.7 101.0h.01M256.7 107.5h.01M245.0 91.6h.01M262.0 88.9h.01M274.1 98.5h.01M259.5 97.3h.01M262.8 97.8h.01M255.8 107.9h.01M263.6 84.2h.01M266.1 106.4h.01M262.7 87.8h.01M264.5 102.8h.01M259.3 91.7h.01M263.6 105.6h.01M251.1 89.5h.01M278.2 99.6h.01M268.2 95.4h.01M270.7 107.6h.01M263.3 90.1h.01M260.7 108.1h.01M260.3 96.8h.01M272.9 110.1h.01M263.9 78.6h.01M250.7 106.2h.01M248.6 98.3h.01M258.0 89.5h.01M264.0 91.6h.01M257.4 85.2h.01M266.7 90.8h.01M258.6 108.3h.01M274.7 93.1h.01M259.1 80.2h.01M274.4 105.6h.01M269.4 111.1h.01M252.3 105.0h.01M267.6 90.7h.01M270.8 82.2h.01M262.1 106.1h.01M256.9 79.6h.01M270.0 99.4h.01M278.7 89.7h.01M260.9 109.6h.01M256.2 84.4h.01M257.7 108.3h.01M272.3 82.2h.01M274.1 102.9h.01M267.3 84.0h.01M256.2 108.2h.01M271.9 104.3h.01M274.8 92.1h.01M268.8 76.0h.01M254.3 82.7h.01M262.3 94.1h.01M262.3 104.0h.01M250.5 107.1h.01M258.9 111.3h.01M271.7 107.0h.01M259.8 88.7h.01M263.7 109.3h.01M250.1 103.3h.01M261.8 113.2h.01M279.3 91.4h.01M253.0 83.0h.01M255.5 83.3h.01M267.7 97.8h.01M272.0 105.3h.01M281.1 96.1h.01M263.9 94.1h.01M256.6 87.2h.01M256.3 95.4h.01M260.6 96.9h.01M267.0 98.4h.01M260.9 93.3h.01M262.0 88.7h.01M265.9 91.6h.01M269.1 97.4h.01M263.5 85.9h.01M272.2 87.8h.01M256.2 101.0h.01M270.8 108.6h.01M265.0 76.4h.01M257.1 99.4h.01M250.1 90.8h.01M252.8 102.3h.01M268.1 105.8h.01M257.3 85.5h.01M268.8 87.2h.01M262.7 100.3h.01M251.7 91.2h.01M252.5 106.5h.01M270.3 81.3h.01M274.1 110.0h.01M256.9 108.1h.01M258.6 87.0h.01M275.3 105.8h.01M264.3 86.5h.01M266.2 76.4h.01M266.1 90.1h.01M262.3 102.8h.01M272.4 87.1h.01M247.0 102.2h.01M276.9 107.0h.01M259.4 107.2h.01M251.4 96.7h.01M272.6 104.0h.01M270.4 78.1h.01M265.3 100.0h.01M252.0 106.8h.01M262.1 78.8h.01M268.1 95.7h.01M254.0 91.6h.01M278.8 91.9h.01M279.3 90.9h.01M254.0 78.0h.01M247.7 95.8h.01M269.8 105.9h.01M256.0 80.9h.01M254.0 83.9h.01M265.0 85.7h.01M252.3 100.1h.01M260.8 77.9h.01M254.3 107.2h.01M252.6 100.7h.01M269.6 91.6h.01M253.9 88.7h.01M256.6 100.5h.01M255.2 93.7h.01M268.7 85.8h.01M248.5 101.3h.01M276.3 98.8h.01M251.2 90.7h.01M266.2 110.3h.01M268.9 88.4h.01M271.0 85.6h.01M263.0 100.2h.01M273.6 84.6h.01M272.7 96.8h.01M267.8 78.4h.01M246.9 100.3h.01M258.3 92.3h.01M267.6 97.4h.01M270.0 88.8h.01M270.8 101.2h.01M262.1 88.4h.01M256.6 85.1h.01M275.8 93.2h.01M264.8 79.3h.01M265.0 100.5h.01M248.1 88.4h.01M264.8 77.8h.01M257.9 100.0h.01M255.2 84.6h.01M278.9 100.9h.01M261.2 107.1h.01M272.1 86.0h.01M255.5 91.3h.01M269.3 88.1h.01M256.0 83.4h.01M253.1 83.9h.01M277.9 93.1h.01M249.9 102.4h.01M272.2 83.3h.01M260.0 111.8h.01M273.9 98.3h.01M251.0 101.2h.01M265.9 80.7h.01M245.5 96.1h.01M256.1 100.7h.01M277.9 86.8h.01M272.2 92.2h.01M254.5 79.3h.01M272.1 83.9h.01M269.0 95.5h.01M265.4 91.6h.01M265.4 97.5h.01M255.8 89.5h.01M249.7 100.4h.01M275.3 83.9h.01M258.5 81.9h.01M263.2 82.6h.01M265.9 93.9h.01M252.0 102.3h.01M273.6 100.1h.01M265.2 84.3h.01M263.8 90.6h.01M253.7 93.2h.01M272.3 106.3h.01M279.3 95.8h.01M274.2 107.9h.01M257.7 108.9h.01M279.5 90.0h.01M274.3 103.0h.01M256.5 85.8h.01M254.6 102.6h.01M261.4 83.6h.01M250.0 96.3h.01M276.8 97.2h.01M262.6 93.7h.01M265.3 106.7h.01M277.5 85.2h.01M247.6 93.8h.01M270.8 93.3h.01M255.6 83.2h.01M260.1 86.3h.01M262.4 97.9h.01M259.1 98.8h.01M259.4 94.9h.01M262.2 109.1h.01M278.2 98.5h.01M255.1 81.2h.01M248.7 105.9h.01M268.3 83.5h.01M248.4 106.1h.01M249.5 88.7h.01M264.2 100.7h.01M249.2 85.6h.01M281.0 94.0h.01M250.7 90.3h.01M269.2 107.8h.01M248.2 101.5h.01M274.9 87.8h.01M246.5 95.0h.01M250.3 84.6h.01M275.3 101.7h.01M252.5 90.4h.01M273.2 97.3h.01M261.1 84.0h.01M255.0 88.4h.01M260.0 92.3h.01M248.4 97.0h.01M275.8 83.7h.01M257.5 113.8h.01M250.1 107.5h.01M258.4 95.7h.01M278.6 94.2h.01M262.6 75.5h.01M270.0 100.1h.01M272.4 108.1h.01M263.7 87.4h.01M261.1 109.1h.01M276.3 92.8h.01M258.4 103.4h.01M256.1 95.6h.01M261.7 88.6h.01M267.3 80.0h.01M250.9 87.6h.01M256.0 108.8h.01M255.3 77.4h.01M271.7 108.0h.01M271.4 102.9h.01M265.4 99.7h.01M261.4 92.1h.01M261.8 99.4h.01M276.3 88.3h.01M265.0 90.5h.01M250.0 103.4h.01M272.4 92.3h.01M255.0 94.5h.01M247.0 104.6h.01M274.3 90.8h.01M269.9 83.1h.01M253.7 113.1h.01M280.2 97.1h.01M257.4 90.8h.01M279.5 105.1h.01M249.2 91.4h.01M253.6 103.8h.01M260.2 82.5h.01M259.3 102.0h.01M269.7 110.7h.01M255.2 88.2h.01M259.7 84.9h.01M276.2 107.0h.01M268.6 86.5h.01M254.1 105.7h.01M248.9 83.0h.01M264.6 84.0h.01M268.6 100.3h.01M276.9 102.2h.01M251.0 83.2h.01M264.6 91.8h.01M262.7 83.0h.01M259.6 98.8h.01M272.7 103.4h.01M273.4 85.8h.01M272.1 83.9h.01M255.1 109.4h.01M276.1 97.1h.01M248.2 89.8h.01M261.8 112.3h.01M278.3 86.5h.01M249.4 98.4h.01M272.3 80.8h.01M255.2 109.5h.01M271.5 92.1h.01M252.3 100.6h.01M276.4 104.7h.01M264.1 101.9h.01M255.3 86.2h.01M259.7 86.2h.01M250.8 83.6h.01M277.7 83.4h.01M269.2 111.2h.01M267.9 89.3h.01M249.8 85.8h.01M265.8 92.6h.01M271.7 98.7h.01M271.9 78.9h.01M275.0 106.3h.01M279.5 100.4h.01M260.3 88.6h.01M276.4 89.6h.01M247.1 84.8h.01M263.5 88.9h.01M259.6 80.2h.01M255.8 79.1h.01M271.0 87.7h.01M268.6 109.2h.01M261.2 101.0h.01M260.6 96.2h.01M261.1 91.3h.01M265.7 90.7h.01M254.8 91.6h.01M273.8 80.8h.01M252.5 104.6h.01M259.3 114.3h.01M264.8 101.8h.01M267.5 107.8h.01M257.7 101.1h.01M251.8 83.8h.01M259.1 86.7h.01M266.9 107.1h.01M274.0 92.2h.01M267.6 75.6h.01M269.3 107.0h.01M247.4 91.5h.01M248.5 97.5h.01M264.8 101.0h.01M267.9 106.7h.01M280.2 88.6h.01M253.1 79.2h.01M253.3 96.2h.01M245.4 92.8h.01M257.0 88.2h.01M255.9 77.4h.01M262.5 99.6h.01M256.0 111.5h.01M265.0 90.2h.01M276.5 92.4h.01M259.6 97.8h.01M248.1 83.2h.01M264.5 91.1h.01M259.2 83.7h.01M252.6 82.6h.01M275.3 97.4h.01M273.0 100.4h.01M248.4 102.6h.01M260.2 80.9h.01M248.8 89.7h.01M255.7 82.2h.01M270.5 92.2h.01M281.8 96.9h.01M274.2 103.0h.01M274.2 100.8h.01M256.9 97.7h.01M262.8 85.2h.01M260.3 98.8h.01M270.0 106.2h.01M256.1 105.3h.01M257.3 106.4h.01M263.1 98.0h.01M262.7 88.7h.01M273.7 103.4h.01" stroke="#000" stroke-opacity="0.75" stroke-width="0.75" stroke-linecap="square" fill="none"/>
<path d="M256.5 106.7h.01M254.5 105.5h.01M271.3 97.7h.01M271.8 93.0h.01M257.8 80.9h.01M247.5 98.8h.01M257.7 81.9h.01M264.6 86.4h.01M264.1 107.6h.01M265.5 83.0h.01M274.8 95.9h.01M267.8 91.4h.01M254.4 91.5h.01M244.5 90.6h.01M259.3 101.5h.01M271.7 97.1h.01M265.0 107.7h.01M265.7 81.7h.01M255.8 91.4h.01M244.6 91.8h.01M261.4 97.4h.01M275.3 93.0h.01M277.3 92.3h.01M258.8 101.3h.01M279.5 87.9h.01M260.6 94.5h.01M258.8 106.4h.01M272.9 102.3h.01M255.2 96.9h.01M276.8 80.9h.01M259.8 103.1h.01M263.5 99.7h.01M263.5 94.1h.01M261.2 94.8h.01M256.5 112.8h.01M260.5 91.3h.01M250.3 98.5h.01M265.5 100.5h.01M258.3 105.8h.01M271.9 92.7h.01M264.3 94.1h.01M256.4 96.8h.01M271.0 98.9h.01M257.4 81.4h.01M258.3 112.7h.01M256.2 74.4h.01M260.7 91.1h.01M268.0 68.7h.01M274.1 84.3h.01M278.0 111.2h.01M244.8 96.2h.01M269.3 92.1h.01M288.1 99.3h.01M266.1 92.5h.01M252.4 86.7h.01M265.2 95.5h.01M258.1 100.1h.01M276.7 92.1h.01M260.9 117.6h.01M273.3 89.0h.01M269.8 93.2h.01M249.9 63.0h.01M264.6 112.5h.01M273.0 76.1h.01M261.3 106.3h.01M272.4 104.1h.01M268.5 88.5h.01M268.8 89.6h.01M246.6 98.6h.01M272.4 71.2h.01M255.7 104.1h.01M263.6 75.9h.01M264.6 87.1h.01M274.7 81.3h.01M254.2 90.1h.01M261.8 91.4h.01M261.8 84.1h.01M263.5 80.9h.01M256.5 103.0h.01M256.6 95.4h.01M261.6 111.2h.01M270.8 118.7h.01M253.0 93.8h.01M266.5 103.4h.01M257.8 99.1h.01M252.3 121.9h.01M284.9 86.2h.01M278.7 90.1h.01M277.9 92.1h.01M256.9 99.1h.01M246.1 72.3h.01M290.0 84.3h.01M246.9 101.4h.01M280.1 95.5h.01M276.2 78.0h.01M250.1 111.9h.01M255.5 98.6h.01M271.6 78.2h.01M254.4 86.1h.01M260.9 116.6h.01M254.2 81.4h.01M263.6 93.2h.01M268.5 74.8h.01M264.7 98.1h.01M268.2 89.1h.01M267.0 107.5h.01M283.3 103.7h.01M270.1 86.5h.01M264.2 89.4h.01M269.5 76.8h.01M262.1 92.7h.01M257.7 111.0h.01M268.9 84.4h.01M257.8 84.3h.01M254.7 91.0h.01M269.2 116.7h.01M253.4 92.3h.01M259.7 105.1h.01M256.1 94.8h.01M252.8 98.6h.01M254.5 102.3h.01M284.5 101.9h.01M256.5 112.8h.01M272.6 91.9h.01M252.9 108.9h.01M275.2 90.7h.01M259.3 91.3h.01M257.9 106.7h.01M256.3 86.7h.01M260.9 74.6h.01M262.7 109.0h.01M270.3 101.2h.01M244.3 85.8h.01M269.5 114.0h.01M251.6 78.2h.01M274.6 100.8h.01M274.2 110.5h.01M259.0 88.3h.01M285.9 94.0h.01M256.6 100.4h.01M264.0 85.6h.01M268.2 88.7h.01M268.7 87.3h.01M254.4 90.4h.01M259.7 92.9h.01M255.8 103.3h.01M245.9 84.8h.01M272.6 110.3h.01M256.4 100.1h.01M257.1 104.7h.01M249.8 96.5h.01M267.6 76.7h.01M247.3 106.6h.01M260.1 93.8h.01M273.2 75.3h.01M254.2 85.4h.01M288.4 78.8h.01M259.3 93.7h.01M255.1 94.7h.01M247.9 98.6h.01M263.2 99.5h.01M245.9 96.0h.01M292.1 95.2h.01M256.3 105.8h.01M255.7 91.9h.01M280.0 88.6h.01M273.1 93.1h.01M249.2 95.3h.01M269.3 100.6h.01M248.6 74.6h.01M271.7 99.3h.01M251.2 94.8h.01M261.9 102.2h.01M261.1 99.0h.01M261.7 99.4h.01M274.0 84.6h.01M252.8 95.7h.01M258.1 86.4h.01M273.7 77.4h.01M263.8 108.7h.01M262.8 98.6h.01M266.9 121.4h.01M249.5 83.3h.01M245.4 96.6h.01M250.4 101.3h.01M251.1 79.6h.01M277.1 89.8h.01M265.5 89.7h.01M269.5 118.8h.01M273.7 100.3h.01M263.1 109.3h.01M254.7 118.1h.01M278.9 107.8h.01M273.3 92.4h.01M267.7 81.2h.01M264.5 108.7h.01M269.1 102.3h.01M268.7 98.6h.01M272.4 86.8h.01M270.6 86.4h.01M258.0 107.4h.01M243.3 118.4h.01M269.6 97.1h.01M265.0 108.4h.01M258.2 99.1h.01M245.0 81.0h.01M252.9 92.6h.01M254.2 95.5h.01M271.5 98.0h.01M248.4 108.3h.01M243.7 107.6h.01M269.5 102.0h.01M271.1 112.8h.01M269.6 107.7h.01M244.6 94.9h.01M253.5 94.0h.01M274.5 91.5h.01M269.6 107.3h.01M257.6 95.1h.01M275.0 98.8h.01M260.4 85.3h.01M257.2 88.8h.01M259.6 76.1h.01M253.5 101.3h.01M273.2 96.1h.01M264.2 76.7h.01M251.7 100.6h.01M259.6 93.2h.01M265.6 98.7h.01M247.4 95.8h.01M254.3 103.4h.01M294.4 81.7h.01M269.2 94.7h.01M258.8 103.3h.01M275.2 87.1h.01M258.1 93.9h.01M271.0 66.6h.01M263.7 104.5h.01M283.6 97.0h.01M263.1 102.2h.01M273.8 83.5h.01M254.8 98.3h.01M272.2 92.8h.01M261.3 79.8h.01M255.2 99.8h.01M262.9 98.4h.01M261.2 85.4h.01M256.1 114.3h.01M266.7 86.9h.01M262.5 104.1h.01M267.3 83.9h.01M254.9 80.8h.01M266.7 82.4h.01M278.5 98.0h.01M263.6 117.1h.01M248.0 87.0h.01M254.2 75.7h.01M272.5 73.1h.01M266.3 88.0h.01M262.2 85.3h.01M262.8 81.5h.01M258.1 93.3h.01M264.9 100.7h.01M280.5 108.3h.01M271.1 90.0h.01M248.7 99.5h.01M260.9 91.1h.01M265.2 95.0h.01M275.8 107.1h.01M255.0 109.3h.01M250.8 90.9h.01M247.0 106.0h.01M269.8 101.2h.01M265.1 95.9h.01M250.8 92.3h.01M265.1 101.3h.01M269.6 117.5h.01M251.9 91.2h.01M251.8 90.6h.01M258.2 95.7h.01M277.0 94.0h.01M258.7 72.2h.01M265.6 97.8h.01M263.6 102.1h.01M266.2 105.8h.01M269.6 82.6h.01M260.2 82.8h.01M282.7 85.2h.01M273.8 107.5h.01M281.9 89.4h.01M252.0 92.0h.01M269.9 100.2h.01M266.0 97.8h.01M264.8 82.7h.01M250.9 108.4h.01M252.3 117.6h.01M263.4 102.8h.01M267.5 122.3h.01M268.0 90.6h.01M265.1 94.3h.01" stroke="#000" stroke-opacity="0.4" stroke-width="0.75" stroke-linecap="square" fill="none"/>
<path d="M260.7 112.4h.01M267.3 141.0h.01M267.4 139.5h.01M264.6 112.5h.01M285.8 110.3h.01M268.4 132.5h.01M276.2 125.8h.01M274.1 129.6h.01M275.0 134.5h.01M268.3 114.2h.01M260.1 123.9h.01M285.6 133.4h.01M274.8 131.0h.01M265.7 133.2h.01M266.7 133.3h.01M273.1 121.4h.01M259.8 117.8h.01M288.1 114.3h.01M261.1 99.7h.01M260.2 124.3h.01M285.4 135.5h.01M277.1 121.9h.01" stroke="#000" stroke-opacity="0.35" stroke-width="0.75" stroke-linecap="square" fill="none"/>
</g>
<g filter="url(#c)" fill="none">
<path d="M242.5 57.7h-1.7M251.2 150.0v1.7M242.5 52.8h-1.7M256.1 150.0v1.7M242.5 49.3h-1.7M259.6 150.0v1.7M242.5 46.6h-1.7M262.4 150.0v1.7M242.5 44.4h-1.7M264.6 150.0v1.7M242.5 42.5h-1.7M266.5 150.0v1.7M242.5 40.9h-1.7M268.1 150.0v1.7M242.5 39.5h-1.7M269.5 150.0v1.7M242.5 85.6h-1.7M279.3 150.0v1.7M242.5 80.7h-1.7M284.2 150.0v1.7M242.5 77.2h-1.7M287.8 150.0v1.7M242.5 74.5h-1.7M290.5 150.0v1.7M242.5 72.3h-1.7M292.7 150.0v1.7M242.5 70.4h-1.7M294.6 150.0v1.7M242.5 68.8h-1.7M296.2 150.0v1.7M242.5 67.4h-1.7M297.7 150.0v1.7M242.5 113.5h-1.7M307.4 150.0v1.7M242.5 108.6h-1.7M312.4 150.0v1.7M242.5 105.1h-1.7M315.9 150.0v1.7M242.5 102.4h-1.7M318.6 150.0v1.7M242.5 100.2h-1.7M320.8 150.0v1.7M242.5 98.3h-1.7M322.7 150.0v1.7M242.5 96.7h-1.7M324.3 150.0v1.7M242.5 95.3h-1.7M325.8 150.0v1.7M242.5 141.4h-1.7M335.5 150.0v1.7M242.5 136.5h-1.7M340.5 150.0v1.7M242.5 133.0h-1.7M344.0 150.0v1.7M242.5 130.3h-1.7M346.7 150.0v1.7M242.5 128.1h-1.7M349.0 150.0v1.7M242.5 126.2h-1.7M350.8 150.0v1.7M242.5 124.6h-1.7M352.5 150.0v1.7M242.5 123.2h-1.7M353.9 150.0v1.7" stroke="#505050" stroke-width="0.7"/>
<path d="M242.5 38.2h-3.2M242.5 66.1h-3.2M242.5 94.0h-3.2M242.5 121.9h-3.2M242.5 149.8h-3.2M242.7 150.0v3.2M270.8 150.0v3.2M298.9 150.0v3.2M327.1 150.0v3.2M355.2 150.0v3.2" stroke="#3a3a3a" stroke-width="0.9"/>
<path d="M357.2 36.2V150.0" stroke="#808080" stroke-width="0.9"/>
<path d="M357.2 150.0H242.5V36.2H357.2" stroke="#444" stroke-width="1"/>
<path d="M277.2 36.2V150.0M242.5 112.25H357.2" stroke="#484848" stroke-width="0.85"/>
</g>
<g font-size="7.4" fill="#222">
<text x="244.1" y="44.2">95.4</text>
<text x="355.7" y="44.2" text-anchor="end">2.28</text>
<text x="244.1" y="148.9">2.3</text>
<text x="355.7" y="148.9" text-anchor="end">0.042</text>
</g>
<text x="284" y="162.2" font-size="10.7" stroke="#111" stroke-width="0.2">CD62L</text>
<text transform="translate(236.6 92.8) rotate(-90)" text-anchor="middle" font-size="10.8" stroke="#111" stroke-width="0.2">CD25</text>
<g filter="url(#b)">
<path d="M461.6 81.5h.01M450.4 104.6h.01M454.9 81.1h.01M453.8 95.0h.01M451.7 97.9h.01M449.2 91.5h.01M450.2 96.5h.01M456.1 97.3h.01M451.6 87.0h.01M461.2 82.7h.01M449.7 94.1h.01M447.9 79.1h.01M454.9 87.6h.01M453.9 94.9h.01M457.2 90.3h.01M447.2 100.8h.01M451.6 104.6h.01M458.5 93.3h.01M462.4 95.0h.01M451.6 106.4h.01M453.7 88.7h.01M451.0 105.7h.01M451.6 85.0h.01M455.6 96.0h.01M450.4 99.9h.01M448.1 79.6h.01M451.4 83.2h.01M447.1 90.6h.01M455.0 93.2h.01M448.7 90.2h.01M455.9 88.3h.01M451.5 97.4h.01M448.7 80.9h.01M457.4 97.0h.01M450.3 80.9h.01M454.0 87.9h.01M452.6 84.1h.01M456.0 89.1h.01M459.3 77.8h.01M451.3 89.5h.01M451.0 98.6h.01M455.8 89.3h.01M449.6 96.3h.01M446.0 90.0h.01M457.0 93.6h.01M458.5 97.0h.01M448.5 81.6h.01M453.2 87.9h.01M454.5 92.4h.01M455.9 102.8h.01M450.7 86.4h.01M451.4 84.7h.01M452.0 98.7h.01M451.5 94.1h.01M452.9 87.9h.01M444.0 83.9h.01M457.0 79.2h.01M457.0 105.5h.01M457.0 92.9h.01M452.5 104.1h.01M456.9 91.9h.01M449.7 92.6h.01M453.5 91.4h.01M457.0 88.8h.01M457.5 105.6h.01M452.5 78.9h.01M457.4 86.6h.01M445.9 98.4h.01M450.0 92.7h.01M449.7 87.0h.01M454.4 76.7h.01M454.1 89.7h.01M448.7 89.8h.01M457.4 94.3h.01M461.1 93.0h.01M454.3 97.3h.01M456.1 87.9h.01M450.8 81.9h.01M452.3 90.2h.01M455.5 106.7h.01M450.5 96.7h.01M452.3 92.6h.01M451.6 79.5h.01M457.7 91.1h.01M449.4 75.4h.01M457.0 85.8h.01M459.4 89.8h.01M447.8 88.5h.01M455.5 99.7h.01M445.2 92.2h.01M449.5 89.8h.01M455.5 91.9h.01M455.6 99.0h.01M458.9 91.4h.01M446.3 101.0h.01M454.6 106.4h.01M459.3 97.3h.01M459.7 88.6h.01M453.7 97.9h.01M454.9 86.7h.01M458.2 89.0h.01M459.9 99.9h.01M453.1 80.9h.01M458.2 93.0h.01M443.0 93.5h.01M457.8 97.1h.01M449.6 101.3h.01M449.6 94.5h.01M447.6 93.5h.01M457.7 94.2h.01M453.5 98.8h.01M451.2 97.4h.01M448.7 101.3h.01M454.8 111.7h.01M457.1 95.6h.01M452.6 81.3h.01M452.3 98.5h.01M452.6 85.1h.01M457.2 76.5h.01M457.8 102.0h.01M454.3 102.5h.01M459.0 85.7h.01M456.7 87.5h.01M452.3 102.0h.01M449.9 99.8h.01M453.5 97.8h.01M451.8 90.1h.01M453.9 95.9h.01M452.6 88.3h.01M452.2 107.7h.01M448.3 91.3h.01M450.9 100.8h.01M454.4 85.2h.01M455.6 96.3h.01M451.9 84.0h.01M456.7 90.2h.01M452.5 84.9h.01M452.1 104.6h.01M452.2 97.5h.01M448.8 95.1h.01M465.6 103.9h.01M449.9 96.9h.01M455.5 95.7h.01M454.3 95.2h.01M447.0 89.1h.01M455.8 87.6h.01M456.3 80.3h.01M456.6 94.3h.01M456.5 107.6h.01M453.6 89.7h.01M453.7 97.1h.01M450.1 86.6h.01M462.2 87.3h.01M452.8 98.6h.01M448.7 92.4h.01M454.5 87.6h.01M457.9 84.8h.01M443.7 105.1h.01M448.8 103.4h.01M463.5 88.8h.01M458.8 91.6h.01M455.0 77.9h.01M452.0 100.7h.01M460.9 86.0h.01M450.8 105.1h.01M457.2 97.7h.01M449.9 89.5h.01M459.9 93.2h.01M448.3 84.9h.01M454.5 95.1h.01M459.4 95.2h.01M456.8 93.7h.01M448.9 92.6h.01M452.6 88.7h.01M448.6 91.7h.01M457.1 108.6h.01M464.9 84.2h.01M453.6 94.2h.01M450.2 76.6h.01M451.3 97.8h.01M455.7 83.2h.01M447.3 85.8h.01M444.8 90.6h.01M446.2 88.1h.01M459.1 93.1h.01M458.2 87.4h.01M451.5 83.5h.01M455.3 91.2h.01M453.0 97.1h.01M462.6 77.1h.01M455.0 98.5h.01M453.7 103.1h.01M452.7 86.7h.01M456.1 84.9h.01M449.0 92.6h.01M452.4 93.1h.01M465.8 97.5h.01M452.5 99.5h.01M457.7 91.6h.01M461.7 101.2h.01M448.0 99.2h.01M452.9 96.4h.01M455.2 105.6h.01M446.7 89.7h.01M452.8 82.4h.01M452.3 87.9h.01M455.7 100.2h.01M455.5 87.8h.01M455.2 78.1h.01M453.4 88.8h.01M459.6 102.8h.01M453.8 94.1h.01M447.2 86.5h.01M457.0 81.4h.01M449.9 88.3h.01M457.0 89.8h.01M451.4 93.6h.01M447.1 87.1h.01M449.0 91.7h.01M460.1 95.6h.01M461.4 96.0h.01M446.5 82.0h.01M449.3 81.3h.01M451.4 110.7h.01M448.4 87.4h.01M446.7 102.5h.01M449.5 85.2h.01M447.2 83.6h.01M456.8 92.1h.01M457.4 91.0h.01M446.4 97.6h.01M455.3 85.9h.01M451.5 101.5h.01M448.8 93.5h.01M453.4 93.6h.01M457.7 89.5h.01M459.4 86.9h.01M455.9 95.6h.01M451.4 96.2h.01M460.1 100.6h.01M450.8 92.7h.01M446.4 91.3h.01M456.2 85.4h.01M453.9 94.6h.01M448.6 87.4h.01M457.2 92.3h.01M459.2 95.7h.01M452.4 87.1h.01M453.1 97.5h.01M457.1 84.1h.01M452.9 99.8h.01M453.6 94.2h.01M457.6 80.9h.01M451.8 99.1h.01M457.0 89.9h.01M450.4 75.9h.01M450.8 105.4h.01M448.1 112.3h.01M455.4 96.3h.01M452.1 85.7h.01M444.5 96.7h.01M455.4 97.2h.01M451.0 88.7h.01M450.4 94.1h.01M449.0 84.0h.01M461.7 96.6h.01M457.3 90.0h.01M454.5 86.0h.01M463.3 81.0h.01M452.3 84.8h.01M451.9 96.6h.01M461.8 80.3h.01M450.8 75.7h.01M452.6 95.3h.01M435.9 96.3h.01M446.0 84.2h.01M450.7 86.0h.01M450.0 93.0h.01M444.2 105.1h.01M459.4 87.4h.01M452.5 85.9h.01M447.2 79.3h.01M465.2 102.3h.01M454.3 94.6h.01M458.4 93.6h.01M453.4 86.7h.01M461.3 87.8h.01M459.0 102.9h.01M455.4 104.5h.01M461.8 96.8h.01M449.3 102.2h.01M458.7 96.4h.01M451.6 95.4h.01M442.3 102.3h.01M465.5 96.9h.01M448.9 104.3h.01M456.1 83.0h.01M444.2 78.6h.01M445.4 97.3h.01M449.4 93.2h.01M456.2 92.4h.01M461.2 88.7h.01M458.1 107.1h.01M461.0 95.6h.01M461.5 89.4h.01M460.1 86.6h.01M452.3 75.6h.01M457.7 89.3h.01M455.8 99.3h.01M461.9 102.8h.01M441.7 101.7h.01M457.7 98.0h.01M449.9 88.0h.01M452.7 86.6h.01M463.5 95.5h.01M449.5 90.9h.01M454.1 89.0h.01M451.8 101.1h.01M457.6 84.4h.01M447.1 95.2h.01M457.8 89.4h.01M455.9 101.4h.01M456.0 96.9h.01M450.8 85.3h.01M453.7 92.9h.01M462.7 89.9h.01M449.6 85.0h.01M441.1 95.3h.01M465.2 91.4h.01M449.4 83.4h.01M456.7 90.0h.01M447.4 92.9h.01M450.7 101.8h.01M444.2 83.7h.01M448.8 94.4h.01M453.3 92.3h.01M454.7 92.8h.01M460.6 81.7h.01M453.8 86.5h.01M451.5 89.6h.01M447.9 90.2h.01M452.5 88.9h.01M459.3 87.9h.01M455.7 92.5h.01M452.3 78.3h.01M457.1 92.3h.01M448.9 107.1h.01M452.9 88.9h.01M450.4 88.4h.01M454.3 89.0h.01M452.8 84.7h.01M455.6 97.5h.01M457.1 74.5h.01M454.9 92.0h.01M458.6 85.1h.01M452.6 93.9h.01M452.4 83.0h.01M454.9 101.9h.01M463.7 101.5h.01M458.1 82.1h.01M456.6 92.3h.01M441.7 94.4h.01M459.2 86.1h.01M457.9 98.3h.01M448.0 89.3h.01M452.8 97.9h.01M452.4 98.1h.01M456.4 91.4h.01M457.3 113.8h.01M454.5 94.0h.01M448.8 98.7h.01M448.3 79.4h.01M454.3 91.8h.01M454.7 87.3h.01M446.7 83.3h.01M457.9 99.2h.01M458.1 89.1h.01M448.4 82.3h.01M452.1 95.3h.01M453.2 90.9h.01M458.5 88.6h.01M451.1 91.1h.01M448.6 90.6h.01M452.4 89.7h.01M452.2 102.0h.01M454.6 81.1h.01M464.8 95.6h.01M448.2 99.3h.01M462.7 91.1h.01M451.3 97.1h.01M448.0 92.0h.01M458.0 100.5h.01M455.3 88.4h.01M449.2 86.0h.01M455.8 107.4h.01M459.0 102.8h.01M462.6 99.8h.01M452.6 104.4h.01M449.9 82.5h.01M454.1 86.4h.01M447.6 96.3h.01M452.4 84.7h.01M449.5 101.2h.01M458.6 97.8h.01M447.7 99.4h.01M452.8 94.8h.01M452.2 86.0h.01M454.9 93.5h.01M459.0 89.6h.01M454.7 94.7h.01M448.8 89.5h.01M459.4 95.3h.01M447.3 92.0h.01M454.0 93.0h.01M453.4 92.1h.01M448.8 92.1h.01M457.5 85.4h.01M455.2 96.0h.01M455.1 87.4h.01M449.9 88.4h.01M452.0 99.5h.01M450.3 87.5h.01M451.3 98.8h.01M461.3 75.2h.01M454.2 79.3h.01M447.9 101.1h.01M446.9 72.1h.01M453.6 93.0h.01M446.1 91.6h.01M448.3 111.6h.01M455.8 103.1h.01M461.9 74.4h.01M447.7 100.8h.01M457.1 99.7h.01M459.1 102.6h.01M452.0 91.9h.01M459.1 91.1h.01M460.1 78.7h.01M449.2 88.1h.01M451.2 84.2h.01M453.7 92.9h.01M454.5 75.2h.01M452.3 83.1h.01M455.9 86.6h.01M452.0 105.9h.01M458.2 85.9h.01M447.1 90.6h.01M449.7 97.8h.01M459.4 96.9h.01M455.1 85.6h.01M451.3 80.4h.01M452.5 88.1h.01M447.5 96.0h.01M454.3 91.4h.01M456.1 95.6h.01M454.3 88.1h.01M449.6 91.0h.01M451.8 84.8h.01M452.8 102.0h.01M461.0 82.7h.01M446.2 89.8h.01M460.3 86.8h.01M447.5 83.5h.01M458.3 99.1h.01M453.2 101.7h.01M457.0 95.8h.01M444.8 91.0h.01M466.5 89.8h.01M447.3 82.6h.01M451.7 95.0h.01M451.0 103.5h.01M451.4 91.0h.01M455.1 104.1h.01M458.4 89.4h.01M443.5 90.6h.01M453.2 80.9h.01M445.1 88.7h.01M452.9 94.8h.01M456.3 81.6h.01M462.8 103.4h.01M448.4 94.5h.01M456.0 94.6h.01M456.2 81.1h.01M448.3 88.4h.01M448.4 103.3h.01M455.6 92.0h.01M452.8 105.9h.01M450.5 79.8h.01M456.8 98.5h.01M452.6 92.8h.01M451.0 90.6h.01M445.4 92.5h.01M463.1 102.5h.01M453.5 85.1h.01M459.7 99.2h.01M439.0 103.4h.01M447.1 94.5h.01M452.2 96.2h.01M450.8 95.5h.01M450.0 92.3h.01M452.1 77.3h.01M451.9 86.8h.01M461.2 96.8h.01M443.0 105.0h.01M458.4 99.9h.01M456.2 87.3h.01M450.7 96.3h.01M465.8 94.5h.01M446.3 101.0h.01M463.9 93.0h.01M444.6 93.5h.01M452.4 97.8h.01M448.8 94.5h.01M452.1 96.7h.01M454.5 92.8h.01M455.6 96.7h.01M457.2 82.5h.01M451.9 91.4h.01M448.9 110.1h.01M461.7 82.3h.01M449.2 101.2h.01M453.6 103.7h.01M447.4 90.4h.01M456.9 94.4h.01M452.4 101.7h.01M451.9 99.5h.01M447.4 92.7h.01M450.8 98.1h.01M447.6 87.7h.01M453.2 81.5h.01M456.9 97.5h.01M448.7 83.0h.01M460.1 85.5h.01M448.2 86.3h.01M452.9 102.6h.01M450.7 97.7h.01M455.7 111.7h.01M457.6 91.2h.01M451.8 92.2h.01M455.4 87.1h.01M455.7 87.9h.01M446.3 91.5h.01M445.0 82.9h.01M453.1 83.6h.01M449.9 97.5h.01M445.0 96.6h.01M457.6 93.7h.01M452.9 88.9h.01M455.0 85.6h.01M456.2 88.7h.01M454.9 77.2h.01M450.8 101.4h.01M455.4 74.1h.01M444.5 85.1h.01M463.4 79.3h.01M455.1 100.8h.01M448.6 85.4h.01M458.6 98.6h.01M458.8 87.8h.01M455.3 98.6h.01M457.8 88.1h.01M457.0 95.7h.01M451.0 90.5h.01M448.1 93.0h.01M451.6 87.1h.01M455.6 100.6h.01M456.2 101.6h.01M446.3 101.9h.01M455.9 101.3h.01M453.1 96.7h.01M457.6 100.0h.01M447.0 91.2h.01M452.8 89.7h.01M464.7 89.1h.01M453.4 97.2h.01M454.2 89.4h.01M451.0 87.3h.01M456.1 91.6h.01M451.1 92.7h.01M458.9 101.4h.01M454.2 88.1h.01M456.3 92.3h.01M452.6 98.2h.01M453.4 103.0h.01M462.3 93.5h.01M458.4 74.6h.01M452.1 89.2h.01M453.0 96.5h.01M459.6 88.1h.01M451.8 79.5h.01M453.6 72.0h.01M455.5 99.3h.01M447.1 94.3h.01M450.0 92.5h.01M450.7 103.2h.01M461.6 99.2h.01M457.9 96.8h.01M455.8 88.9h.01M450.3 91.9h.01M458.6 99.5h.01M457.6 87.8h.01M457.3 89.0h.01M449.4 78.3h.01M457.0 103.8h.01M452.6 100.2h.01M459.9 105.6h.01M452.4 100.1h.01M456.4 85.9h.01M447.9 87.7h.01M454.9 84.2h.01M456.2 88.8h.01M454.3 92.5h.01M455.9 83.8h.01M455.6 89.3h.01M460.6 99.7h.01M450.3 95.7h.01M457.3 83.8h.01M455.2 102.4h.01M452.4 91.1h.01M447.2 91.0h.01M457.6 107.9h.01M449.2 99.6h.01M451.5 100.1h.01M458.3 91.5h.01M450.0 93.7h.01M450.3 96.0h.01M464.5 88.1h.01M458.7 103.1h.01M459.2 85.3h.01M457.2 90.2h.01M460.8 85.5h.01M451.3 84.6h.01M451.7 73.9h.01M454.1 94.1h.01M452.5 90.3h.01M461.1 83.4h.01M456.2 92.4h.01M452.0 93.7h.01M452.9 88.8h.01M456.1 95.9h.01M458.7 105.9h.01M460.1 86.7h.01M452.0 84.6h.01M454.5 97.4h.01M455.4 94.2h.01M452.4 102.2h.01M459.2 96.8h.01M449.5 92.5h.01M457.9 96.3h.01M458.3 82.2h.01M452.6 86.1h.01M457.5 104.3h.01M458.2 96.9h.01M451.6 96.4h.01M457.5 94.6h.01M448.5 88.5h.01M456.3 82.3h.01M456.9 91.2h.01M452.1 99.4h.01M456.0 97.5h.01M448.8 92.5h.01M451.4 105.6h.01M452.2 75.0h.01M447.5 89.7h.01M444.7 82.4h.01M449.1 105.9h.01M445.4 91.9h.01M454.4 86.2h.01M449.2 87.8h.01M456.0 99.1h.01M457.8 90.5h.01M458.6 101.2h.01M447.1 94.3h.01M457.7 99.3h.01M447.7 95.7h.01M447.6 94.1h.01M456.0 92.2h.01M457.8 94.9h.01M454.5 93.9h.01M453.5 77.7h.01M456.7 92.7h.01M454.7 99.9h.01M455.5 92.3h.01M449.1 98.6h.01M454.9 99.3h.01M451.5 81.2h.01M455.7 80.9h.01M452.3 96.1h.01M460.7 93.7h.01M455.8 80.9h.01M449.7 87.7h.01M458.6 95.0h.01M456.7 96.7h.01M454.2 82.2h.01M461.1 82.9h.01M451.6 74.5h.01M458.1 103.0h.01M449.5 85.2h.01M457.7 98.8h.01M459.9 85.6h.01M461.2 86.7h.01M458.0 95.7h.01M457.9 82.2h.01M448.3 93.0h.01M450.0 97.2h.01M450.3 99.5h.01M451.3 90.1h.01M456.9 102.1h.01M448.6 88.4h.01M449.1 91.6h.01M457.6 92.4h.01M449.6 91.2h.01M450.3 88.5h.01M452.3 93.6h.01M450.8 99.7h.01M447.4 83.6h.01M457.6 94.7h.01M453.9 101.2h.01M462.8 82.6h.01M451.8 74.5h.01M446.9 92.5h.01M458.7 101.9h.01M453.0 102.4h.01M454.2 101.8h.01M445.8 102.3h.01M445.5 90.6h.01M453.3 101.7h.01M449.5 91.3h.01M452.8 93.3h.01M456.1 98.2h.01M450.9 83.2h.01M453.1 89.2h.01M455.8 110.0h.01M455.5 96.1h.01M448.6 89.5h.01M460.2 81.5h.01M449.1 88.2h.01M440.3 100.4h.01M457.8 98.3h.01M454.2 80.9h.01M460.8 100.6h.01M460.8 86.9h.01M458.4 107.2h.01M454.1 93.6h.01M451.4 81.1h.01M454.7 83.1h.01M454.8 93.4h.01M448.7 82.0h.01M449.0 103.4h.01M449.8 98.5h.01M450.8 81.5h.01M452.0 89.1h.01M450.5 79.9h.01M453.7 81.5h.01M450.6 89.3h.01M466.4 91.9h.01M453.2 103.9h.01M453.7 83.7h.01M452.5 99.5h.01M458.4 104.2h.01M435.5 89.0h.01M456.7 114.0h.01M450.0 84.6h.01M455.0 94.3h.01M451.2 92.6h.01M451.2 88.3h.01M459.7 87.2h.01M462.7 97.2h.01M452.2 87.5h.01M448.5 100.8h.01M457.4 87.6h.01M457.7 75.2h.01M460.0 89.3h.01M454.4 89.7h.01M451.4 77.6h.01M448.2 104.9h.01M448.2 104.5h.01M450.6 101.2h.01M451.9 89.8h.01M457.4 96.1h.01M447.4 97.1h.01M464.7 88.0h.01M458.9 101.2h.01M454.9 94.4h.01M461.8 102.2h.01M452.1 83.4h.01M447.7 87.4h.01M457.9 97.9h.01M454.6 91.4h.01M453.1 89.6h.01M450.7 91.5h.01M455.2 93.8h.01M442.0 101.8h.01M456.8 99.2h.01M452.0 99.5h.01M454.5 100.2h.01M456.2 92.0h.01M457.8 80.4h.01M446.5 95.5h.01M439.7 84.9h.01M461.2 96.8h.01M456.6 82.2h.01M455.2 92.0h.01M447.6 84.1h.01M458.9 96.8h.01M456.6 81.9h.01M447.1 102.3h.01M456.6 89.6h.01M453.6 107.0h.01M453.8 84.2h.01M466.7 91.3h.01M449.7 88.2h.01M454.3 93.2h.01M449.6 97.7h.01M456.5 95.3h.01M458.9 82.8h.01M452.2 95.4h.01M463.1 85.5h.01M454.2 80.7h.01M452.1 86.8h.01M453.3 92.3h.01M452.3 97.0h.01M459.5 100.5h.01M449.7 94.9h.01M455.0 81.6h.01M448.8 77.5h.01M455.7 100.3h.01M460.7 98.0h.01M453.6 90.5h.01M452.6 95.0h.01M456.3 82.8h.01M453.8 104.6h.01M462.5 85.9h.01M452.8 93.6h.01M451.1 97.0h.01M452.4 85.8h.01M455.8 87.3h.01M462.2 81.4h.01M452.4 92.0h.01M455.9 77.6h.01M458.8 101.9h.01M457.1 96.2h.01M452.9 96.9h.01M444.8 74.7h.01M442.1 92.1h.01M453.4 96.6h.01M451.8 106.6h.01M451.6 98.9h.01M458.1 84.8h.01M445.9 102.1h.01M455.6 96.6h.01M449.5 86.4h.01M450.1 79.4h.01M452.4 88.1h.01M453.0 86.9h.01M456.9 96.2h.01M449.3 98.6h.01M458.6 99.9h.01M443.0 108.6h.01M444.6 94.4h.01M455.9 82.6h.01M452.5 89.7h.01M464.2 81.5h.01M455.3 91.0h.01M454.5 99.1h.01M455.3 97.8h.01M458.8 98.5h.01M456.6 87.4h.01M458.5 79.0h.01M445.0 85.5h.01M453.5 103.2h.01M453.3 92.0h.01M457.3 92.0h.01M445.2 91.0h.01M451.1 93.0h.01M463.3 91.5h.01M449.4 92.8h.01M457.8 92.7h.01M461.6 90.8h.01M457.8 101.5h.01M458.4 97.2h.01M454.7 92.0h.01M441.0 92.3h.01M457.9 97.4h.01M456.5 78.3h.01M447.4 90.3h.01M446.7 89.5h.01M460.6 91.0h.01M454.2 98.1h.01M446.5 93.2h.01M454.6 86.5h.01M454.4 95.7h.01M453.7 90.6h.01M458.8 93.1h.01M458.3 71.9h.01M453.1 99.7h.01M455.6 95.1h.01M456.4 105.6h.01M451.7 80.8h.01M454.1 87.3h.01M459.4 90.6h.01M452.8 106.5h.01M453.6 94.0h.01M453.8 88.4h.01M462.8 91.7h.01M447.2 110.0h.01M448.5 87.2h.01M451.4 108.9h.01M450.6 88.3h.01M452.1 98.6h.01M448.3 108.7h.01M447.6 87.4h.01M453.5 89.7h.01M446.9 84.2h.01M463.3 101.3h.01M452.7 92.6h.01M458.5 91.2h.01M459.8 73.2h.01M457.4 93.8h.01M449.6 92.9h.01M452.5 85.3h.01M448.7 93.6h.01M454.6 82.9h.01M446.3 102.9h.01M439.7 101.5h.01M455.1 95.0h.01M450.3 77.1h.01M457.8 94.7h.01M452.6 80.1h.01M446.7 88.5h.01M458.0 85.1h.01M451.2 96.2h.01M449.2 104.9h.01M456.5 86.7h.01M454.9 114.0h.01M458.1 95.1h.01M447.4 99.1h.01M460.6 95.4h.01M456.8 93.8h.01M446.0 97.2h.01M456.1 103.1h.01M456.4 93.2h.01M452.9 95.4h.01M455.8 82.9h.01M456.2 84.8h.01M452.5 91.8h.01M457.4 89.8h.01M447.7 80.7h.01M449.9 96.5h.01M454.3 78.5h.01M457.7 88.3h.01M450.6 100.3h.01M447.7 85.9h.01M456.8 82.8h.01M453.5 105.9h.01M455.1 77.8h.01M457.5 97.1h.01M456.5 86.3h.01M454.3 94.3h.01M453.3 90.7h.01M450.6 99.6h.01M456.2 100.1h.01M453.4 89.5h.01M450.4 102.8h.01M449.1 85.6h.01M452.6 99.6h.01M458.6 88.9h.01M452.3 101.0h.01M458.3 99.2h.01M460.1 88.4h.01M462.8 92.9h.01M454.0 94.5h.01M452.6 102.0h.01M468.1 92.9h.01M453.1 93.1h.01M448.2 72.9h.01M456.4 93.2h.01M457.0 97.5h.01M452.7 93.8h.01M461.6 89.4h.01M452.2 103.3h.01M445.1 94.4h.01M454.3 111.9h.01M452.8 81.6h.01M447.2 87.9h.01M463.6 94.8h.01M450.4 92.9h.01M448.7 102.2h.01M454.3 87.2h.01M442.8 108.0h.01M458.0 95.5h.01M461.0 88.9h.01M448.4 91.5h.01M460.9 98.0h.01M452.6 95.1h.01M455.6 91.8h.01M446.3 94.8h.01M449.0 90.5h.01M453.4 86.7h.01M452.1 84.7h.01M462.8 89.2h.01M455.3 108.7h.01M449.5 94.9h.01M455.4 96.4h.01M456.9 93.8h.01M448.1 100.2h.01M459.7 85.8h.01M464.9 88.2h.01M456.3 87.7h.01M459.8 95.3h.01M444.5 108.8h.01M465.0 95.4h.01M452.1 104.0h.01M452.8 83.7h.01M454.9 77.7h.01M459.9 102.6h.01M462.5 91.2h.01M448.2 86.8h.01M458.6 98.3h.01M452.6 97.9h.01M457.0 90.0h.01M456.6 107.1h.01M444.0 89.0h.01M458.4 107.4h.01M444.9 100.4h.01M450.2 87.9h.01M452.2 95.5h.01M451.8 91.5h.01M456.7 89.1h.01M451.6 99.5h.01M442.8 95.0h.01M457.6 95.9h.01M448.0 90.1h.01M457.8 85.6h.01M450.1 82.4h.01M450.0 98.5h.01M454.2 96.2h.01M460.6 89.6h.01M460.5 102.6h.01M449.4 96.8h.01M454.6 86.2h.01M450.2 80.1h.01M452.2 88.4h.01M459.4 101.5h.01M450.1 87.8h.01M459.2 88.7h.01M456.6 92.1h.01M460.2 72.8h.01M455.2 97.1h.01M449.5 93.7h.01M451.7 90.6h.01M455.7 93.3h.01M457.0 97.1h.01M455.1 82.5h.01M456.9 101.5h.01M465.8 90.6h.01M458.5 101.6h.01M461.8 100.4h.01M450.5 102.3h.01M458.1 88.1h.01M452.9 94.9h.01M450.1 82.3h.01M452.7 89.5h.01M451.6 97.8h.01M454.9 95.6h.01M454.9 107.8h.01M458.0 84.6h.01M451.7 98.8h.01M455.7 90.0h.01M462.3 105.0h.01M451.9 111.7h.01M453.0 95.9h.01M449.5 106.5h.01M457.7 84.2h.01M448.5 91.0h.01M447.2 107.7h.01M451.8 94.8h.01M449.6 88.6h.01M448.9 109.6h.01M450.9 85.0h.01M456.3 90.2h.01M459.1 111.5h.01M459.6 100.8h.01M453.1 96.1h.01M460.8 88.4h.01M452.2 97.3h.01M451.9 79.7h.01M453.2 94.6h.01M450.0 100.3h.01M450.8 105.1h.01M450.3 93.5h.01M451.1 91.4h.01M450.3 72.0h.01M453.9 97.3h.01M450.4 89.7h.01M457.9 98.5h.01M456.4 103.3h.01M450.2 92.3h.01M458.6 87.1h.01M455.7 79.2h.01M453.5 98.0h.01M452.2 101.6h.01M453.4 88.5h.01M453.5 93.9h.01M457.0 75.4h.01M448.3 86.8h.01M449.7 95.4h.01M453.5 92.7h.01M454.2 101.3h.01M450.1 101.7h.01M456.4 98.8h.01M456.7 90.2h.01M453.9 92.5h.01M466.1 88.5h.01M467.4 79.1h.01M459.2 91.2h.01M454.8 88.0h.01M454.8 88.2h.01M458.8 82.2h.01M450.3 80.1h.01M449.5 105.1h.01M459.6 87.3h.01M452.2 87.3h.01M447.4 99.6h.01M448.4 87.3h.01M454.2 93.5h.01M444.8 94.2h.01M456.3 92.3h.01M457.5 91.7h.01M458.5 91.2h.01M455.6 82.9h.01M452.5 90.2h.01M460.5 105.1h.01M459.8 96.3h.01M460.1 89.1h.01M446.9 86.9h.01M454.6 86.2h.01M456.7 96.9h.01M451.3 88.5h.01M450.4 99.5h.01M449.8 101.9h.01M459.1 88.8h.01M454.7 87.1h.01M461.0 82.9h.01M454.3 93.4h.01M450.4 95.4h.01M456.5 92.7h.01M456.0 84.3h.01M449.9 85.6h.01M464.4 106.5h.01M458.4 89.3h.01M460.6 90.0h.01M451.5 94.4h.01M454.9 92.3h.01M449.9 95.9h.01M453.0 84.9h.01M458.1 95.1h.01M459.9 94.3h.01M460.1 87.9h.01M459.6 90.0h.01M447.7 89.0h.01M457.7 93.5h.01M447.7 94.5h.01M459.7 85.3h.01M446.3 111.8h.01M452.2 90.6h.01M449.6 91.7h.01M448.3 98.8h.01M457.7 81.9h.01M459.5 89.2h.01M458.5 99.2h.01M456.7 87.6h.01M455.4 92.0h.01M451.0 88.9h.01M450.6 89.5h.01M450.6 91.6h.01M463.2 84.5h.01M450.7 92.1h.01M450.5 90.9h.01M461.8 85.7h.01M455.5 95.5h.01M451.3 87.8h.01M455.7 95.8h.01M462.9 96.3h.01M454.8 94.8h.01M453.4 94.3h.01M455.3 79.5h.01M440.2 87.9h.01M459.2 87.7h.01M457.9 103.4h.01M465.5 93.3h.01M455.3 81.1h.01M459.8 102.4h.01M456.1 74.4h.01M449.4 95.7h.01M457.2 86.7h.01M449.8 81.0h.01M455.3 102.2h.01M458.4 71.8h.01M453.6 99.6h.01M450.8 93.7h.01M460.7 92.7h.01M453.3 84.4h.01M456.8 98.5h.01M458.4 100.1h.01M457.1 95.0h.01M458.9 95.6h.01M460.0 86.8h.01M455.5 95.4h.01M452.6 89.6h.01M452.5 91.3h.01M461.6 102.0h.01M450.2 96.5h.01M461.0 96.4h.01M446.4 88.4h.01M457.5 96.9h.01M453.3 93.4h.01M448.2 96.4h.01M445.9 92.6h.01M448.4 95.2h.01M455.7 99.7h.01M454.2 100.7h.01M450.5 85.2h.01M454.7 105.4h.01M459.6 103.6h.01M456.0 89.0h.01M456.2 101.5h.01M459.2 94.7h.01M445.2 93.3h.01M456.6 104.5h.01M458.7 96.9h.01M449.5 96.1h.01M449.3 93.3h.01M451.6 81.4h.01M458.6 92.7h.01M451.5 103.4h.01M457.7 80.6h.01M462.5 82.1h.01M452.7 92.0h.01M451.1 76.9h.01M457.9 88.1h.01M457.6 98.8h.01M455.9 97.9h.01M457.5 106.1h.01M462.4 89.4h.01M445.2 84.0h.01M457.9 88.3h.01M450.7 97.1h.01M456.8 105.9h.01M451.5 99.7h.01" stroke="#000" stroke-opacity="0.85" stroke-width="0.75" stroke-linecap="square" fill="none"/>
<path d="M462.3 96.6h.01M453.6 82.4h.01M460.3 95.6h.01M452.5 103.4h.01M463.3 89.4h.01M451.2 78.4h.01M462.7 90.9h.01M455.2 89.1h.01M457.9 85.0h.01M448.4 98.4h.01M463.4 90.8h.01M442.2 93.2h.01M452.1 75.8h.01M454.3 74.8h.01M456.7 91.9h.01M444.8 92.1h.01M448.8 91.8h.01M457.9 74.1h.01M456.6 94.9h.01M450.7 82.3h.01M458.4 92.0h.01M446.5 76.5h.01M457.9 90.0h.01M452.5 107.8h.01M454.5 105.0h.01M460.2 84.3h.01M446.1 95.4h.01M451.6 95.6h.01M454.7 76.5h.01M449.9 86.4h.01M460.8 89.1h.01M445.6 96.7h.01M453.2 75.4h.01M448.6 82.8h.01M453.4 108.9h.01M462.3 93.2h.01M448.9 85.2h.01M458.0 96.4h.01M449.6 82.4h.01M459.1 104.1h.01M445.1 85.7h.01M448.3 103.6h.01M452.0 112.1h.01M458.5 104.4h.01M456.5 89.1h.01M443.8 93.4h.01M451.1 93.3h.01M444.8 97.5h.01M452.8 91.8h.01M445.8 99.9h.01M453.6 100.4h.01M449.4 89.0h.01M453.8 104.6h.01M454.2 80.7h.01M453.2 95.7h.01M442.8 96.2h.01M457.0 99.9h.01M448.1 98.2h.01M462.9 87.3h.01M454.6 109.1h.01M455.4 80.6h.01M444.2 85.5h.01M458.2 78.8h.01M464.8 96.7h.01M461.1 85.2h.01M461.0 100.7h.01M449.6 100.6h.01M460.5 93.2h.01M454.5 80.6h.01M454.6 96.4h.01M458.9 81.8h.01M464.0 95.4h.01M449.9 95.7h.01M446.8 101.0h.01M458.6 92.5h.01M459.7 94.1h.01M446.5 84.9h.01M449.1 87.3h.01M449.8 80.2h.01M444.5 91.8h.01M453.0 77.7h.01M442.7 93.1h.01M455.1 102.3h.01M442.4 95.7h.01M447.7 100.8h.01M446.2 92.4h.01M445.2 97.6h.01M460.4 103.4h.01M449.2 85.6h.01M454.6 94.5h.01M460.9 102.6h.01M444.0 93.4h.01M452.2 102.2h.01M455.0 89.6h.01M446.4 95.5h.01M453.7 97.2h.01M446.3 86.2h.01M456.3 83.2h.01M447.3 102.3h.01M460.0 78.8h.01M447.3 102.1h.01M450.9 77.7h.01M464.2 90.7h.01M448.7 92.0h.01M456.2 110.8h.01M460.4 94.1h.01M448.4 91.4h.01M452.6 89.6h.01M462.8 92.3h.01M459.2 93.1h.01M462.2 105.0h.01M452.1 78.0h.01M444.0 87.0h.01M462.6 87.9h.01M455.9 109.3h.01M455.5 78.6h.01M461.7 92.8h.01M462.0 96.4h.01M455.3 102.8h.01M453.9 84.4h.01M456.3 79.2h.01M458.4 90.8h.01M463.7 83.9h.01M457.5 86.6h.01M453.6 105.1h.01M448.7 76.1h.01M448.2 83.8h.01M454.2 89.8h.01M455.3 85.8h.01M446.0 84.3h.01M463.6 92.6h.01M455.6 79.5h.01M444.8 91.8h.01M462.5 95.3h.01M454.1 85.6h.01M461.9 87.3h.01M457.9 84.2h.01M452.1 77.2h.01M447.2 86.6h.01M453.6 86.8h.01M456.6 90.9h.01M449.2 88.1h.01M452.2 84.9h.01M450.4 91.4h.01M462.2 105.4h.01M461.9 99.8h.01M449.5 97.2h.01M442.9 98.9h.01M450.1 86.0h.01M454.2 85.3h.01M449.5 95.4h.01M445.1 79.8h.01M443.9 82.8h.01M461.2 80.4h.01M460.2 82.7h.01M451.8 110.8h.01M451.9 111.8h.01M449.2 79.7h.01M448.4 78.6h.01M461.2 105.3h.01M445.1 103.7h.01M455.4 83.3h.01M442.9 90.1h.01M458.2 94.2h.01M446.7 100.2h.01M453.7 99.7h.01M449.2 103.6h.01M446.6 86.5h.01M446.9 106.4h.01M461.3 100.7h.01M446.0 102.5h.01M452.1 104.5h.01M449.3 76.2h.01M443.3 87.3h.01M462.2 103.0h.01M445.1 93.6h.01M443.7 103.8h.01M443.7 85.4h.01M450.9 100.8h.01M457.5 81.6h.01M445.3 91.3h.01M461.1 96.8h.01M447.9 84.1h.01M451.5 89.7h.01M456.4 79.4h.01M456.1 98.4h.01M462.3 105.7h.01M455.6 74.4h.01M457.2 97.0h.01M463.4 91.3h.01M463.2 92.2h.01M451.2 92.6h.01M456.3 101.4h.01M448.5 106.9h.01M459.1 84.0h.01M453.9 95.6h.01M448.2 96.1h.01M452.3 82.8h.01M452.9 97.5h.01M449.3 78.0h.01M452.1 107.5h.01M445.0 86.3h.01M442.6 95.7h.01M452.8 98.1h.01M454.8 97.7h.01M457.0 87.8h.01M455.9 88.3h.01M459.3 93.4h.01M452.2 102.4h.01M451.5 82.6h.01M461.5 81.2h.01M458.0 81.8h.01M451.7 96.2h.01M445.0 100.2h.01M444.9 95.4h.01M447.7 82.5h.01M449.2 103.7h.01M454.4 78.3h.01M457.1 78.9h.01M450.9 92.3h.01M447.3 78.4h.01M444.2 93.8h.01M450.0 99.4h.01M448.2 98.9h.01M457.8 91.1h.01M456.4 105.3h.01M462.9 92.5h.01M446.2 84.3h.01M458.5 75.8h.01M446.9 90.7h.01M457.7 88.1h.01M456.4 91.6h.01M453.6 98.4h.01M451.6 104.4h.01M456.6 82.7h.01M446.6 99.0h.01M454.8 78.9h.01M451.9 110.0h.01M448.7 97.8h.01M443.0 86.9h.01M450.0 81.4h.01M442.6 93.3h.01M454.8 98.2h.01M447.3 98.2h.01M459.8 89.2h.01M456.4 100.2h.01M452.0 81.2h.01M459.6 91.5h.01M454.1 86.3h.01M454.7 97.3h.01M461.5 101.1h.01M454.9 107.0h.01M460.0 104.0h.01M452.4 83.3h.01M459.5 79.4h.01M442.9 100.0h.01M459.0 94.2h.01M460.3 80.9h.01M455.0 83.7h.01M459.1 93.8h.01M458.8 95.2h.01M460.7 107.5h.01M453.5 102.9h.01M461.5 82.7h.01M449.6 101.1h.01M446.9 79.9h.01M451.0 92.9h.01M447.4 84.2h.01M446.4 80.8h.01M457.0 92.2h.01M444.5 96.8h.01M459.9 101.2h.01M452.8 84.2h.01M451.4 105.9h.01M451.9 87.8h.01M451.4 102.3h.01M449.9 94.0h.01M451.6 100.4h.01M452.3 104.1h.01M459.5 98.4h.01M455.5 97.1h.01M443.4 98.3h.01M456.3 83.7h.01M447.3 78.8h.01M448.7 81.5h.01M451.9 100.1h.01M461.8 97.4h.01M454.5 74.8h.01M448.4 98.5h.01M448.8 100.1h.01M455.8 84.2h.01M446.2 99.1h.01M457.1 75.5h.01M460.9 103.5h.01M443.1 99.2h.01M451.2 100.8h.01M449.9 83.0h.01M459.4 86.5h.01M454.1 84.1h.01M457.3 82.3h.01M453.1 99.0h.01M453.7 97.6h.01M446.8 89.2h.01M452.3 104.9h.01M455.2 93.6h.01M444.6 93.1h.01M463.9 92.0h.01M449.6 97.9h.01M458.2 94.3h.01M456.2 88.8h.01M461.6 96.4h.01M455.9 84.4h.01M445.2 86.0h.01M453.7 103.0h.01M459.7 87.9h.01M458.3 89.7h.01M451.5 78.8h.01M460.3 102.5h.01M461.2 104.1h.01M459.5 83.6h.01M455.3 76.1h.01M448.4 105.9h.01M448.0 94.1h.01M449.1 87.9h.01M453.4 78.4h.01M456.0 93.8h.01M442.0 93.7h.01M450.6 83.3h.01M461.5 106.8h.01M452.8 81.2h.01M444.4 98.2h.01M457.4 78.0h.01M457.1 98.8h.01M449.1 96.4h.01M457.8 98.1h.01M452.6 109.2h.01M457.6 110.7h.01M451.1 92.5h.01M448.4 108.4h.01M443.9 85.7h.01M454.6 109.4h.01M462.0 92.3h.01M443.4 99.7h.01M454.4 84.7h.01M450.8 89.5h.01M463.5 94.7h.01M455.0 86.1h.01M444.9 93.3h.01M450.3 99.9h.01M455.1 103.2h.01M444.8 90.5h.01M446.2 90.9h.01M459.1 86.7h.01M455.7 105.2h.01M447.8 81.4h.01M462.0 104.3h.01M454.7 99.7h.01M449.0 83.8h.01M453.9 101.5h.01M461.9 91.0h.01M444.6 97.3h.01M463.7 97.3h.01M462.0 92.7h.01M451.3 98.8h.01M446.5 85.9h.01M460.3 97.2h.01M460.4 101.9h.01M459.5 93.9h.01M453.9 97.4h.01M453.3 86.5h.01M457.6 106.4h.01M450.1 89.5h.01M455.0 74.0h.01M447.1 94.6h.01M459.4 105.1h.01M460.6 92.0h.01M448.8 89.3h.01M458.3 75.9h.01M462.7 90.7h.01M445.4 100.1h.01M455.4 111.6h.01M455.4 96.7h.01M452.9 106.9h.01M452.8 108.7h.01M447.0 89.1h.01M461.1 85.5h.01M459.4 96.4h.01M456.0 104.7h.01M463.3 88.7h.01M448.2 104.6h.01M453.9 92.2h.01M460.9 93.7h.01M458.7 78.0h.01M451.3 110.3h.01M450.1 77.3h.01M445.1 85.6h.01M449.9 93.3h.01M460.7 78.7h.01M453.8 80.0h.01M445.4 89.0h.01M454.0 83.4h.01M454.1 108.9h.01M450.8 100.2h.01M463.1 86.0h.01M448.5 104.7h.01M456.8 78.4h.01M448.9 96.1h.01M461.5 97.2h.01M457.6 85.0h.01M462.0 97.5h.01M456.1 83.9h.01M455.3 85.3h.01M446.2 89.2h.01M447.1 101.3h.01M446.7 101.4h.01M452.7 89.3h.01M446.6 85.4h.01M445.1 98.3h.01M448.1 77.0h.01M461.7 78.5h.01M451.2 94.3h.01M456.0 110.7h.01M465.1 96.2h.01M460.5 95.9h.01M455.9 85.0h.01M445.4 91.1h.01M451.2 76.1h.01M446.9 89.4h.01M461.5 90.3h.01M449.9 88.3h.01M453.9 85.5h.01M456.2 103.3h.01M462.9 89.5h.01M445.2 93.6h.01M450.6 94.7h.01M449.2 101.6h.01M453.9 106.8h.01M460.3 102.7h.01M456.3 109.6h.01M460.3 105.7h.01M458.4 103.0h.01M457.6 106.9h.01M454.2 106.8h.01M448.5 92.9h.01M459.7 94.2h.01M455.0 97.4h.01M452.0 105.7h.01M450.2 79.6h.01M459.9 100.4h.01M459.2 103.0h.01M451.5 112.0h.01M456.0 80.5h.01M460.9 89.0h.01M451.6 109.7h.01M449.6 102.0h.01M449.8 86.8h.01M451.8 72.9h.01M463.4 96.4h.01M458.7 74.8h.01M456.0 95.2h.01M458.4 96.3h.01M461.4 93.5h.01M449.3 79.4h.01M448.7 88.1h.01M449.4 94.7h.01M456.3 86.3h.01M452.8 100.7h.01M443.2 100.7h.01M459.5 86.2h.01M443.4 87.2h.01M446.8 99.5h.01M456.0 84.1h.01M459.0 94.2h.01M457.2 98.4h.01M449.2 96.3h.01M451.9 97.8h.01M455.4 108.2h.01M452.0 105.5h.01M455.4 106.3h.01M454.0 108.1h.01M443.9 90.8h.01M446.5 94.4h.01M452.1 87.6h.01M452.0 75.5h.01M454.9 107.7h.01M445.3 84.6h.01M443.8 97.4h.01M450.0 106.8h.01M460.5 91.8h.01M456.2 89.7h.01M443.8 96.6h.01M451.0 97.4h.01M448.1 86.5h.01M452.7 88.4h.01M450.3 97.7h.01M455.5 75.6h.01M463.7 85.2h.01M449.0 84.1h.01M452.3 99.2h.01M455.2 76.0h.01M452.6 75.6h.01M464.0 101.3h.01M444.9 105.8h.01M447.8 101.1h.01M456.5 74.1h.01M445.5 98.4h.01M449.0 92.2h.01M451.8 85.5h.01M457.4 107.2h.01M461.3 98.3h.01M454.5 99.5h.01M448.5 101.1h.01M460.0 102.7h.01M452.9 96.8h.01M452.5 99.4h.01M443.5 93.1h.01M448.8 78.6h.01M458.7 81.6h.01M458.5 82.5h.01M462.8 89.5h.01M454.0 77.3h.01M460.1 101.8h.01M444.9 89.0h.01M454.8 96.4h.01M463.6 91.8h.01M458.3 111.6h.01M454.4 88.0h.01M446.4 91.3h.01M456.1 76.5h.01M453.5 75.3h.01M451.8 72.9h.01M459.5 99.4h.01M455.6 80.9h.01M454.5 101.2h.01M450.4 106.1h.01M442.5 92.1h.01M449.8 102.2h.01M444.9 92.7h.01M453.9 108.7h.01M458.4 100.8h.01M451.7 98.9h.01M454.4 88.9h.01M449.7 91.5h.01M456.2 86.3h.01M459.1 102.6h.01M453.0 94.7h.01M461.2 83.8h.01M459.2 88.8h.01M445.2 90.7h.01M451.6 75.9h.01M456.4 102.1h.01M446.8 103.6h.01M458.8 91.2h.01M454.4 76.6h.01M450.9 93.5h.01M451.5 106.3h.01M459.1 102.0h.01M457.4 86.1h.01M455.8 81.4h.01M463.4 88.1h.01M459.2 101.9h.01M448.4 94.0h.01M449.2 83.4h.01M452.8 76.7h.01M456.1 109.3h.01M454.0 92.3h.01M461.7 89.0h.01M450.0 83.7h.01M453.9 83.1h.01M455.6 81.5h.01M460.2 109.1h.01M449.9 89.7h.01M446.4 101.7h.01M453.9 84.9h.01M455.2 95.9h.01M454.7 82.7h.01M460.4 81.8h.01M459.1 83.9h.01M463.7 89.0h.01M447.7 108.1h.01M459.0 90.7h.01M451.2 91.5h.01M456.0 106.9h.01M459.4 96.3h.01M460.9 103.1h.01M459.0 80.9h.01M454.7 89.7h.01M449.2 77.3h.01M449.4 108.0h.01M453.3 83.6h.01M461.4 91.9h.01M450.8 92.5h.01M464.8 91.0h.01M461.0 98.9h.01M449.9 93.6h.01M455.4 95.3h.01M458.5 80.6h.01M442.8 93.0h.01M443.7 94.3h.01M454.6 110.5h.01M443.9 82.1h.01M445.6 92.8h.01M456.6 75.9h.01M443.0 99.9h.01M451.5 97.8h.01M454.4 94.8h.01M447.2 80.1h.01M450.5 101.7h.01M460.5 96.8h.01M452.8 86.5h.01M464.3 94.1h.01M462.5 82.6h.01M457.7 104.0h.01M458.3 92.6h.01M446.4 81.1h.01M461.2 81.1h.01M442.5 100.3h.01M445.5 88.4h.01M458.2 103.0h.01M460.3 104.0h.01M453.2 75.6h.01M450.2 86.7h.01M451.5 86.8h.01M449.6 100.4h.01M455.5 108.6h.01M460.1 109.1h.01M455.8 82.2h.01M447.1 98.1h.01M456.9 80.5h.01M456.9 83.7h.01M456.1 95.2h.01M461.3 87.6h.01M451.5 107.1h.01M462.6 94.6h.01M452.1 88.5h.01M453.0 89.0h.01M455.9 108.4h.01M450.5 95.8h.01M448.1 83.5h.01M454.1 81.8h.01M448.4 96.1h.01M450.5 106.4h.01M446.5 94.7h.01M459.7 93.3h.01M462.5 87.2h.01M453.0 106.3h.01M455.4 91.2h.01M450.2 99.2h.01M449.7 82.2h.01M453.7 101.4h.01M455.7 89.8h.01M461.9 86.7h.01M461.0 89.8h.01M455.3 103.6h.01M446.7 103.6h.01M456.5 78.5h.01M454.9 81.6h.01M452.5 109.1h.01M445.7 89.3h.01M463.0 99.2h.01M458.5 88.4h.01M446.2 84.4h.01M447.8 87.9h.01M455.1 93.8h.01M445.1 94.6h.01M450.8 74.9h.01M453.0 77.7h.01M463.5 90.8h.01M456.7 76.5h.01M454.8 78.4h.01M462.2 98.3h.01M462.4 96.9h.01M455.4 90.7h.01M449.4 92.9h.01M452.8 81.5h.01M446.0 108.5h.01M454.5 85.9h.01M454.6 109.1h.01M462.6 100.6h.01M464.3 88.7h.01M455.6 82.6h.01M453.1 79.2h.01M460.0 102.5h.01M458.2 82.3h.01M444.8 94.7h.01M452.4 82.6h.01M463.5 98.5h.01M458.5 80.5h.01M460.0 77.6h.01M457.1 88.1h.01M456.8 80.5h.01M447.2 105.4h.01M450.8 93.5h.01M449.7 77.2h.01M450.7 86.0h.01M459.3 101.2h.01M460.0 105.8h.01M449.8 106.1h.01M459.2 90.7h.01M452.5 97.2h.01M455.7 96.7h.01M459.4 75.4h.01M445.8 99.1h.01M459.5 108.3h.01M445.9 99.6h.01M447.6 109.9h.01M448.3 109.6h.01M461.8 101.2h.01M456.9 80.6h.01M453.6 88.2h.01M445.6 99.4h.01M451.4 81.7h.01M456.3 106.7h.01M456.7 76.0h.01M450.4 109.0h.01M461.1 97.6h.01M461.0 86.4h.01M460.2 96.5h.01M459.0 81.2h.01M460.3 92.8h.01M445.3 83.7h.01M462.8 85.2h.01M444.6 85.6h.01M458.5 79.3h.01M457.5 105.4h.01M455.9 85.2h.01M450.9 107.3h.01M456.5 85.3h.01M453.4 101.6h.01M445.5 98.1h.01M454.4 80.8h.01M453.1 83.1h.01M452.1 83.5h.01M454.7 96.7h.01M452.5 72.8h.01M449.1 90.3h.01M452.4 83.7h.01M448.2 77.2h.01M459.5 88.6h.01M457.9 104.1h.01M457.8 90.2h.01M451.5 102.7h.01M457.6 91.5h.01M454.2 83.9h.01M452.0 99.6h.01M448.3 91.0h.01M459.0 99.0h.01M454.3 99.5h.01M449.6 112.0h.01M461.6 100.4h.01M463.9 98.4h.01M454.0 81.8h.01M457.0 95.0h.01M456.7 77.9h.01M445.5 87.1h.01M450.0 79.7h.01M457.1 109.0h.01M459.8 87.6h.01M450.7 98.6h.01M445.3 101.7h.01M449.8 110.5h.01M458.8 91.0h.01M455.2 98.1h.01M447.8 107.0h.01M452.4 97.3h.01M453.1 88.3h.01M454.4 107.3h.01M462.7 88.7h.01M450.7 103.8h.01M450.6 94.8h.01M455.7 78.8h.01M454.5 84.4h.01M456.0 75.1h.01M457.1 102.0h.01M449.3 106.8h.01M462.9 92.8h.01M449.1 86.8h.01M452.9 107.0h.01M447.0 92.6h.01M452.5 88.5h.01M447.8 102.9h.01M449.7 76.9h.01M447.8 102.9h.01M458.8 93.2h.01M451.4 75.4h.01M452.1 78.7h.01M459.0 82.2h.01M447.8 85.3h.01M454.9 93.7h.01M459.5 89.1h.01M451.8 89.4h.01M448.8 103.7h.01M459.9 106.8h.01M462.6 83.9h.01M464.4 89.6h.01M447.5 97.5h.01M452.2 101.7h.01M447.5 84.4h.01M460.2 88.7h.01M444.3 94.6h.01M460.8 83.2h.01M453.0 93.8h.01M454.8 78.0h.01M454.7 109.7h.01M462.0 85.7h.01M450.9 98.3h.01M457.7 84.9h.01M453.2 103.4h.01M447.9 84.3h.01M457.8 80.9h.01M452.2 105.1h.01M450.6 97.6h.01M451.3 83.2h.01M450.7 86.8h.01M454.6 87.0h.01M456.8 105.8h.01M450.6 85.0h.01M446.8 92.6h.01M451.4 81.5h.01M446.3 99.3h.01M455.1 75.2h.01M455.4 77.6h.01M454.1 74.8h.01M456.4 99.3h.01M454.9 78.6h.01M452.5 105.7h.01M456.2 104.8h.01M448.5 107.7h.01M461.2 82.8h.01M458.0 99.1h.01M450.3 91.7h.01M459.9 98.6h.01M442.9 85.2h.01M450.7 76.8h.01M452.1 93.4h.01M449.8 97.7h.01M457.8 85.5h.01M454.2 104.2h.01M445.5 86.0h.01M450.4 98.8h.01M455.7 85.7h.01M446.3 88.9h.01M446.9 89.7h.01M461.7 82.1h.01M451.6 98.1h.01M453.0 81.1h.01M451.5 83.8h.01M452.2 76.0h.01M443.3 93.2h.01M454.2 99.6h.01M450.4 85.3h.01M459.9 98.4h.01M450.5 104.2h.01M457.6 75.6h.01M454.7 89.2h.01M447.4 88.5h.01M443.4 101.0h.01M461.8 106.5h.01M449.0 86.4h.01M455.1 104.2h.01M445.4 100.7h.01M449.6 79.9h.01M456.8 79.1h.01M450.7 105.9h.01M454.7 85.0h.01M456.4 83.0h.01M446.1 103.1h.01M448.6 92.5h.01M449.9 103.5h.01M449.1 105.5h.01M460.9 86.0h.01M464.7 94.0h.01M458.5 107.9h.01M451.7 82.5h.01M446.7 82.2h.01M462.5 88.1h.01M459.5 94.7h.01M463.6 90.3h.01M449.4 85.0h.01M464.5 89.9h.01M443.4 99.4h.01M446.8 105.1h.01M450.6 89.3h.01M448.2 92.2h.01M462.4 99.0h.01M446.7 95.3h.01M451.0 105.3h.01M460.5 102.7h.01M454.5 103.3h.01M457.6 95.9h.01M449.3 106.9h.01M447.6 94.7h.01M455.3 96.6h.01M449.2 96.6h.01M461.5 100.7h.01M464.5 91.2h.01M446.1 95.7h.01M463.2 103.0h.01M460.7 102.2h.01M451.5 75.8h.01M449.9 80.7h.01M458.4 97.5h.01M463.0 98.8h.01M443.0 96.2h.01M458.8 97.8h.01M454.5 89.3h.01M447.2 109.9h.01M457.3 106.1h.01M460.8 94.9h.01M463.0 89.3h.01M454.0 109.0h.01M459.2 100.1h.01M449.8 104.7h.01M455.8 78.0h.01M452.0 78.8h.01M455.3 76.9h.01M458.2 86.9h.01M450.8 78.2h.01M460.6 90.2h.01M446.4 83.8h.01M446.7 93.0h.01M454.0 78.6h.01M458.0 97.1h.01M455.2 76.7h.01M454.1 93.3h.01M446.9 83.6h.01M455.8 82.4h.01M457.5 103.3h.01M453.4 103.2h.01M448.2 109.6h.01M445.3 85.3h.01M453.2 106.7h.01M445.7 83.3h.01M450.5 97.2h.01M444.2 81.5h.01M449.3 84.4h.01M453.6 93.0h.01M450.8 100.0h.01M451.4 93.0h.01M451.2 99.2h.01M463.2 95.3h.01M446.8 79.3h.01M460.7 90.2h.01M462.0 83.3h.01M456.2 81.4h.01M452.5 95.1h.01M452.1 95.4h.01M460.1 96.4h.01M448.3 88.5h.01M457.3 109.2h.01M444.9 87.6h.01M457.4 77.1h.01M454.2 111.0h.01M458.3 92.0h.01M453.0 93.9h.01M443.6 86.2h.01M455.6 83.5h.01M459.0 89.1h.01M448.0 100.8h.01M449.5 87.8h.01M460.7 76.8h.01M452.3 108.7h.01M446.0 94.8h.01M463.6 94.5h.01M449.0 107.7h.01M461.7 95.2h.01M444.7 90.8h.01M461.1 93.1h.01M457.2 88.7h.01M450.0 83.7h.01M451.0 93.3h.01M456.8 109.0h.01M451.5 102.6h.01M456.5 91.9h.01M448.0 92.8h.01M454.0 76.0h.01M455.5 99.6h.01M447.1 99.6h.01M463.8 96.3h.01M451.1 75.6h.01M449.3 80.6h.01M459.4 87.4h.01M461.4 95.7h.01M449.9 112.1h.01M448.8 85.8h.01M461.8 98.3h.01M461.4 95.3h.01M451.4 88.8h.01M450.5 80.5h.01M455.6 90.8h.01M446.8 81.7h.01M446.0 100.2h.01M450.6 76.5h.01M459.0 85.6h.01M455.1 75.8h.01M452.6 105.2h.01M447.2 100.4h.01M462.5 104.4h.01M449.6 81.9h.01M445.8 79.4h.01M460.1 84.6h.01M448.6 79.0h.01M444.3 89.9h.01M442.7 90.3h.01M456.0 107.0h.01M442.2 87.2h.01M450.4 81.7h.01M447.5 106.9h.01M450.8 80.1h.01M448.0 82.5h.01M453.4 74.6h.01M455.9 103.0h.01M454.7 103.5h.01M449.9 97.0h.01M461.1 101.7h.01M449.5 79.8h.01M446.2 81.6h.01M447.3 95.5h.01M460.1 108.6h.01M449.5 102.1h.01M454.4 91.7h.01M462.1 91.7h.01M453.0 94.3h.01M446.0 99.1h.01M445.1 94.3h.01M453.1 100.9h.01M458.6 110.1h.01M458.5 89.5h.01M451.3 102.9h.01M456.1 88.7h.01M450.7 91.1h.01M449.9 108.7h.01M459.5 95.0h.01M452.1 96.5h.01M460.3 91.7h.01M457.5 84.0h.01M457.8 81.7h.01M457.0 84.6h.01M455.4 84.5h.01M446.8 98.7h.01M457.5 86.9h.01M449.8 98.2h.01M459.9 94.7h.01M452.7 90.6h.01M449.9 102.6h.01M464.0 95.9h.01M460.8 97.5h.01M456.3 82.7h.01M455.0 100.7h.01M444.6 96.4h.01M456.1 95.7h.01M458.4 110.3h.01M445.4 101.8h.01M454.2 90.8h.01M450.7 87.8h.01M451.3 80.6h.01M461.0 96.3h.01M464.9 93.3h.01M454.3 98.1h.01M463.5 89.5h.01M447.6 86.9h.01M451.3 96.8h.01M445.6 108.0h.01M449.0 90.9h.01M451.3 95.3h.01M455.0 111.8h.01M456.3 77.2h.01M458.7 91.7h.01M459.5 79.6h.01M447.4 97.5h.01M461.4 83.7h.01M453.9 105.1h.01M462.6 91.1h.01M447.3 86.3h.01M456.6 79.7h.01M445.7 87.6h.01M451.8 103.5h.01M447.9 100.5h.01M445.0 93.9h.01M450.0 84.1h.01M448.3 104.1h.01M450.7 100.3h.01M458.4 105.8h.01M461.5 100.3h.01M453.9 86.1h.01M451.2 108.7h.01M454.8 86.1h.01M454.8 108.6h.01M449.9 92.9h.01M448.7 87.1h.01M452.7 78.7h.01M459.5 102.3h.01M454.5 107.2h.01M446.5 86.0h.01M459.5 92.9h.01M450.2 96.4h.01M450.2 87.0h.01M445.4 89.7h.01M451.5 91.6h.01M458.1 102.2h.01M461.8 80.8h.01M457.1 101.0h.01M449.5 95.4h.01M450.7 99.1h.01M455.0 96.2h.01M448.0 101.4h.01M453.7 76.0h.01M456.6 109.6h.01M443.0 94.3h.01M461.8 104.2h.01M459.3 89.3h.01M462.4 94.1h.01M458.0 74.4h.01M448.2 87.4h.01M450.8 91.4h.01M457.5 83.3h.01M455.7 91.6h.01M455.5 83.1h.01M460.1 83.0h.01M457.3 89.7h.01M456.1 94.7h.01M452.3 102.4h.01M443.3 93.2h.01M459.3 101.3h.01M449.8 93.9h.01M455.1 76.4h.01M453.3 107.0h.01M458.7 96.9h.01M453.1 100.1h.01M457.2 82.7h.01M452.1 79.1h.01M464.1 90.3h.01M462.8 89.9h.01M454.9 100.7h.01M454.6 83.2h.01M462.4 89.6h.01M443.8 96.0h.01M456.0 100.2h.01M444.7 96.2h.01M445.8 86.5h.01M449.9 93.7h.01M444.8 98.5h.01M452.7 73.6h.01M451.6 95.7h.01M460.1 106.2h.01M449.8 98.9h.01M458.9 98.2h.01M459.7 96.7h.01M459.8 83.8h.01M459.0 108.0h.01" stroke="#000" stroke-opacity="0.75" stroke-width="0.75" stroke-linecap="square" fill="none"/>
<path d="M449.5 122.7h.01M446.0 106.4h.01M448.0 105.9h.01M459.7 82.3h.01M466.4 81.6h.01M469.4 107.6h.01M459.3 93.0h.01M457.7 78.9h.01M450.9 90.3h.01M459.8 88.4h.01M452.1 96.6h.01M461.0 123.3h.01M448.9 123.3h.01M458.0 114.3h.01M442.9 102.3h.01M464.9 96.7h.01M447.4 97.2h.01M451.2 90.5h.01M453.5 100.8h.01M451.7 91.3h.01M471.8 76.1h.01M457.2 121.9h.01M466.0 97.2h.01M454.6 74.6h.01M450.1 90.8h.01M459.8 77.5h.01M449.6 105.6h.01M449.0 113.5h.01M465.8 107.3h.01M445.4 96.5h.01M446.7 100.5h.01M448.4 106.7h.01M458.9 102.1h.01M445.7 92.0h.01M462.9 99.4h.01M447.1 98.7h.01M462.2 100.6h.01M458.1 90.4h.01M459.0 98.3h.01M444.3 102.1h.01M441.1 103.6h.01M445.5 74.7h.01M470.5 93.8h.01M455.0 103.6h.01M450.8 67.7h.01M462.0 79.6h.01M454.4 109.8h.01M444.0 86.1h.01M444.4 85.4h.01M456.6 109.0h.01M450.4 97.1h.01M458.7 111.8h.01M445.5 99.5h.01M469.2 86.0h.01M443.6 90.3h.01M459.8 64.0h.01M447.0 87.3h.01M465.4 106.6h.01M460.4 98.9h.01M459.5 118.4h.01M446.8 84.6h.01M459.9 96.6h.01M457.9 93.4h.01M449.2 102.6h.01M456.6 100.8h.01M454.1 82.6h.01M451.0 117.1h.01M443.0 101.1h.01M454.7 97.3h.01M453.1 99.3h.01M459.5 86.8h.01M464.2 109.7h.01M453.1 117.2h.01M443.3 81.1h.01M464.4 109.4h.01M459.3 123.5h.01M454.4 94.0h.01M453.3 122.7h.01M446.5 90.5h.01M451.6 92.3h.01M445.5 95.1h.01M454.7 96.0h.01M448.4 86.8h.01M446.2 105.0h.01M454.3 88.4h.01M448.3 82.8h.01M462.1 103.8h.01M446.0 88.8h.01M456.4 107.9h.01M449.7 114.2h.01M455.3 101.7h.01M453.9 112.2h.01M457.3 97.4h.01M450.3 103.6h.01M460.4 80.3h.01M446.5 89.2h.01M456.5 106.9h.01M469.6 89.3h.01M440.6 88.6h.01M441.9 89.5h.01M469.7 99.6h.01M465.5 88.3h.01M459.1 81.9h.01M457.7 103.2h.01M445.5 105.6h.01M453.3 96.6h.01M447.7 85.7h.01M447.2 108.8h.01M444.2 84.9h.01M447.0 66.6h.01M458.2 72.8h.01M466.3 102.0h.01M452.5 120.2h.01M458.3 105.5h.01M451.6 95.6h.01M447.1 71.7h.01M457.2 103.1h.01M455.2 104.8h.01M452.3 95.0h.01M443.7 81.4h.01M451.1 113.0h.01M454.0 114.4h.01M451.8 100.9h.01M458.9 102.0h.01M448.8 65.8h.01M468.1 100.0h.01M462.3 116.4h.01M448.0 97.6h.01M461.4 77.9h.01M447.2 101.5h.01M451.5 84.8h.01M472.3 86.2h.01M441.6 83.1h.01M460.1 104.9h.01M447.7 103.2h.01M447.4 116.2h.01M455.1 101.1h.01M465.5 96.4h.01M471.3 101.8h.01M449.5 90.7h.01M441.3 111.2h.01M460.5 107.2h.01M444.2 98.2h.01M457.5 88.5h.01M449.5 93.8h.01M450.8 96.2h.01M461.6 106.2h.01M453.2 80.8h.01M465.2 99.1h.01M461.6 76.0h.01M466.8 101.7h.01M466.6 98.6h.01M451.1 97.0h.01M450.7 103.7h.01M453.5 84.6h.01M446.3 101.8h.01M454.2 96.0h.01M450.6 115.2h.01M449.5 97.1h.01M463.8 107.1h.01M452.3 95.9h.01M438.7 125.1h.01M436.0 102.3h.01M456.0 95.5h.01M457.3 120.7h.01M458.5 97.9h.01M444.4 110.5h.01M451.1 100.4h.01M446.2 89.3h.01M451.2 96.4h.01M452.0 83.9h.01M462.8 113.0h.01M443.5 102.3h.01M459.8 100.7h.01M444.4 89.3h.01M458.4 87.4h.01M444.6 84.1h.01M460.3 97.9h.01M453.3 93.9h.01M458.8 82.8h.01M448.0 104.8h.01M457.3 87.7h.01M443.5 102.8h.01M449.5 108.0h.01M465.4 81.5h.01M462.5 89.2h.01M449.9 99.8h.01M455.3 94.0h.01M452.2 80.4h.01M453.8 94.7h.01M461.3 105.4h.01M453.6 104.9h.01M459.7 89.4h.01M456.2 103.1h.01M453.7 106.5h.01M453.2 92.1h.01M445.6 85.0h.01M447.9 83.1h.01M463.6 98.3h.01M450.5 109.5h.01M450.4 83.7h.01M445.4 88.3h.01M465.9 90.7h.01M447.3 84.2h.01M456.5 99.0h.01M449.0 88.4h.01M451.6 104.7h.01M453.9 108.4h.01M459.0 102.9h.01M451.4 100.5h.01M474.2 79.6h.01M436.6 77.3h.01M449.7 77.2h.01M450.1 118.0h.01M455.5 86.7h.01M456.9 108.1h.01M444.0 95.5h.01M448.7 98.5h.01M439.1 79.5h.01M462.7 87.8h.01M458.3 69.4h.01M464.6 98.5h.01M453.1 93.1h.01M471.8 99.2h.01M459.6 91.1h.01M461.9 95.7h.01M451.8 83.0h.01M466.8 116.1h.01M445.4 91.0h.01M459.9 97.9h.01M450.8 68.5h.01M446.6 74.8h.01M459.1 81.0h.01M448.2 106.1h.01M459.8 115.5h.01M447.5 116.5h.01M454.5 100.8h.01M460.7 108.9h.01M437.1 71.6h.01M444.9 115.4h.01M456.1 97.8h.01M451.0 83.6h.01M455.4 111.1h.01M441.8 98.8h.01M447.5 101.8h.01M445.0 89.6h.01M450.0 106.0h.01M454.1 83.9h.01M450.1 96.4h.01M453.5 114.9h.01" stroke="#000" stroke-opacity="0.4" stroke-width="0.75" stroke-linecap="square" fill="none"/>
<path d="M435.9 86.2h.01M422.3 100.7h.01M435.4 69.8h.01M430.8 92.7h.01M426.1 92.8h.01M420.5 90.3h.01M432.2 92.6h.01M411.0 90.2h.01M428.0 99.4h.01M415.5 81.9h.01M417.8 83.9h.01M424.6 96.6h.01M435.1 83.7h.01M436.6 100.9h.01M439.8 99.2h.01M421.7 77.9h.01M423.1 95.3h.01M429.6 91.3h.01M421.2 91.9h.01M432.2 95.2h.01M431.7 91.9h.01M434.6 89.3h.01M426.1 84.9h.01M439.0 93.7h.01M430.0 93.6h.01M438.2 105.1h.01M424.4 101.1h.01M423.4 97.6h.01M429.0 92.6h.01M429.6 86.3h.01M430.9 90.9h.01M436.9 80.5h.01M433.1 84.4h.01M440.4 96.6h.01M430.1 87.0h.01M428.3 90.1h.01M427.8 91.8h.01M434.5 97.7h.01M440.3 83.2h.01M427.8 89.6h.01M432.9 90.1h.01M422.2 84.8h.01M423.0 98.1h.01M428.4 86.8h.01M443.3 83.0h.01M425.6 100.9h.01M434.3 85.0h.01M438.0 95.4h.01M435.6 103.1h.01M433.7 99.7h.01M425.0 102.6h.01M440.8 89.4h.01M422.1 99.1h.01M424.5 87.4h.01M418.5 91.8h.01M435.8 101.1h.01M433.1 101.8h.01M437.3 87.2h.01M435.8 85.3h.01M420.3 96.6h.01M433.6 79.7h.01M417.5 90.3h.01M426.6 96.4h.01M423.8 91.1h.01M426.9 94.8h.01M423.8 89.0h.01M429.2 93.2h.01M416.8 105.3h.01M418.9 94.5h.01M422.8 93.7h.01M436.2 82.8h.01M419.9 98.1h.01M434.7 83.4h.01M428.7 92.7h.01M434.3 93.8h.01M437.8 88.8h.01M432.5 100.8h.01M417.6 83.6h.01M427.7 80.6h.01M427.0 97.4h.01M432.0 96.6h.01M424.3 99.0h.01M433.4 101.9h.01M431.5 83.2h.01M423.0 94.1h.01M429.3 87.8h.01M429.7 98.5h.01M431.1 83.2h.01M429.0 94.7h.01M442.1 78.6h.01M439.9 84.5h.01M413.2 89.5h.01M428.5 94.6h.01M420.0 86.5h.01M429.1 83.4h.01M426.7 106.9h.01M425.0 86.2h.01M431.3 101.2h.01M422.4 96.5h.01M412.6 92.0h.01M423.8 90.2h.01M431.0 85.2h.01M431.6 94.3h.01M427.7 92.8h.01M434.4 87.2h.01M440.1 96.9h.01M428.5 89.6h.01M423.6 101.7h.01M418.8 92.1h.01M427.0 89.2h.01M447.3 97.2h.01M421.8 98.5h.01M424.2 92.6h.01M431.8 87.5h.01M430.9 82.4h.01M422.0 94.4h.01M433.6 85.1h.01M441.4 90.7h.01M422.6 104.1h.01M435.8 81.0h.01M422.1 98.0h.01M427.8 103.9h.01M437.4 100.9h.01M428.5 94.1h.01M422.9 90.0h.01M414.0 83.2h.01M440.3 86.4h.01M411.5 92.5h.01M425.4 101.3h.01M430.0 107.6h.01M417.8 79.3h.01M435.3 96.5h.01M447.1 98.8h.01M429.1 87.5h.01M436.7 96.3h.01M426.6 89.0h.01M434.3 103.3h.01M423.1 97.2h.01M430.9 98.5h.01M422.6 93.0h.01M425.1 83.6h.01M424.7 82.4h.01M429.2 89.8h.01M437.7 82.0h.01M422.5 94.2h.01M440.8 100.0h.01M439.8 86.8h.01M424.4 92.7h.01M441.3 89.2h.01M432.1 93.2h.01M433.4 87.8h.01M425.4 94.4h.01M434.9 94.7h.01M440.3 88.0h.01M421.5 95.9h.01M431.1 87.9h.01M420.0 102.3h.01M417.2 86.0h.01M427.0 100.5h.01M420.1 95.2h.01M427.5 105.3h.01M435.2 98.5h.01M425.8 95.3h.01M416.5 79.9h.01M422.1 85.7h.01M425.1 97.2h.01M434.9 103.7h.01M424.3 87.9h.01M421.3 84.2h.01M441.4 92.7h.01M426.5 89.2h.01M426.8 108.4h.01M419.7 99.6h.01M418.2 90.1h.01M443.2 93.0h.01M417.2 96.2h.01M421.8 88.4h.01M427.7 92.4h.01M427.1 94.4h.01M420.6 92.8h.01M428.2 101.9h.01M427.8 91.8h.01M438.4 93.1h.01M429.4 102.1h.01M426.1 91.2h.01M432.3 91.3h.01M423.3 85.4h.01M427.7 80.8h.01M425.0 84.0h.01M430.6 95.0h.01M424.7 87.6h.01M418.4 92.2h.01M431.3 87.9h.01M439.0 88.2h.01M439.4 90.9h.01M445.4 98.1h.01M434.7 99.4h.01M423.2 95.0h.01M437.5 88.4h.01M440.1 91.3h.01M435.2 98.7h.01M425.4 83.9h.01M437.5 105.2h.01M432.9 106.0h.01M422.7 98.2h.01M431.0 98.2h.01M427.6 107.9h.01M426.1 93.5h.01M437.7 85.4h.01M419.6 88.3h.01M431.0 92.2h.01M432.2 105.2h.01M425.3 83.2h.01M439.5 108.5h.01M428.1 105.2h.01M427.3 92.5h.01M418.4 94.4h.01M420.7 87.9h.01M445.1 96.0h.01M442.0 84.0h.01M430.8 80.1h.01M422.0 93.4h.01M425.4 93.6h.01M430.8 86.5h.01M427.3 101.0h.01M421.9 81.9h.01M438.4 85.3h.01M412.6 85.5h.01M415.7 76.4h.01M424.7 92.1h.01M410.7 92.8h.01M426.0 83.6h.01M425.1 90.9h.01M433.8 90.7h.01M422.8 95.6h.01M430.2 92.2h.01M419.9 90.7h.01M432.2 92.3h.01M428.0 89.7h.01M425.4 85.0h.01" stroke="#000" stroke-opacity="0.42" stroke-width="0.75" stroke-linecap="square" fill="none"/>
<path d="M429.4 120.7h.01M443.1 140.3h.01M452.2 136.5h.01M436.6 122.8h.01M425.5 122.4h.01M443.5 123.6h.01M458.9 133.1h.01M434.7 116.9h.01M469.0 136.8h.01M461.2 120.0h.01M447.6 131.6h.01M448.4 123.9h.01M474.0 146.4h.01M425.3 127.7h.01M463.9 122.9h.01M450.9 121.3h.01M423.5 126.7h.01M465.0 110.6h.01M434.2 115.7h.01M431.1 141.5h.01M444.3 122.8h.01M442.6 125.2h.01" stroke="#000" stroke-opacity="0.35" stroke-width="0.75" stroke-linecap="square" fill="none"/>
</g>
<g filter="url(#c)" fill="none">
<path d="M404.2 57.8h-1.7M412.8 149.9v1.7M404.2 52.9h-1.7M417.8 149.9v1.7M404.2 49.4h-1.7M421.3 149.9v1.7M404.2 46.7h-1.7M424.0 149.9v1.7M404.2 44.5h-1.7M426.2 149.9v1.7M404.2 42.6h-1.7M428.1 149.9v1.7M404.2 41.0h-1.7M429.7 149.9v1.7M404.2 39.6h-1.7M431.1 149.9v1.7M404.2 85.6h-1.7M440.8 149.9v1.7M404.2 80.7h-1.7M445.8 149.9v1.7M404.2 77.2h-1.7M449.3 149.9v1.7M404.2 74.5h-1.7M452.0 149.9v1.7M404.2 72.3h-1.7M454.2 149.9v1.7M404.2 70.5h-1.7M456.1 149.9v1.7M404.2 68.8h-1.7M457.7 149.9v1.7M404.2 67.4h-1.7M459.1 149.9v1.7M404.2 113.5h-1.7M468.8 149.9v1.7M404.2 108.6h-1.7M473.8 149.9v1.7M404.2 105.1h-1.7M477.3 149.9v1.7M404.2 102.4h-1.7M480.0 149.9v1.7M404.2 100.2h-1.7M482.2 149.9v1.7M404.2 98.3h-1.7M484.1 149.9v1.7M404.2 96.7h-1.7M485.7 149.9v1.7M404.2 95.3h-1.7M487.1 149.9v1.7M404.2 141.3h-1.7M496.8 149.9v1.7M404.2 136.4h-1.7M501.8 149.9v1.7M404.2 132.9h-1.7M505.3 149.9v1.7M404.2 130.2h-1.7M508.0 149.9v1.7M404.2 128.0h-1.7M510.2 149.9v1.7M404.2 126.2h-1.7M512.1 149.9v1.7M404.2 124.5h-1.7M513.7 149.9v1.7M404.2 123.1h-1.7M515.1 149.9v1.7" stroke="#505050" stroke-width="0.7"/>
<path d="M404.2 38.3h-3.2M404.2 66.2h-3.2M404.2 94.0h-3.2M404.2 121.9h-3.2M404.2 149.7h-3.2M404.4 149.9v3.2M432.4 149.9v3.2M460.4 149.9v3.2M488.4 149.9v3.2M516.4 149.9v3.2" stroke="#3a3a3a" stroke-width="0.9"/>
<path d="M518.4 36.3V149.9" stroke="#808080" stroke-width="0.9"/>
<path d="M518.4 149.9H404.2V36.3H518.4" stroke="#444" stroke-width="1"/>
<path d="M439.6 36.3V149.9M404.2 112.1H518.4" stroke="#484848" stroke-width="0.85"/>
</g>
<g font-size="7.4" fill="#222">
<text x="405.8" y="44.3">3.61</text>
<text x="516.9" y="44.3" text-anchor="end">95</text>
<text x="405.8" y="148.8">0.1</text>
<text x="516.9" y="148.8" text-anchor="end">1.26</text>
</g>
<text x="446" y="162.2" font-size="10.7" stroke="#111" stroke-width="0.2">CD62L</text>
<text transform="translate(399.3 93.4) rotate(-90)" text-anchor="middle" font-size="10.8" stroke="#111" stroke-width="0.2">CD25</text>
<path d="M167.3 94H197" stroke="#000" stroke-width="1.7" fill="none"/><path d="M195 88.9L205.6 94L195 99.1Z" fill="#000"/>
<g stroke="#000" stroke-width="1.05" fill="none">
<path d="M45.5 233.9V447.25M45.0 447.25H366.3"/>
<path d="M45.5 447.2h-6.3M45.5 404.7h-6.3M45.5 362.1h-6.3M45.5 319.5h-6.3M45.5 277.0h-6.3M45.5 234.4h-6.3M45.5 447.25v5.8M90.2 447.25v5.8M135.0 447.25v5.8M179.7 447.25v5.8M224.4 447.25v5.8M269.1 447.25v5.8M313.9 447.25v5.8M358.6 447.25v5.8"/>
<path d="M45.50 234.40H365.00M64.67 234.40V255.69M64.67 255.69H68.30M68.30 234.40V383.39M68.30 319.54H71.30M71.30 319.54V404.68M71.30 404.68H74.25M74.25 404.68V447.25M68.30 383.39H77.45M77.45 383.39V404.68M77.45 404.68H80.64M80.64 404.68V425.97M80.64 425.97H179.69M179.69 425.97V447.25M122.18 234.40V255.69M122.18 255.69H234.00M234.00 255.69V276.97M234.00 276.97H269.15M269.15 276.97V298.25M269.15 298.25H365.00" stroke-linecap="square"/>
</g>
<rect x="64.2" y="315.8" width="7.4" height="7.4" fill="#000"/>
<rect x="67.2" y="401.0" width="7.4" height="7.4" fill="#000"/>
<rect x="70.2" y="443.6" width="7.4" height="7.4" fill="#000"/>
<path d="M118.0 259.6H126.4L122.2 251.8Z" fill="#000"/>
<path d="M229.8 280.9H238.2L234.0 273.1Z" fill="#000"/>
<path d="M264.9 302.2H273.3L269.1 294.4Z" fill="#000"/>
<path d="M360.8 302.2H369.2L365.0 294.4Z" fill="#000"/>
<path d="M60.4 252.1H68.8L64.6 259.9Z" fill="#000"/>
<path d="M64.0 379.8H72.4L68.2 387.6Z" fill="#000"/>
<path d="M73.2 401.1H81.6L77.4 408.9Z" fill="#000"/>
<path d="M76.3 422.4H84.7L80.5 430.2Z" fill="#000"/>
<path d="M175.4 443.7H183.8L179.6 451.4Z" fill="#000"/>
<path d="M351.8 230.8H359.8L355.8 238.4Z" fill="#fff" stroke="#000" stroke-width="1.1"/>
<path d="M361.0 238.6H369.0L365.0 231.0Z" fill="#fff" stroke="#000" stroke-width="1.1"/>
<g stroke="#080808" stroke-width="0.28">
<text x="37.6" y="451.4" font-size="11.7" text-anchor="end">0</text>
<text x="37.6" y="408.8" font-size="11.7" text-anchor="end">20</text>
<text x="37.6" y="366.3" font-size="11.7" text-anchor="end">40</text>
<text x="37.6" y="323.7" font-size="11.7" text-anchor="end">60</text>
<text x="37.6" y="281.1" font-size="11.7" text-anchor="end">80</text>
<text x="37.6" y="238.6" font-size="11.7" text-anchor="end">100</text>
<text x="45.5" y="466.7" font-size="11.7" text-anchor="middle">0</text>
<text x="90.2" y="466.7" font-size="11.7" text-anchor="middle">14</text>
<text x="135.0" y="466.7" font-size="11.7" text-anchor="middle">28</text>
<text x="179.7" y="466.7" font-size="11.7" text-anchor="middle">42</text>
<text x="224.4" y="466.7" font-size="11.7" text-anchor="middle">56</text>
<text x="269.1" y="466.7" font-size="11.7" text-anchor="middle">70</text>
<text x="313.9" y="466.7" font-size="11.7" text-anchor="middle">84</text>
<text x="358.6" y="466.7" font-size="11.7" text-anchor="middle">98</text>
<text x="204.6" y="487.6" font-size="12" text-anchor="middle">days</text>
<text transform="translate(9.5 342.6) rotate(-90)" text-anchor="middle" font-size="12">survival [%]</text>
</g>
<path d="M259.2 341.2H290.3" stroke="#000" stroke-width="1.05"/>
<rect x="271.1" y="337.5" width="7.4" height="7.4" fill="#000"/>
<text x="294.6" y="345.1" font-size="11.15" stroke="#080808" stroke-width="0.22">CD25-</text>
<path d="M259.2 358.2H290.3" stroke="#000" stroke-width="1.05"/>
<path d="M270.6 361.8H279.0L274.8 354.0Z" fill="#000"/>
<text x="294.6" y="362.1" font-size="11.15" stroke="#080808" stroke-width="0.22">plus CD25+CD62L+</text>
<path d="M259.2 374.8H290.3" stroke="#000" stroke-width="1.05"/>
<path d="M270.6 371.2H279.0L274.8 379.0Z" fill="#000"/>
<text x="294.6" y="378.7" font-size="11.15" stroke="#080808" stroke-width="0.22">plus CD25+CD62L-</text>
<path d="M259.2 391.6H290.3" stroke="#000" stroke-width="1.05"/>
<path d="M270.8 395.1H278.8L274.8 387.5Z" fill="#fff" stroke="#000" stroke-width="1.1"/>
<text x="294.6" y="395.5" font-size="11.15" stroke="#080808" stroke-width="0.22">CD25+CD62L+</text>
<path d="M259.2 408.4H290.3" stroke="#000" stroke-width="1.05"/>
<path d="M270.8 404.9H278.8L274.8 412.5Z" fill="#fff" stroke="#000" stroke-width="1.1"/>
<text x="294.6" y="412.3" font-size="11.15" stroke="#080808" stroke-width="0.22">CD25+CD62L-</text>
</svg></body></html>
